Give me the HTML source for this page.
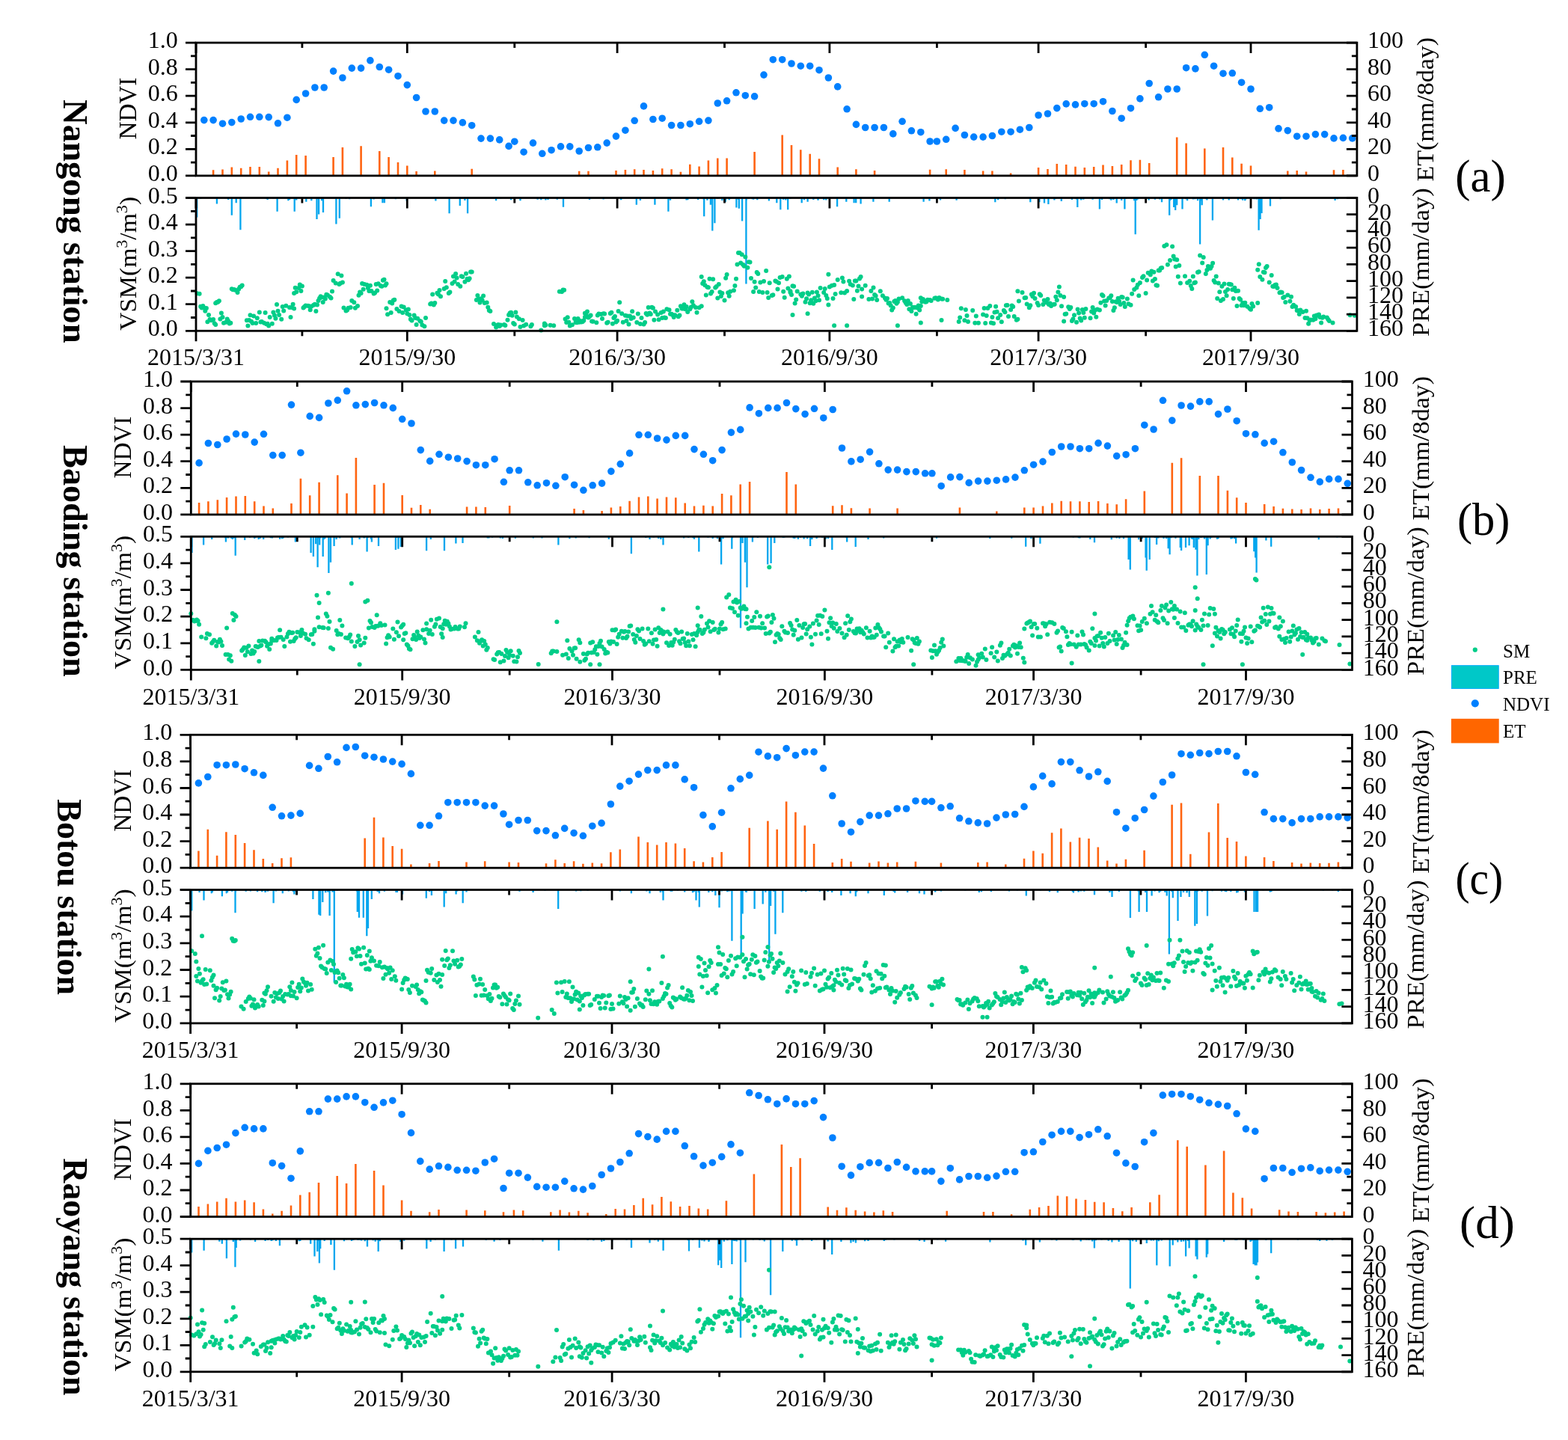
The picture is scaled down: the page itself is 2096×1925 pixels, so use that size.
<!DOCTYPE html>
<html><head><meta charset="utf-8"><title>Figure</title><style>html,body{margin:0;padding:0;background:#fff;width:2096px;height:1925px;overflow:hidden}svg{display:block}</style></head><body>
<svg width="2096" height="1925" viewBox="0 0 2096 1925" font-family="'Liberation Serif', 'DejaVu Serif', serif">
<rect width="2096" height="1925" fill="#fff"/>
<path d="M285.1 234.8v-7.5M297.5 234.8v-8.4M309.8 234.8v-11.4M322.2 234.8v-10.1M334.5 234.8v-11.9M346.8 234.8v-11.9M359.2 234.8v-5.2M371.5 234.8v-10.1M383.9 234.8v-20.3M396.2 234.8v-27.7M408.6 234.8v-26.7M445.6 234.8v-24.9M457.9 234.8v-37.9M482.6 234.8v-39.6M507.3 234.8v-32.7M519.6 234.8v-24.7M532.0 234.8v-17.8M544.3 234.8v-13.3M556.6 234.8v-5.7M581.3 234.8v-6.2M630.7 234.8v-9.1M774.2 234.8v-6.0M786.5 234.8v-6.0M823.5 234.8v-6.9M835.9 234.8v-7.8M848.2 234.8v-8.5M860.5 234.8v-7.8M872.9 234.8v-6.9M885.2 234.8v-9.6M897.6 234.8v-8.5M909.9 234.8v-5.0M922.3 234.8v-15.1M934.6 234.8v-12.4M946.9 234.8v-20.3M959.3 234.8v-23.3M971.6 234.8v-23.3M1008.6 234.8v-31.8M1045.7 234.8v-54.4M1058.0 234.8v-40.9M1070.3 234.8v-34.5M1082.7 234.8v-29.0M1095.0 234.8v-22.6M1119.7 234.8v-11.4M1144.4 234.8v-8.5M1169.1 234.8v-6.9M1243.1 234.8v-8.0M1264.7 234.8v-8.5M1289.4 234.8v-7.8M1314.1 234.8v-6.4M1326.4 234.8v-6.4M1351.1 234.8v-3.2M1388.1 234.8v-10.7M1400.5 234.8v-8.9M1412.8 234.8v-15.8M1425.2 234.8v-14.9M1437.5 234.8v-12.1M1449.8 234.8v-10.7M1462.2 234.8v-11.7M1474.5 234.8v-14.2M1486.9 234.8v-12.8M1499.2 234.8v-14.8M1511.5 234.8v-20.6M1523.9 234.8v-21.0M1536.2 234.8v-16.9M1573.2 234.8v-51.2M1585.6 234.8v-43.2M1610.3 234.8v-36.4M1635.0 234.8v-37.9M1647.3 234.8v-24.4M1659.6 234.8v-16.0M1672.0 234.8v-13.3M1721.3 234.8v-6.4M1733.7 234.8v-6.9M1746.0 234.8v-5.3M1783.0 234.8v-7.5M1795.4 234.8v-7.8" stroke="#ff6410" stroke-width="2.6" fill="none"/>
<g fill="#0080ff"><circle cx="272.8" cy="160.6" r="4.8"/><circle cx="285.1" cy="160.6" r="4.8"/><circle cx="297.5" cy="165.2" r="4.8"/><circle cx="309.8" cy="163.6" r="4.8"/><circle cx="322.2" cy="159.0" r="4.8"/><circle cx="334.5" cy="156.3" r="4.8"/><circle cx="346.8" cy="156.3" r="4.8"/><circle cx="359.2" cy="156.6" r="4.8"/><circle cx="371.5" cy="164.8" r="4.8"/><circle cx="383.9" cy="157.2" r="4.8"/><circle cx="396.2" cy="133.4" r="4.8"/><circle cx="408.6" cy="125.0" r="4.8"/><circle cx="420.9" cy="117.0" r="4.8"/><circle cx="433.2" cy="117.0" r="4.8"/><circle cx="445.6" cy="95.1" r="4.8"/><circle cx="457.9" cy="104.0" r="4.8"/><circle cx="470.3" cy="91.1" r="4.8"/><circle cx="482.6" cy="91.1" r="4.8"/><circle cx="494.9" cy="80.9" r="4.8"/><circle cx="507.3" cy="89.5" r="4.8"/><circle cx="519.6" cy="93.2" r="4.8"/><circle cx="532.0" cy="101.7" r="4.8"/><circle cx="544.3" cy="113.6" r="4.8"/><circle cx="556.6" cy="130.5" r="4.8"/><circle cx="569.0" cy="149.0" r="4.8"/><circle cx="581.3" cy="149.0" r="4.8"/><circle cx="593.7" cy="161.1" r="4.8"/><circle cx="606.0" cy="161.1" r="4.8"/><circle cx="618.4" cy="163.9" r="4.8"/><circle cx="630.7" cy="167.7" r="4.8"/><circle cx="643.0" cy="185.1" r="4.8"/><circle cx="655.4" cy="185.1" r="4.8"/><circle cx="667.7" cy="186.9" r="4.8"/><circle cx="680.1" cy="195.4" r="4.8"/><circle cx="687.8" cy="189.2" r="4.8"/><circle cx="700.1" cy="203.2" r="4.8"/><circle cx="712.5" cy="191.1" r="4.8"/><circle cx="724.8" cy="205.3" r="4.8"/><circle cx="737.1" cy="200.7" r="4.8"/><circle cx="749.5" cy="195.9" r="4.8"/><circle cx="761.8" cy="195.9" r="4.8"/><circle cx="774.2" cy="202.0" r="4.8"/><circle cx="786.5" cy="197.5" r="4.8"/><circle cx="798.8" cy="196.8" r="4.8"/><circle cx="811.2" cy="191.1" r="4.8"/><circle cx="823.5" cy="182.1" r="4.8"/><circle cx="835.9" cy="174.2" r="4.8"/><circle cx="848.2" cy="161.3" r="4.8"/><circle cx="860.5" cy="141.9" r="4.8"/><circle cx="872.9" cy="159.5" r="4.8"/><circle cx="885.2" cy="158.2" r="4.8"/><circle cx="897.6" cy="167.5" r="4.8"/><circle cx="909.9" cy="167.5" r="4.8"/><circle cx="922.3" cy="165.7" r="4.8"/><circle cx="934.6" cy="162.3" r="4.8"/><circle cx="946.9" cy="161.1" r="4.8"/><circle cx="959.3" cy="138.0" r="4.8"/><circle cx="971.6" cy="134.8" r="4.8"/><circle cx="984.0" cy="123.8" r="4.8"/><circle cx="996.3" cy="127.7" r="4.8"/><circle cx="1008.6" cy="128.9" r="4.8"/><circle cx="1021.0" cy="100.1" r="4.8"/><circle cx="1033.3" cy="79.7" r="4.8"/><circle cx="1045.7" cy="79.7" r="4.8"/><circle cx="1058.0" cy="85.0" r="4.8"/><circle cx="1070.3" cy="88.2" r="4.8"/><circle cx="1082.7" cy="88.2" r="4.8"/><circle cx="1095.0" cy="93.7" r="4.8"/><circle cx="1107.4" cy="104.0" r="4.8"/><circle cx="1119.7" cy="115.9" r="4.8"/><circle cx="1132.1" cy="145.8" r="4.8"/><circle cx="1144.4" cy="166.4" r="4.8"/><circle cx="1156.7" cy="170.5" r="4.8"/><circle cx="1169.1" cy="170.5" r="4.8"/><circle cx="1181.4" cy="170.5" r="4.8"/><circle cx="1193.8" cy="178.9" r="4.8"/><circle cx="1206.1" cy="162.3" r="4.8"/><circle cx="1218.4" cy="174.8" r="4.8"/><circle cx="1230.8" cy="176.7" r="4.8"/><circle cx="1243.1" cy="189.0" r="4.8"/><circle cx="1252.4" cy="189.0" r="4.8"/><circle cx="1264.7" cy="186.3" r="4.8"/><circle cx="1277.1" cy="171.4" r="4.8"/><circle cx="1289.4" cy="180.5" r="4.8"/><circle cx="1301.7" cy="183.1" r="4.8"/><circle cx="1314.1" cy="183.1" r="4.8"/><circle cx="1326.4" cy="181.5" r="4.8"/><circle cx="1338.8" cy="176.2" r="4.8"/><circle cx="1351.1" cy="176.2" r="4.8"/><circle cx="1363.4" cy="173.2" r="4.8"/><circle cx="1375.8" cy="170.5" r="4.8"/><circle cx="1388.1" cy="154.0" r="4.8"/><circle cx="1400.5" cy="152.0" r="4.8"/><circle cx="1412.8" cy="144.6" r="4.8"/><circle cx="1425.2" cy="138.9" r="4.8"/><circle cx="1437.5" cy="139.9" r="4.8"/><circle cx="1449.8" cy="138.7" r="4.8"/><circle cx="1462.2" cy="138.7" r="4.8"/><circle cx="1474.5" cy="135.7" r="4.8"/><circle cx="1486.9" cy="148.5" r="4.8"/><circle cx="1499.2" cy="158.2" r="4.8"/><circle cx="1511.5" cy="144.7" r="4.8"/><circle cx="1523.9" cy="131.9" r="4.8"/><circle cx="1536.2" cy="111.5" r="4.8"/><circle cx="1548.6" cy="129.8" r="4.8"/><circle cx="1560.9" cy="119.0" r="4.8"/><circle cx="1573.2" cy="119.0" r="4.8"/><circle cx="1585.6" cy="90.7" r="4.8"/><circle cx="1597.9" cy="91.9" r="4.8"/><circle cx="1610.3" cy="73.3" r="4.8"/><circle cx="1622.6" cy="88.2" r="4.8"/><circle cx="1635.0" cy="98.2" r="4.8"/><circle cx="1647.3" cy="97.8" r="4.8"/><circle cx="1659.6" cy="110.2" r="4.8"/><circle cx="1672.0" cy="119.0" r="4.8"/><circle cx="1684.3" cy="145.3" r="4.8"/><circle cx="1696.7" cy="143.7" r="4.8"/><circle cx="1709.0" cy="171.9" r="4.8"/><circle cx="1721.3" cy="174.6" r="4.8"/><circle cx="1733.7" cy="182.2" r="4.8"/><circle cx="1746.0" cy="182.2" r="4.8"/><circle cx="1758.4" cy="179.6" r="4.8"/><circle cx="1770.7" cy="179.6" r="4.8"/><circle cx="1783.0" cy="184.9" r="4.8"/><circle cx="1795.4" cy="184.4" r="4.8"/><circle cx="1807.7" cy="184.9" r="4.8"/></g>
<path d="M263.2 264.5v26.0M289.9 264.5v7.9M309.8 264.5v23.3M315.7 264.5v6.7M321.4 264.5v42.8M370.6 264.5v18.2M393.7 264.5v18.2M409.3 264.5v5.3M423.5 264.5v28.6M426.1 264.5v22.1M432.0 264.5v19.6M449.4 264.5v35.0M453.8 264.5v27.3M495.9 264.5v11.8M511.4 264.5v6.7M513.9 264.5v6.7M543.7 264.5v4.0M582.4 264.5v4.0M600.6 264.5v20.8M614.8 264.5v10.4M625.1 264.5v20.8M753.0 264.5v12.3M830.2 264.5v2.8M850.8 264.5v9.2M875.4 264.5v9.2M893.4 264.5v18.2M919.3 264.5v2.8M941.2 264.5v24.7M949.9 264.5v9.2M952.3 264.5v44.1M955.4 264.5v33.8M969.8 264.5v5.3M984.4 264.5v13.1M987.8 264.5v14.3M992.1 264.5v31.1M997.4 264.5v115.1M1012.3 264.5v2.8M1027.9 264.5v4.0M1038.3 264.5v6.7M1043.3 264.5v15.7M1053.2 264.5v15.7M1071.7 264.5v6.7M1079.6 264.5v5.3M1119.1 264.5v11.8M1131.3 264.5v5.3M1141.6 264.5v6.7M1144.2 264.5v6.7M1150.6 264.5v7.9M1167.4 264.5v5.3M1188.7 264.5v5.3M1234.6 264.5v5.3M1242.4 264.5v4.0M1330.3 264.5v5.8M1343.7 264.5v1.8M1377.3 264.5v5.8M1389.4 264.5v5.8M1396.0 264.5v7.1M1401.4 264.5v8.4M1409.4 264.5v3.1M1418.8 264.5v4.4M1440.3 264.5v12.4M1469.9 264.5v15.1M1483.3 264.5v1.8M1492.7 264.5v7.1M1503.4 264.5v15.1M1517.7 264.5v48.7M1535.6 264.5v3.1M1553.0 264.5v5.8M1563.2 264.5v23.2M1569.2 264.5v12.4M1571.2 264.5v16.4M1573.2 264.5v9.8M1580.5 264.5v15.1M1585.3 264.5v1.8M1597.3 264.5v1.8M1604.1 264.5v62.1M1606.7 264.5v9.8M1612.6 264.5v1.8M1620.9 264.5v29.9M1659.0 264.5v1.8M1665.8 264.5v1.8M1676.5 264.5v1.8M1682.6 264.5v43.3M1684.6 264.5v28.6M1686.5 264.5v20.6M1698.0 264.5v11.1M1711.5 264.5v1.8M1787.8 264.5v1.8M268.2 264.5v1.4M305.2 264.5v2.6M322.2 264.5v0.9M356.1 264.5v1.2M357.6 264.5v2.5M365.4 264.5v1.0M385.4 264.5v3.8M387.0 264.5v2.6M396.2 264.5v3.0M416.3 264.5v3.8M424.0 264.5v1.4M430.1 264.5v3.8M462.5 264.5v1.4M467.2 264.5v1.8M499.6 264.5v2.0M528.9 264.5v1.8M621.4 264.5v3.5M663.1 264.5v3.7M669.3 264.5v0.9M683.1 264.5v2.8M695.5 264.5v3.7M697.0 264.5v1.1M718.6 264.5v2.3M723.3 264.5v2.7M729.4 264.5v3.0M732.5 264.5v2.6M744.8 264.5v2.2M788.0 264.5v2.4M806.6 264.5v1.9M855.9 264.5v3.6M896.0 264.5v3.3M917.6 264.5v2.9M933.1 264.5v2.4M940.8 264.5v2.4M945.4 264.5v3.3M959.3 264.5v1.5M965.4 264.5v3.4M970.1 264.5v2.6M974.7 264.5v2.8M976.2 264.5v1.5M987.0 264.5v2.3M991.7 264.5v1.6M997.8 264.5v3.0M1000.9 264.5v1.5M1005.6 264.5v1.7M1007.1 264.5v2.3M1047.2 264.5v2.6M1050.3 264.5v2.9M1056.5 264.5v1.6M1075.0 264.5v2.7M1079.6 264.5v2.4M1081.1 264.5v1.4M1082.7 264.5v1.0M1087.3 264.5v2.5M1093.5 264.5v3.3M1101.2 264.5v2.8M1104.3 264.5v3.1M1257.0 264.5v2.9M1278.6 264.5v3.3M1334.1 264.5v2.8M1375.8 264.5v1.1M1411.3 264.5v1.5M1432.9 264.5v2.6M1437.5 264.5v1.1M1439.0 264.5v2.1M1445.2 264.5v3.0M1448.3 264.5v2.3M1460.6 264.5v2.3M1473.0 264.5v2.6M1485.3 264.5v3.3M1488.4 264.5v2.6M1499.2 264.5v3.4M1505.4 264.5v1.6M1516.2 264.5v3.8M1519.3 264.5v3.5M1520.8 264.5v1.9M1543.9 264.5v2.2M1550.1 264.5v2.1M1564.0 264.5v3.8M1565.5 264.5v2.4M1576.3 264.5v1.2M1587.1 264.5v3.8M1590.2 264.5v1.3M1594.8 264.5v2.1M1596.4 264.5v1.8M1601.0 264.5v3.8M1602.6 264.5v1.0M1604.1 264.5v2.3M1605.6 264.5v3.9M1611.8 264.5v1.1M1613.4 264.5v3.0M1635.0 264.5v2.9M1642.7 264.5v2.9M1655.0 264.5v2.9M1656.6 264.5v0.9M1661.2 264.5v3.2M1664.3 264.5v3.7M1672.0 264.5v1.1M1679.7 264.5v1.9M1784.6 264.5v3.6" stroke="#04a6ee" stroke-width="2.3" fill="none"/>
<g fill="#00cd88"><circle cx="263.5" cy="392.3" r="3"/><circle cx="266.6" cy="392.8" r="3"/><circle cx="268.2" cy="409.7" r="3"/><circle cx="269.7" cy="411.4" r="3"/><circle cx="271.3" cy="409.1" r="3"/><circle cx="272.8" cy="411.4" r="3"/><circle cx="274.3" cy="415.8" r="3"/><circle cx="275.9" cy="412.0" r="3"/><circle cx="277.4" cy="430.3" r="3"/><circle cx="279.0" cy="420.9" r="3"/><circle cx="280.5" cy="426.9" r="3"/><circle cx="282.1" cy="428.3" r="3"/><circle cx="285.1" cy="427.0" r="3"/><circle cx="286.7" cy="432.3" r="3"/><circle cx="288.2" cy="433.9" r="3"/><circle cx="288.2" cy="405.2" r="3"/><circle cx="289.8" cy="404.0" r="3"/><circle cx="291.3" cy="403.7" r="3"/><circle cx="292.9" cy="402.3" r="3"/><circle cx="294.4" cy="426.6" r="3"/><circle cx="295.9" cy="418.6" r="3"/><circle cx="297.5" cy="424.1" r="3"/><circle cx="299.0" cy="431.8" r="3"/><circle cx="302.1" cy="430.7" r="3"/><circle cx="303.7" cy="426.6" r="3"/><circle cx="305.2" cy="429.3" r="3"/><circle cx="306.7" cy="432.5" r="3"/><circle cx="308.3" cy="431.7" r="3"/><circle cx="309.8" cy="386.2" r="3"/><circle cx="311.4" cy="387.2" r="3"/><circle cx="312.9" cy="387.0" r="3"/><circle cx="314.4" cy="387.7" r="3"/><circle cx="317.5" cy="391.0" r="3"/><circle cx="319.1" cy="386.6" r="3"/><circle cx="320.6" cy="383.8" r="3"/><circle cx="322.2" cy="383.3" r="3"/><circle cx="323.7" cy="381.6" r="3"/><circle cx="329.9" cy="428.2" r="3"/><circle cx="331.4" cy="435.5" r="3"/><circle cx="333.0" cy="428.0" r="3"/><circle cx="334.5" cy="421.3" r="3"/><circle cx="336.0" cy="429.7" r="3"/><circle cx="337.6" cy="431.9" r="3"/><circle cx="339.1" cy="422.4" r="3"/><circle cx="342.2" cy="432.0" r="3"/><circle cx="343.8" cy="425.2" r="3"/><circle cx="346.8" cy="417.6" r="3"/><circle cx="348.4" cy="430.5" r="3"/><circle cx="349.9" cy="430.1" r="3"/><circle cx="353.0" cy="431.7" r="3"/><circle cx="354.6" cy="417.9" r="3"/><circle cx="356.1" cy="433.3" r="3"/><circle cx="357.6" cy="432.8" r="3"/><circle cx="359.2" cy="435.4" r="3"/><circle cx="360.7" cy="423.9" r="3"/><circle cx="363.8" cy="432.7" r="3"/><circle cx="365.4" cy="417.5" r="3"/><circle cx="366.9" cy="421.6" r="3"/><circle cx="368.4" cy="425.7" r="3"/><circle cx="370.0" cy="406.9" r="3"/><circle cx="371.5" cy="415.7" r="3"/><circle cx="373.1" cy="421.0" r="3"/><circle cx="376.2" cy="426.8" r="3"/><circle cx="377.7" cy="409.9" r="3"/><circle cx="379.2" cy="415.6" r="3"/><circle cx="382.3" cy="408.8" r="3"/><circle cx="387.0" cy="410.9" r="3"/><circle cx="388.5" cy="424.0" r="3"/><circle cx="390.0" cy="410.9" r="3"/><circle cx="391.6" cy="406.7" r="3"/><circle cx="393.1" cy="412.4" r="3"/><circle cx="393.1" cy="391.9" r="3"/><circle cx="394.7" cy="384.8" r="3"/><circle cx="396.2" cy="390.3" r="3"/><circle cx="399.3" cy="385.1" r="3"/><circle cx="400.8" cy="380.5" r="3"/><circle cx="402.4" cy="389.0" r="3"/><circle cx="403.9" cy="382.4" r="3"/><circle cx="405.5" cy="411.4" r="3"/><circle cx="407.0" cy="409.9" r="3"/><circle cx="408.6" cy="408.6" r="3"/><circle cx="411.6" cy="408.8" r="3"/><circle cx="413.2" cy="409.3" r="3"/><circle cx="414.7" cy="414.3" r="3"/><circle cx="416.3" cy="409.4" r="3"/><circle cx="419.3" cy="407.8" r="3"/><circle cx="420.9" cy="406.7" r="3"/><circle cx="422.4" cy="415.9" r="3"/><circle cx="424.0" cy="407.4" r="3"/><circle cx="425.5" cy="401.9" r="3"/><circle cx="427.1" cy="398.7" r="3"/><circle cx="428.6" cy="396.2" r="3"/><circle cx="430.1" cy="397.4" r="3"/><circle cx="431.7" cy="404.0" r="3"/><circle cx="433.2" cy="397.6" r="3"/><circle cx="434.8" cy="399.6" r="3"/><circle cx="436.3" cy="393.8" r="3"/><circle cx="437.9" cy="394.4" r="3"/><circle cx="440.9" cy="396.8" r="3"/><circle cx="442.5" cy="398.4" r="3"/><circle cx="444.0" cy="389.6" r="3"/><circle cx="445.6" cy="375.1" r="3"/><circle cx="448.7" cy="378.4" r="3"/><circle cx="451.7" cy="366.3" r="3"/><circle cx="453.3" cy="380.0" r="3"/><circle cx="454.8" cy="378.8" r="3"/><circle cx="456.4" cy="368.6" r="3"/><circle cx="457.9" cy="377.6" r="3"/><circle cx="459.5" cy="411.5" r="3"/><circle cx="462.5" cy="415.5" r="3"/><circle cx="464.1" cy="414.4" r="3"/><circle cx="465.6" cy="411.8" r="3"/><circle cx="468.7" cy="411.0" r="3"/><circle cx="470.3" cy="402.1" r="3"/><circle cx="473.3" cy="404.3" r="3"/><circle cx="474.9" cy="411.7" r="3"/><circle cx="478.0" cy="408.9" r="3"/><circle cx="479.5" cy="394.8" r="3"/><circle cx="481.1" cy="390.5" r="3"/><circle cx="482.6" cy="392.0" r="3"/><circle cx="484.1" cy="379.1" r="3"/><circle cx="485.7" cy="386.7" r="3"/><circle cx="487.2" cy="379.9" r="3"/><circle cx="490.3" cy="380.8" r="3"/><circle cx="491.9" cy="384.9" r="3"/><circle cx="493.4" cy="389.0" r="3"/><circle cx="494.9" cy="381.7" r="3"/><circle cx="496.5" cy="389.0" r="3"/><circle cx="499.6" cy="392.4" r="3"/><circle cx="501.1" cy="391.6" r="3"/><circle cx="502.7" cy="380.0" r="3"/><circle cx="504.2" cy="388.6" r="3"/><circle cx="505.7" cy="379.2" r="3"/><circle cx="508.8" cy="382.1" r="3"/><circle cx="510.4" cy="382.7" r="3"/><circle cx="511.9" cy="374.7" r="3"/><circle cx="513.5" cy="373.7" r="3"/><circle cx="515.0" cy="381.6" r="3"/><circle cx="516.5" cy="379.2" r="3"/><circle cx="516.5" cy="412.2" r="3"/><circle cx="518.1" cy="420.3" r="3"/><circle cx="521.2" cy="403.9" r="3"/><circle cx="522.7" cy="417.9" r="3"/><circle cx="524.2" cy="405.4" r="3"/><circle cx="525.8" cy="401.4" r="3"/><circle cx="527.3" cy="400.8" r="3"/><circle cx="530.4" cy="413.0" r="3"/><circle cx="533.5" cy="416.0" r="3"/><circle cx="536.6" cy="409.6" r="3"/><circle cx="538.1" cy="417.9" r="3"/><circle cx="539.7" cy="410.4" r="3"/><circle cx="542.8" cy="414.5" r="3"/><circle cx="544.3" cy="419.3" r="3"/><circle cx="545.8" cy="413.4" r="3"/><circle cx="547.4" cy="421.0" r="3"/><circle cx="548.9" cy="426.7" r="3"/><circle cx="550.5" cy="428.4" r="3"/><circle cx="553.6" cy="421.4" r="3"/><circle cx="555.1" cy="425.0" r="3"/><circle cx="556.6" cy="433.9" r="3"/><circle cx="558.2" cy="425.8" r="3"/><circle cx="561.3" cy="428.9" r="3"/><circle cx="562.8" cy="430.1" r="3"/><circle cx="564.4" cy="434.4" r="3"/><circle cx="567.4" cy="436.3" r="3"/><circle cx="569.0" cy="424.9" r="3"/><circle cx="575.2" cy="406.5" r="3"/><circle cx="576.7" cy="405.4" r="3"/><circle cx="578.2" cy="393.4" r="3"/><circle cx="579.8" cy="407.4" r="3"/><circle cx="581.3" cy="405.0" r="3"/><circle cx="584.4" cy="391.7" r="3"/><circle cx="586.0" cy="393.6" r="3"/><circle cx="587.5" cy="388.0" r="3"/><circle cx="589.0" cy="396.2" r="3"/><circle cx="593.7" cy="386.0" r="3"/><circle cx="595.2" cy="376.1" r="3"/><circle cx="596.8" cy="384.2" r="3"/><circle cx="599.8" cy="392.1" r="3"/><circle cx="601.4" cy="390.6" r="3"/><circle cx="604.5" cy="379.0" r="3"/><circle cx="606.0" cy="369.5" r="3"/><circle cx="607.6" cy="376.6" r="3"/><circle cx="609.1" cy="366.1" r="3"/><circle cx="610.6" cy="371.4" r="3"/><circle cx="612.2" cy="380.1" r="3"/><circle cx="615.3" cy="382.7" r="3"/><circle cx="616.8" cy="369.2" r="3"/><circle cx="618.4" cy="370.1" r="3"/><circle cx="621.4" cy="376.7" r="3"/><circle cx="623.0" cy="365.7" r="3"/><circle cx="624.5" cy="372.7" r="3"/><circle cx="626.1" cy="374.3" r="3"/><circle cx="627.6" cy="372.2" r="3"/><circle cx="629.1" cy="363.5" r="3"/><circle cx="630.7" cy="363.4" r="3"/><circle cx="636.9" cy="401.0" r="3"/><circle cx="638.4" cy="395.1" r="3"/><circle cx="639.9" cy="399.8" r="3"/><circle cx="641.5" cy="404.4" r="3"/><circle cx="643.0" cy="399.2" r="3"/><circle cx="644.6" cy="401.3" r="3"/><circle cx="646.1" cy="395.6" r="3"/><circle cx="647.7" cy="405.0" r="3"/><circle cx="650.7" cy="404.5" r="3"/><circle cx="652.3" cy="410.7" r="3"/><circle cx="653.8" cy="415.0" r="3"/><circle cx="655.4" cy="415.9" r="3"/><circle cx="660.0" cy="432.9" r="3"/><circle cx="663.1" cy="437.5" r="3"/><circle cx="664.6" cy="434.8" r="3"/><circle cx="666.2" cy="433.9" r="3"/><circle cx="667.7" cy="436.0" r="3"/><circle cx="669.3" cy="434.4" r="3"/><circle cx="673.9" cy="434.0" r="3"/><circle cx="675.4" cy="434.9" r="3"/><circle cx="678.5" cy="427.7" r="3"/><circle cx="680.1" cy="421.1" r="3"/><circle cx="681.6" cy="418.5" r="3"/><circle cx="683.1" cy="417.7" r="3"/><circle cx="684.7" cy="421.7" r="3"/><circle cx="686.2" cy="431.9" r="3"/><circle cx="687.8" cy="433.6" r="3"/><circle cx="689.3" cy="417.6" r="3"/><circle cx="690.9" cy="423.4" r="3"/><circle cx="693.9" cy="426.2" r="3"/><circle cx="695.5" cy="436.9" r="3"/><circle cx="698.6" cy="427.9" r="3"/><circle cx="700.1" cy="435.6" r="3"/><circle cx="703.2" cy="433.7" r="3"/><circle cx="709.4" cy="436.2" r="3"/><circle cx="710.9" cy="434.1" r="3"/><circle cx="723.3" cy="441.4" r="3"/><circle cx="727.9" cy="432.6" r="3"/><circle cx="729.4" cy="434.5" r="3"/><circle cx="735.6" cy="434.8" r="3"/><circle cx="747.9" cy="389.8" r="3"/><circle cx="751.0" cy="389.9" r="3"/><circle cx="752.6" cy="387.4" r="3"/><circle cx="754.1" cy="387.7" r="3"/><circle cx="755.6" cy="426.6" r="3"/><circle cx="757.2" cy="430.9" r="3"/><circle cx="758.7" cy="424.3" r="3"/><circle cx="760.3" cy="430.7" r="3"/><circle cx="761.8" cy="435.4" r="3"/><circle cx="764.9" cy="434.2" r="3"/><circle cx="768.0" cy="426.1" r="3"/><circle cx="769.5" cy="430.9" r="3"/><circle cx="771.1" cy="431.3" r="3"/><circle cx="772.6" cy="426.1" r="3"/><circle cx="774.2" cy="430.8" r="3"/><circle cx="775.7" cy="428.9" r="3"/><circle cx="777.2" cy="430.4" r="3"/><circle cx="778.8" cy="429.9" r="3"/><circle cx="780.3" cy="428.6" r="3"/><circle cx="781.9" cy="424.1" r="3"/><circle cx="781.9" cy="418.8" r="3"/><circle cx="783.4" cy="420.1" r="3"/><circle cx="785.0" cy="416.5" r="3"/><circle cx="786.5" cy="424.5" r="3"/><circle cx="788.0" cy="422.9" r="3"/><circle cx="789.6" cy="421.5" r="3"/><circle cx="791.1" cy="429.6" r="3"/><circle cx="792.7" cy="429.8" r="3"/><circle cx="797.3" cy="431.2" r="3"/><circle cx="798.8" cy="421.5" r="3"/><circle cx="800.4" cy="419.5" r="3"/><circle cx="803.5" cy="419.9" r="3"/><circle cx="805.0" cy="426.0" r="3"/><circle cx="806.6" cy="419.3" r="3"/><circle cx="808.1" cy="419.6" r="3"/><circle cx="811.2" cy="431.8" r="3"/><circle cx="812.7" cy="430.7" r="3"/><circle cx="815.8" cy="418.9" r="3"/><circle cx="817.4" cy="417.7" r="3"/><circle cx="818.9" cy="432.8" r="3"/><circle cx="820.4" cy="425.1" r="3"/><circle cx="822.0" cy="422.9" r="3"/><circle cx="823.5" cy="430.6" r="3"/><circle cx="825.1" cy="428.7" r="3"/><circle cx="826.6" cy="416.1" r="3"/><circle cx="831.2" cy="419.2" r="3"/><circle cx="832.8" cy="430.7" r="3"/><circle cx="835.9" cy="421.7" r="3"/><circle cx="837.4" cy="429.1" r="3"/><circle cx="838.9" cy="422.5" r="3"/><circle cx="840.5" cy="433.4" r="3"/><circle cx="842.0" cy="422.5" r="3"/><circle cx="843.6" cy="426.0" r="3"/><circle cx="845.1" cy="416.3" r="3"/><circle cx="846.7" cy="424.6" r="3"/><circle cx="851.3" cy="431.0" r="3"/><circle cx="852.8" cy="419.5" r="3"/><circle cx="855.9" cy="432.9" r="3"/><circle cx="857.5" cy="424.9" r="3"/><circle cx="860.5" cy="433.5" r="3"/><circle cx="862.1" cy="431.1" r="3"/><circle cx="863.6" cy="418.9" r="3"/><circle cx="865.2" cy="420.7" r="3"/><circle cx="866.7" cy="411.0" r="3"/><circle cx="868.3" cy="418.6" r="3"/><circle cx="869.8" cy="420.1" r="3"/><circle cx="871.3" cy="410.8" r="3"/><circle cx="872.9" cy="411.8" r="3"/><circle cx="874.4" cy="427.7" r="3"/><circle cx="876.0" cy="416.4" r="3"/><circle cx="879.1" cy="420.6" r="3"/><circle cx="880.6" cy="427.2" r="3"/><circle cx="883.7" cy="417.9" r="3"/><circle cx="885.2" cy="425.0" r="3"/><circle cx="886.8" cy="416.6" r="3"/><circle cx="888.3" cy="424.6" r="3"/><circle cx="889.9" cy="425.1" r="3"/><circle cx="891.4" cy="413.2" r="3"/><circle cx="894.5" cy="414.2" r="3"/><circle cx="896.0" cy="419.8" r="3"/><circle cx="897.6" cy="419.7" r="3"/><circle cx="899.1" cy="421.1" r="3"/><circle cx="900.7" cy="423.9" r="3"/><circle cx="902.2" cy="421.3" r="3"/><circle cx="905.3" cy="414.8" r="3"/><circle cx="906.8" cy="423.2" r="3"/><circle cx="908.4" cy="421.4" r="3"/><circle cx="909.9" cy="409.3" r="3"/><circle cx="911.5" cy="412.6" r="3"/><circle cx="913.0" cy="412.5" r="3"/><circle cx="914.5" cy="407.3" r="3"/><circle cx="916.1" cy="413.2" r="3"/><circle cx="917.6" cy="409.9" r="3"/><circle cx="919.2" cy="417.0" r="3"/><circle cx="922.3" cy="413.3" r="3"/><circle cx="923.8" cy="410.4" r="3"/><circle cx="925.3" cy="403.2" r="3"/><circle cx="926.9" cy="408.3" r="3"/><circle cx="930.0" cy="410.9" r="3"/><circle cx="931.5" cy="417.8" r="3"/><circle cx="934.6" cy="411.2" r="3"/><circle cx="937.7" cy="409.2" r="3"/><circle cx="937.7" cy="370.0" r="3"/><circle cx="939.2" cy="378.9" r="3"/><circle cx="940.8" cy="376.3" r="3"/><circle cx="942.3" cy="381.3" r="3"/><circle cx="943.8" cy="394.6" r="3"/><circle cx="945.4" cy="383.8" r="3"/><circle cx="946.9" cy="384.3" r="3"/><circle cx="948.5" cy="372.7" r="3"/><circle cx="950.0" cy="392.5" r="3"/><circle cx="951.6" cy="390.0" r="3"/><circle cx="953.1" cy="373.2" r="3"/><circle cx="956.2" cy="384.6" r="3"/><circle cx="957.7" cy="382.9" r="3"/><circle cx="959.3" cy="398.5" r="3"/><circle cx="960.8" cy="379.9" r="3"/><circle cx="962.4" cy="390.5" r="3"/><circle cx="963.9" cy="396.0" r="3"/><circle cx="965.4" cy="392.1" r="3"/><circle cx="968.5" cy="401.5" r="3"/><circle cx="970.1" cy="371.7" r="3"/><circle cx="971.6" cy="367.0" r="3"/><circle cx="973.2" cy="391.3" r="3"/><circle cx="974.7" cy="395.8" r="3"/><circle cx="976.2" cy="389.7" r="3"/><circle cx="980.9" cy="388.2" r="3"/><circle cx="982.4" cy="382.0" r="3"/><circle cx="984.0" cy="372.7" r="3"/><circle cx="985.5" cy="353.5" r="3"/><circle cx="987.0" cy="337.9" r="3"/><circle cx="988.6" cy="338.0" r="3"/><circle cx="990.1" cy="351.6" r="3"/><circle cx="991.7" cy="340.2" r="3"/><circle cx="993.2" cy="353.7" r="3"/><circle cx="994.8" cy="355.8" r="3"/><circle cx="996.3" cy="343.4" r="3"/><circle cx="999.4" cy="357.8" r="3"/><circle cx="1000.9" cy="350.3" r="3"/><circle cx="1002.5" cy="350.4" r="3"/><circle cx="1004.0" cy="372.1" r="3"/><circle cx="1007.1" cy="389.9" r="3"/><circle cx="1008.6" cy="376.7" r="3"/><circle cx="1010.2" cy="384.4" r="3"/><circle cx="1011.7" cy="363.9" r="3"/><circle cx="1013.3" cy="366.0" r="3"/><circle cx="1014.8" cy="390.0" r="3"/><circle cx="1016.4" cy="377.5" r="3"/><circle cx="1019.4" cy="391.1" r="3"/><circle cx="1021.0" cy="376.0" r="3"/><circle cx="1024.1" cy="362.0" r="3"/><circle cx="1025.6" cy="390.9" r="3"/><circle cx="1027.2" cy="398.0" r="3"/><circle cx="1028.7" cy="378.2" r="3"/><circle cx="1031.8" cy="395.1" r="3"/><circle cx="1033.3" cy="394.3" r="3"/><circle cx="1036.4" cy="375.6" r="3"/><circle cx="1038.0" cy="376.5" r="3"/><circle cx="1039.5" cy="386.4" r="3"/><circle cx="1041.0" cy="378.3" r="3"/><circle cx="1042.6" cy="371.1" r="3"/><circle cx="1045.7" cy="370.1" r="3"/><circle cx="1047.2" cy="389.8" r="3"/><circle cx="1048.7" cy="397.7" r="3"/><circle cx="1051.8" cy="372.8" r="3"/><circle cx="1053.4" cy="385.6" r="3"/><circle cx="1054.9" cy="369.5" r="3"/><circle cx="1056.5" cy="389.3" r="3"/><circle cx="1056.5" cy="391.1" r="3"/><circle cx="1058.0" cy="393.9" r="3"/><circle cx="1059.5" cy="382.3" r="3"/><circle cx="1061.1" cy="382.7" r="3"/><circle cx="1062.6" cy="405.5" r="3"/><circle cx="1064.2" cy="400.6" r="3"/><circle cx="1065.7" cy="389.6" r="3"/><circle cx="1070.3" cy="393.4" r="3"/><circle cx="1071.9" cy="395.8" r="3"/><circle cx="1073.4" cy="392.4" r="3"/><circle cx="1076.5" cy="403.7" r="3"/><circle cx="1078.1" cy="399.2" r="3"/><circle cx="1079.6" cy="391.6" r="3"/><circle cx="1081.1" cy="393.5" r="3"/><circle cx="1082.7" cy="405.3" r="3"/><circle cx="1084.2" cy="401.3" r="3"/><circle cx="1085.8" cy="390.7" r="3"/><circle cx="1087.3" cy="405.7" r="3"/><circle cx="1088.9" cy="398.6" r="3"/><circle cx="1090.4" cy="402.3" r="3"/><circle cx="1091.9" cy="390.6" r="3"/><circle cx="1093.5" cy="395.2" r="3"/><circle cx="1095.0" cy="401.3" r="3"/><circle cx="1096.6" cy="385.0" r="3"/><circle cx="1101.2" cy="390.9" r="3"/><circle cx="1102.7" cy="385.9" r="3"/><circle cx="1104.3" cy="394.9" r="3"/><circle cx="1105.8" cy="398.9" r="3"/><circle cx="1107.4" cy="407.6" r="3"/><circle cx="1107.4" cy="366.8" r="3"/><circle cx="1108.9" cy="383.4" r="3"/><circle cx="1112.0" cy="381.8" r="3"/><circle cx="1113.5" cy="399.1" r="3"/><circle cx="1115.1" cy="380.9" r="3"/><circle cx="1116.6" cy="392.9" r="3"/><circle cx="1119.7" cy="374.1" r="3"/><circle cx="1124.3" cy="391.2" r="3"/><circle cx="1125.9" cy="371.6" r="3"/><circle cx="1127.4" cy="376.5" r="3"/><circle cx="1129.0" cy="391.5" r="3"/><circle cx="1132.1" cy="389.0" r="3"/><circle cx="1135.1" cy="375.7" r="3"/><circle cx="1136.7" cy="379.9" r="3"/><circle cx="1139.8" cy="381.6" r="3"/><circle cx="1141.3" cy="399.9" r="3"/><circle cx="1142.8" cy="375.6" r="3"/><circle cx="1144.4" cy="375.4" r="3"/><circle cx="1145.9" cy="388.7" r="3"/><circle cx="1147.5" cy="382.6" r="3"/><circle cx="1149.0" cy="372.6" r="3"/><circle cx="1150.6" cy="369.9" r="3"/><circle cx="1152.1" cy="396.5" r="3"/><circle cx="1152.1" cy="386.6" r="3"/><circle cx="1156.7" cy="381.8" r="3"/><circle cx="1161.4" cy="400.0" r="3"/><circle cx="1164.4" cy="388.9" r="3"/><circle cx="1166.0" cy="399.4" r="3"/><circle cx="1167.5" cy="384.6" r="3"/><circle cx="1169.1" cy="393.9" r="3"/><circle cx="1170.6" cy="395.4" r="3"/><circle cx="1172.2" cy="401.1" r="3"/><circle cx="1176.8" cy="389.3" r="3"/><circle cx="1179.9" cy="395.2" r="3"/><circle cx="1183.0" cy="398.4" r="3"/><circle cx="1184.5" cy="400.7" r="3"/><circle cx="1186.0" cy="399.0" r="3"/><circle cx="1187.6" cy="405.4" r="3"/><circle cx="1189.1" cy="405.0" r="3"/><circle cx="1190.7" cy="408.4" r="3"/><circle cx="1192.2" cy="414.4" r="3"/><circle cx="1193.8" cy="411.6" r="3"/><circle cx="1195.3" cy="403.1" r="3"/><circle cx="1196.8" cy="402.0" r="3"/><circle cx="1198.4" cy="405.7" r="3"/><circle cx="1199.9" cy="403.8" r="3"/><circle cx="1201.5" cy="399.4" r="3"/><circle cx="1206.1" cy="398.2" r="3"/><circle cx="1209.2" cy="402.2" r="3"/><circle cx="1210.7" cy="404.7" r="3"/><circle cx="1212.3" cy="407.1" r="3"/><circle cx="1213.8" cy="402.0" r="3"/><circle cx="1215.4" cy="413.3" r="3"/><circle cx="1216.9" cy="406.1" r="3"/><circle cx="1218.4" cy="415.9" r="3"/><circle cx="1220.0" cy="410.7" r="3"/><circle cx="1221.5" cy="411.0" r="3"/><circle cx="1223.1" cy="410.8" r="3"/><circle cx="1224.6" cy="419.7" r="3"/><circle cx="1226.2" cy="411.6" r="3"/><circle cx="1227.7" cy="408.6" r="3"/><circle cx="1229.2" cy="414.5" r="3"/><circle cx="1230.8" cy="409.1" r="3"/><circle cx="1230.8" cy="398.3" r="3"/><circle cx="1232.3" cy="403.3" r="3"/><circle cx="1233.9" cy="400.1" r="3"/><circle cx="1235.4" cy="402.6" r="3"/><circle cx="1237.0" cy="403.8" r="3"/><circle cx="1238.5" cy="403.2" r="3"/><circle cx="1240.0" cy="400.7" r="3"/><circle cx="1243.1" cy="401.0" r="3"/><circle cx="1244.7" cy="401.9" r="3"/><circle cx="1249.3" cy="398.7" r="3"/><circle cx="1250.8" cy="398.2" r="3"/><circle cx="1253.9" cy="400.6" r="3"/><circle cx="1255.5" cy="398.0" r="3"/><circle cx="1258.5" cy="399.5" r="3"/><circle cx="1260.1" cy="399.7" r="3"/><circle cx="1266.3" cy="401.0" r="3"/><circle cx="1281.7" cy="430.1" r="3"/><circle cx="1283.2" cy="424.4" r="3"/><circle cx="1284.8" cy="412.3" r="3"/><circle cx="1289.4" cy="428.2" r="3"/><circle cx="1290.9" cy="414.0" r="3"/><circle cx="1292.5" cy="421.9" r="3"/><circle cx="1294.0" cy="430.1" r="3"/><circle cx="1300.2" cy="415.0" r="3"/><circle cx="1303.3" cy="431.8" r="3"/><circle cx="1304.8" cy="422.6" r="3"/><circle cx="1307.9" cy="431.7" r="3"/><circle cx="1314.1" cy="420.6" r="3"/><circle cx="1315.6" cy="412.0" r="3"/><circle cx="1317.2" cy="431.9" r="3"/><circle cx="1318.7" cy="421.9" r="3"/><circle cx="1320.3" cy="412.0" r="3"/><circle cx="1323.3" cy="409.1" r="3"/><circle cx="1324.9" cy="431.6" r="3"/><circle cx="1326.4" cy="424.1" r="3"/><circle cx="1328.0" cy="432.2" r="3"/><circle cx="1329.5" cy="417.5" r="3"/><circle cx="1331.1" cy="409.7" r="3"/><circle cx="1332.6" cy="416.8" r="3"/><circle cx="1334.1" cy="425.3" r="3"/><circle cx="1337.2" cy="421.0" r="3"/><circle cx="1338.8" cy="430.3" r="3"/><circle cx="1341.9" cy="415.0" r="3"/><circle cx="1343.4" cy="417.2" r="3"/><circle cx="1344.9" cy="408.2" r="3"/><circle cx="1346.5" cy="408.0" r="3"/><circle cx="1348.0" cy="423.0" r="3"/><circle cx="1351.1" cy="413.9" r="3"/><circle cx="1352.6" cy="408.4" r="3"/><circle cx="1354.2" cy="410.0" r="3"/><circle cx="1355.7" cy="422.9" r="3"/><circle cx="1358.8" cy="427.7" r="3"/><circle cx="1360.4" cy="426.8" r="3"/><circle cx="1360.4" cy="389.2" r="3"/><circle cx="1361.9" cy="402.4" r="3"/><circle cx="1366.5" cy="391.1" r="3"/><circle cx="1369.6" cy="398.2" r="3"/><circle cx="1371.2" cy="398.0" r="3"/><circle cx="1372.7" cy="406.6" r="3"/><circle cx="1375.8" cy="411.3" r="3"/><circle cx="1377.3" cy="408.2" r="3"/><circle cx="1378.9" cy="393.5" r="3"/><circle cx="1380.4" cy="396.3" r="3"/><circle cx="1382.0" cy="391.7" r="3"/><circle cx="1383.5" cy="399.1" r="3"/><circle cx="1386.6" cy="405.0" r="3"/><circle cx="1388.1" cy="408.1" r="3"/><circle cx="1389.7" cy="393.2" r="3"/><circle cx="1391.2" cy="394.9" r="3"/><circle cx="1394.3" cy="406.9" r="3"/><circle cx="1395.8" cy="401.4" r="3"/><circle cx="1398.9" cy="404.4" r="3"/><circle cx="1400.5" cy="400.1" r="3"/><circle cx="1402.0" cy="407.0" r="3"/><circle cx="1403.6" cy="405.4" r="3"/><circle cx="1405.1" cy="409.1" r="3"/><circle cx="1408.2" cy="407.0" r="3"/><circle cx="1409.7" cy="406.7" r="3"/><circle cx="1411.3" cy="396.7" r="3"/><circle cx="1412.8" cy="401.3" r="3"/><circle cx="1414.4" cy="390.6" r="3"/><circle cx="1415.9" cy="383.4" r="3"/><circle cx="1417.4" cy="395.1" r="3"/><circle cx="1419.0" cy="409.2" r="3"/><circle cx="1422.1" cy="397.1" r="3"/><circle cx="1422.1" cy="429.6" r="3"/><circle cx="1423.6" cy="420.1" r="3"/><circle cx="1425.2" cy="419.5" r="3"/><circle cx="1428.2" cy="410.2" r="3"/><circle cx="1429.8" cy="413.0" r="3"/><circle cx="1431.3" cy="410.9" r="3"/><circle cx="1432.9" cy="429.1" r="3"/><circle cx="1434.4" cy="426.5" r="3"/><circle cx="1436.0" cy="421.2" r="3"/><circle cx="1439.0" cy="430.8" r="3"/><circle cx="1440.6" cy="413.5" r="3"/><circle cx="1442.1" cy="418.4" r="3"/><circle cx="1443.7" cy="425.6" r="3"/><circle cx="1445.2" cy="428.4" r="3"/><circle cx="1446.8" cy="414.0" r="3"/><circle cx="1448.3" cy="418.1" r="3"/><circle cx="1449.8" cy="424.7" r="3"/><circle cx="1451.4" cy="413.0" r="3"/><circle cx="1457.5" cy="425.2" r="3"/><circle cx="1459.1" cy="416.6" r="3"/><circle cx="1460.6" cy="410.9" r="3"/><circle cx="1462.2" cy="418.5" r="3"/><circle cx="1463.7" cy="414.7" r="3"/><circle cx="1465.3" cy="423.7" r="3"/><circle cx="1466.8" cy="413.4" r="3"/><circle cx="1469.9" cy="414.4" r="3"/><circle cx="1471.4" cy="404.8" r="3"/><circle cx="1473.0" cy="393.9" r="3"/><circle cx="1474.5" cy="395.5" r="3"/><circle cx="1476.1" cy="402.4" r="3"/><circle cx="1477.6" cy="408.6" r="3"/><circle cx="1479.1" cy="402.1" r="3"/><circle cx="1482.2" cy="398.5" r="3"/><circle cx="1483.8" cy="397.9" r="3"/><circle cx="1485.3" cy="395.3" r="3"/><circle cx="1486.9" cy="403.1" r="3"/><circle cx="1488.4" cy="414.9" r="3"/><circle cx="1489.9" cy="411.2" r="3"/><circle cx="1491.5" cy="403.2" r="3"/><circle cx="1493.0" cy="404.1" r="3"/><circle cx="1494.6" cy="398.8" r="3"/><circle cx="1496.1" cy="402.8" r="3"/><circle cx="1497.7" cy="406.9" r="3"/><circle cx="1499.2" cy="396.9" r="3"/><circle cx="1500.7" cy="397.5" r="3"/><circle cx="1502.3" cy="405.0" r="3"/><circle cx="1503.8" cy="410.0" r="3"/><circle cx="1506.9" cy="399.4" r="3"/><circle cx="1508.5" cy="406.3" r="3"/><circle cx="1511.5" cy="407.8" r="3"/><circle cx="1513.1" cy="392.7" r="3"/><circle cx="1514.6" cy="374.4" r="3"/><circle cx="1516.2" cy="387.0" r="3"/><circle cx="1519.3" cy="384.4" r="3"/><circle cx="1520.8" cy="380.7" r="3"/><circle cx="1522.3" cy="395.3" r="3"/><circle cx="1523.9" cy="378.0" r="3"/><circle cx="1527.0" cy="370.9" r="3"/><circle cx="1528.5" cy="369.2" r="3"/><circle cx="1531.6" cy="391.9" r="3"/><circle cx="1533.1" cy="374.6" r="3"/><circle cx="1534.7" cy="364.7" r="3"/><circle cx="1537.8" cy="367.2" r="3"/><circle cx="1539.3" cy="362.5" r="3"/><circle cx="1540.9" cy="375.6" r="3"/><circle cx="1542.4" cy="363.8" r="3"/><circle cx="1543.9" cy="373.1" r="3"/><circle cx="1545.5" cy="381.2" r="3"/><circle cx="1547.0" cy="381.7" r="3"/><circle cx="1548.6" cy="361.5" r="3"/><circle cx="1550.1" cy="361.5" r="3"/><circle cx="1551.7" cy="358.6" r="3"/><circle cx="1553.2" cy="358.1" r="3"/><circle cx="1556.3" cy="328.9" r="3"/><circle cx="1559.4" cy="327.3" r="3"/><circle cx="1560.9" cy="353.7" r="3"/><circle cx="1564.0" cy="348.0" r="3"/><circle cx="1567.1" cy="329.5" r="3"/><circle cx="1568.6" cy="342.5" r="3"/><circle cx="1570.2" cy="346.5" r="3"/><circle cx="1571.7" cy="356.4" r="3"/><circle cx="1573.2" cy="347.2" r="3"/><circle cx="1574.8" cy="369.8" r="3"/><circle cx="1576.3" cy="355.1" r="3"/><circle cx="1577.9" cy="378.5" r="3"/><circle cx="1584.0" cy="369.2" r="3"/><circle cx="1587.1" cy="377.9" r="3"/><circle cx="1590.2" cy="375.7" r="3"/><circle cx="1591.8" cy="382.0" r="3"/><circle cx="1593.3" cy="385.9" r="3"/><circle cx="1594.8" cy="369.5" r="3"/><circle cx="1596.4" cy="378.3" r="3"/><circle cx="1597.9" cy="377.5" r="3"/><circle cx="1601.0" cy="364.1" r="3"/><circle cx="1602.6" cy="363.3" r="3"/><circle cx="1604.1" cy="341.5" r="3"/><circle cx="1607.2" cy="351.4" r="3"/><circle cx="1608.7" cy="343.9" r="3"/><circle cx="1611.8" cy="366.0" r="3"/><circle cx="1613.4" cy="360.9" r="3"/><circle cx="1614.9" cy="355.9" r="3"/><circle cx="1616.4" cy="358.4" r="3"/><circle cx="1618.0" cy="358.7" r="3"/><circle cx="1619.5" cy="356.0" r="3"/><circle cx="1621.1" cy="351.7" r="3"/><circle cx="1622.6" cy="375.1" r="3"/><circle cx="1624.2" cy="377.4" r="3"/><circle cx="1625.7" cy="369.6" r="3"/><circle cx="1627.2" cy="398.9" r="3"/><circle cx="1628.8" cy="378.5" r="3"/><circle cx="1630.3" cy="390.3" r="3"/><circle cx="1631.9" cy="402.0" r="3"/><circle cx="1633.4" cy="382.8" r="3"/><circle cx="1635.0" cy="400.1" r="3"/><circle cx="1636.5" cy="379.4" r="3"/><circle cx="1638.0" cy="390.1" r="3"/><circle cx="1639.6" cy="395.3" r="3"/><circle cx="1641.1" cy="387.0" r="3"/><circle cx="1642.7" cy="379.8" r="3"/><circle cx="1644.2" cy="379.9" r="3"/><circle cx="1645.8" cy="380.5" r="3"/><circle cx="1647.3" cy="387.2" r="3"/><circle cx="1648.8" cy="399.1" r="3"/><circle cx="1650.4" cy="384.8" r="3"/><circle cx="1651.9" cy="389.0" r="3"/><circle cx="1653.5" cy="409.0" r="3"/><circle cx="1655.0" cy="388.7" r="3"/><circle cx="1656.6" cy="399.1" r="3"/><circle cx="1658.1" cy="400.6" r="3"/><circle cx="1659.6" cy="408.3" r="3"/><circle cx="1661.2" cy="405.0" r="3"/><circle cx="1662.7" cy="408.3" r="3"/><circle cx="1664.3" cy="404.7" r="3"/><circle cx="1667.3" cy="409.7" r="3"/><circle cx="1670.4" cy="412.2" r="3"/><circle cx="1672.0" cy="413.7" r="3"/><circle cx="1673.5" cy="405.9" r="3"/><circle cx="1675.1" cy="409.4" r="3"/><circle cx="1681.2" cy="405.0" r="3"/><circle cx="1681.2" cy="360.7" r="3"/><circle cx="1682.8" cy="353.3" r="3"/><circle cx="1684.3" cy="369.9" r="3"/><circle cx="1687.4" cy="373.7" r="3"/><circle cx="1688.9" cy="363.7" r="3"/><circle cx="1690.5" cy="364.2" r="3"/><circle cx="1692.0" cy="358.1" r="3"/><circle cx="1693.6" cy="355.9" r="3"/><circle cx="1696.7" cy="377.5" r="3"/><circle cx="1699.7" cy="367.9" r="3"/><circle cx="1701.3" cy="382.7" r="3"/><circle cx="1702.8" cy="382.9" r="3"/><circle cx="1704.4" cy="380.9" r="3"/><circle cx="1705.9" cy="380.4" r="3"/><circle cx="1707.5" cy="384.9" r="3"/><circle cx="1710.5" cy="391.3" r="3"/><circle cx="1712.1" cy="390.5" r="3"/><circle cx="1713.6" cy="391.1" r="3"/><circle cx="1715.2" cy="398.1" r="3"/><circle cx="1716.7" cy="397.0" r="3"/><circle cx="1718.3" cy="403.9" r="3"/><circle cx="1721.3" cy="394.4" r="3"/><circle cx="1724.4" cy="402.7" r="3"/><circle cx="1726.0" cy="396.7" r="3"/><circle cx="1727.5" cy="410.1" r="3"/><circle cx="1729.1" cy="407.7" r="3"/><circle cx="1732.1" cy="410.1" r="3"/><circle cx="1733.7" cy="415.0" r="3"/><circle cx="1735.2" cy="415.3" r="3"/><circle cx="1736.8" cy="419.9" r="3"/><circle cx="1738.3" cy="414.6" r="3"/><circle cx="1741.4" cy="417.1" r="3"/><circle cx="1744.5" cy="425.1" r="3"/><circle cx="1746.0" cy="415.7" r="3"/><circle cx="1747.6" cy="425.2" r="3"/><circle cx="1749.1" cy="432.7" r="3"/><circle cx="1750.7" cy="428.3" r="3"/><circle cx="1752.2" cy="427.6" r="3"/><circle cx="1755.3" cy="427.8" r="3"/><circle cx="1756.8" cy="422.6" r="3"/><circle cx="1758.4" cy="426.3" r="3"/><circle cx="1759.9" cy="421.5" r="3"/><circle cx="1761.5" cy="421.7" r="3"/><circle cx="1763.0" cy="420.5" r="3"/><circle cx="1764.5" cy="423.9" r="3"/><circle cx="1766.1" cy="431.4" r="3"/><circle cx="1767.6" cy="424.8" r="3"/><circle cx="1769.2" cy="423.5" r="3"/><circle cx="1773.8" cy="424.5" r="3"/><circle cx="1775.3" cy="427.0" r="3"/><circle cx="1776.9" cy="429.1" r="3"/><circle cx="1781.5" cy="431.6" r="3"/><circle cx="1804.6" cy="421.2" r="3"/><circle cx="1810.8" cy="421.8" r="3"/><circle cx="727.9" cy="435.2" r="3"/><circle cx="740.2" cy="435.2" r="3"/><circle cx="828.2" cy="404.3" r="3"/><circle cx="1079.6" cy="419.2" r="3"/><circle cx="1115.1" cy="435.2" r="3"/><circle cx="1132.1" cy="435.2" r="3"/><circle cx="1199.9" cy="435.2" r="3"/><circle cx="1258.5" cy="428.1" r="3"/><circle cx="1230.8" cy="431.6" r="3"/><circle cx="1059.5" cy="421.0" r="3"/></g>
<rect x="262.0" y="57.1" width="1551.9" height="177.8" fill="none" stroke="#000" stroke-width="2.8"/>
<rect x="262.0" y="264.5" width="1551.9" height="177.8" fill="none" stroke="#000" stroke-width="2.8"/>
<path d="M262.0 234.8h-14M262.0 217.1h-7M262.0 199.3h-14M262.0 181.5h-7M262.0 163.8h-14M262.0 146.0h-7M262.0 128.2h-14M262.0 110.4h-7M262.0 92.6h-14M262.0 74.9h-7M262.0 57.1h-14M262.0 442.3h-14M262.0 424.5h-7M262.0 406.7h-14M262.0 389.0h-7M262.0 371.2h-14M262.0 353.4h-7M262.0 335.6h-14M262.0 317.8h-7M262.0 300.1h-14M262.0 282.3h-7M262.0 264.5h-14M1813.9 234.8h-14M1813.9 217.1h-7M1813.9 199.3h-14M1813.9 181.5h-7M1813.9 163.8h-14M1813.9 146.0h-7M1813.9 128.2h-14M1813.9 110.4h-7M1813.9 92.6h-14M1813.9 74.9h-7M1813.9 57.1h-14M1813.9 264.5h-14M1813.9 286.7h-14M1813.9 308.9h-14M1813.9 331.2h-14M1813.9 353.4h-14M1813.9 375.6h-14M1813.9 397.9h-14M1813.9 420.1h-14M1813.9 442.3h-14M262.0 57.1v14M262.0 264.5v14M262.0 442.3v14M403.9 57.1v7M403.9 264.5v7M403.9 442.3v7M544.3 57.1v14M544.3 264.5v14M544.3 442.3v14M687.8 57.1v7M687.8 264.5v7M687.8 442.3v7M825.1 57.1v14M825.1 264.5v14M825.1 442.3v14M968.5 57.1v7M968.5 264.5v7M968.5 442.3v7M1108.9 57.1v14M1108.9 264.5v14M1108.9 442.3v14M1252.4 57.1v7M1252.4 264.5v7M1252.4 442.3v7M1388.1 57.1v14M1388.1 264.5v14M1388.1 442.3v14M1531.6 57.1v7M1531.6 264.5v7M1531.6 442.3v7M1672.0 57.1v14M1672.0 264.5v14M1672.0 442.3v14" stroke="#000" stroke-width="2.8" fill="none"/>
<g font-size="32"><text x="237.7" y="241.9" text-anchor="end">0.0</text><text x="237.7" y="206.4" text-anchor="end">0.2</text><text x="237.7" y="170.8" text-anchor="end">0.4</text><text x="237.7" y="135.3" text-anchor="end">0.6</text><text x="237.7" y="99.7" text-anchor="end">0.8</text><text x="237.7" y="64.2" text-anchor="end">1.0</text><text x="237.7" y="449.4" text-anchor="end">0.0</text><text x="237.7" y="413.8" text-anchor="end">0.1</text><text x="237.7" y="378.3" text-anchor="end">0.2</text><text x="237.7" y="342.7" text-anchor="end">0.3</text><text x="237.7" y="307.2" text-anchor="end">0.4</text><text x="237.7" y="271.6" text-anchor="end">0.5</text><text x="1828.1" y="241.9">0</text><text x="1828.1" y="206.4">20</text><text x="1828.1" y="170.8">40</text><text x="1828.1" y="135.3">60</text><text x="1828.1" y="99.7">80</text><text x="1828.1" y="64.2">100</text><text x="1828.1" y="271.6">0</text><text x="1828.1" y="293.8">20</text><text x="1828.1" y="316.1">40</text><text x="1828.1" y="338.3">60</text><text x="1828.1" y="360.5">80</text><text x="1828.1" y="382.7">100</text><text x="1828.1" y="405.0">120</text><text x="1828.1" y="427.2">140</text><text x="1828.1" y="449.4">160</text><text x="262.0" y="488.4" text-anchor="middle">2015/3/31</text><text x="544.3" y="488.4" text-anchor="middle">2015/9/30</text><text x="825.1" y="488.4" text-anchor="middle">2016/3/30</text><text x="1108.9" y="488.4" text-anchor="middle">2016/9/30</text><text x="1388.1" y="488.4" text-anchor="middle">2017/3/30</text><text x="1672.0" y="488.4" text-anchor="middle">2017/9/30</text></g>
<text transform="translate(182.0 145.1) rotate(-90)" text-anchor="middle" font-size="33" textLength="83" lengthAdjust="spacingAndGlyphs">NDVI</text>
<text transform="translate(181.9 352.4) rotate(-90)" text-anchor="middle" font-size="32" textLength="179" lengthAdjust="spacingAndGlyphs">VSM(m<tspan font-size="21" dy="-12">3</tspan><tspan dy="12">/m</tspan><tspan font-size="21" dy="-12">3</tspan><tspan dy="12">)</tspan></text>
<text transform="translate(1916.1 146.2) rotate(-90)" text-anchor="middle" font-size="32" textLength="192.7" lengthAdjust="spacingAndGlyphs">ET(mm/8day)</text>
<text transform="translate(1909.6 350.7) rotate(-90)" text-anchor="middle" font-size="32" textLength="198.8" lengthAdjust="spacingAndGlyphs">PRE(mm/day)</text>
<text transform="translate(85.0 295.8) rotate(90)" text-anchor="middle" font-size="45.5" font-weight="bold" textLength="325.8" lengthAdjust="spacingAndGlyphs">Nangong station</text>
<path d="M266.1 687.9v-15.8M278.4 687.9v-17.6M290.8 687.9v-19.6M303.1 687.9v-22.8M315.5 687.9v-24.4M327.8 687.9v-24.9M340.2 687.9v-17.6M352.5 687.9v-11.4M364.8 687.9v-8.5M389.5 687.9v-14.8M401.9 687.9v-48.2M414.2 687.9v-25.6M426.6 687.9v-43.1M451.3 687.9v-52.7M463.6 687.9v-28.3M475.9 687.9v-76.0M500.6 687.9v-39.8M513.0 687.9v-42.2M537.7 687.9v-25.8M550.0 687.9v-9.1M562.3 687.9v-13.0M574.7 687.9v-7.1M624.1 687.9v-10.5M636.4 687.9v-10.5M648.8 687.9v-9.8M681.2 687.9v-11.9M767.6 687.9v-8.0M779.9 687.9v-5.9M804.6 687.9v-4.8M816.9 687.9v-9.4M829.3 687.9v-11.0M841.6 687.9v-18.1M854.0 687.9v-23.5M866.3 687.9v-24.4M878.6 687.9v-21.5M891.0 687.9v-23.3M903.3 687.9v-22.6M915.7 687.9v-15.5M928.0 687.9v-11.4M940.4 687.9v-12.1M952.7 687.9v-11.4M965.1 687.9v-27.8M977.4 687.9v-25.6M989.7 687.9v-40.4M1002.1 687.9v-43.8M1051.5 687.9v-56.8M1063.8 687.9v-40.4M1113.2 687.9v-11.6M1125.5 687.9v-12.6M1137.9 687.9v-8.7M1162.6 687.9v-8.5M1199.6 687.9v-8.5M1282.9 687.9v-9.4M1332.3 687.9v-4.4M1369.3 687.9v-9.3M1381.6 687.9v-9.3M1394.0 687.9v-11.4M1406.3 687.9v-15.5M1418.7 687.9v-18.1M1431.0 687.9v-17.6M1443.4 687.9v-17.6M1455.7 687.9v-16.9M1468.1 687.9v-18.0M1480.4 687.9v-14.9M1492.7 687.9v-13.7M1505.1 687.9v-20.6M1529.8 687.9v-31.5M1566.8 687.9v-69.2M1579.1 687.9v-75.6M1603.8 687.9v-51.9M1628.5 687.9v-51.9M1640.9 687.9v-32.2M1653.2 687.9v-22.6M1665.5 687.9v-15.8M1690.2 687.9v-13.9M1702.6 687.9v-10.9M1714.9 687.9v-8.2M1727.3 687.9v-7.5M1739.6 687.9v-6.9M1752.0 687.9v-8.5M1764.3 687.9v-6.9M1776.6 687.9v-8.0M1789.0 687.9v-8.5" stroke="#ff6410" stroke-width="2.6" fill="none"/>
<g fill="#0080ff"><circle cx="266.1" cy="618.9" r="4.8"/><circle cx="278.4" cy="592.5" r="4.8"/><circle cx="290.8" cy="594.5" r="4.8"/><circle cx="303.1" cy="587.0" r="4.8"/><circle cx="315.5" cy="580.1" r="4.8"/><circle cx="327.8" cy="581.0" r="4.8"/><circle cx="340.2" cy="591.1" r="4.8"/><circle cx="352.5" cy="580.3" r="4.8"/><circle cx="364.8" cy="608.6" r="4.8"/><circle cx="377.2" cy="608.6" r="4.8"/><circle cx="389.5" cy="541.1" r="4.8"/><circle cx="401.9" cy="605.2" r="4.8"/><circle cx="414.2" cy="556.4" r="4.8"/><circle cx="426.6" cy="558.4" r="4.8"/><circle cx="438.9" cy="539.0" r="4.8"/><circle cx="451.3" cy="535.1" r="4.8"/><circle cx="463.6" cy="522.8" r="4.8"/><circle cx="475.9" cy="541.8" r="4.8"/><circle cx="488.3" cy="540.6" r="4.8"/><circle cx="500.6" cy="538.5" r="4.8"/><circle cx="513.0" cy="541.8" r="4.8"/><circle cx="525.3" cy="545.4" r="4.8"/><circle cx="537.7" cy="560.3" r="4.8"/><circle cx="550.0" cy="566.0" r="4.8"/><circle cx="562.3" cy="601.6" r="4.8"/><circle cx="574.7" cy="616.4" r="4.8"/><circle cx="587.0" cy="607.3" r="4.8"/><circle cx="599.4" cy="611.2" r="4.8"/><circle cx="611.7" cy="613.0" r="4.8"/><circle cx="624.1" cy="616.6" r="4.8"/><circle cx="636.4" cy="621.7" r="4.8"/><circle cx="648.8" cy="621.7" r="4.8"/><circle cx="661.1" cy="613.7" r="4.8"/><circle cx="673.4" cy="644.3" r="4.8"/><circle cx="681.2" cy="628.8" r="4.8"/><circle cx="693.5" cy="628.8" r="4.8"/><circle cx="705.8" cy="644.8" r="4.8"/><circle cx="718.2" cy="648.8" r="4.8"/><circle cx="730.5" cy="645.7" r="4.8"/><circle cx="742.9" cy="649.3" r="4.8"/><circle cx="755.2" cy="637.7" r="4.8"/><circle cx="767.6" cy="648.2" r="4.8"/><circle cx="779.9" cy="655.3" r="4.8"/><circle cx="792.2" cy="648.8" r="4.8"/><circle cx="804.6" cy="646.1" r="4.8"/><circle cx="816.9" cy="630.1" r="4.8"/><circle cx="829.3" cy="620.3" r="4.8"/><circle cx="841.6" cy="605.9" r="4.8"/><circle cx="854.0" cy="581.3" r="4.8"/><circle cx="866.3" cy="581.3" r="4.8"/><circle cx="878.6" cy="586.0" r="4.8"/><circle cx="891.0" cy="588.1" r="4.8"/><circle cx="903.3" cy="582.4" r="4.8"/><circle cx="915.7" cy="582.4" r="4.8"/><circle cx="928.0" cy="600.6" r="4.8"/><circle cx="940.4" cy="607.3" r="4.8"/><circle cx="952.7" cy="615.7" r="4.8"/><circle cx="965.1" cy="601.6" r="4.8"/><circle cx="977.4" cy="578.1" r="4.8"/><circle cx="989.7" cy="574.4" r="4.8"/><circle cx="1002.1" cy="544.9" r="4.8"/><circle cx="1014.4" cy="552.7" r="4.8"/><circle cx="1026.8" cy="545.4" r="4.8"/><circle cx="1039.1" cy="545.4" r="4.8"/><circle cx="1051.5" cy="538.5" r="4.8"/><circle cx="1063.8" cy="546.6" r="4.8"/><circle cx="1076.1" cy="553.6" r="4.8"/><circle cx="1088.5" cy="546.3" r="4.8"/><circle cx="1100.8" cy="558.7" r="4.8"/><circle cx="1113.2" cy="547.5" r="4.8"/><circle cx="1125.5" cy="599.0" r="4.8"/><circle cx="1137.9" cy="616.9" r="4.8"/><circle cx="1150.2" cy="614.2" r="4.8"/><circle cx="1162.6" cy="604.1" r="4.8"/><circle cx="1174.9" cy="619.8" r="4.8"/><circle cx="1187.2" cy="628.1" r="4.8"/><circle cx="1199.6" cy="628.1" r="4.8"/><circle cx="1211.9" cy="630.6" r="4.8"/><circle cx="1224.3" cy="630.6" r="4.8"/><circle cx="1236.6" cy="632.8" r="4.8"/><circle cx="1245.9" cy="632.8" r="4.8"/><circle cx="1258.2" cy="649.7" r="4.8"/><circle cx="1270.6" cy="637.9" r="4.8"/><circle cx="1282.9" cy="637.6" r="4.8"/><circle cx="1295.2" cy="645.4" r="4.8"/><circle cx="1307.6" cy="643.1" r="4.8"/><circle cx="1319.9" cy="643.1" r="4.8"/><circle cx="1332.3" cy="642.2" r="4.8"/><circle cx="1344.6" cy="640.9" r="4.8"/><circle cx="1357.0" cy="638.1" r="4.8"/><circle cx="1369.3" cy="628.8" r="4.8"/><circle cx="1381.6" cy="621.2" r="4.8"/><circle cx="1394.0" cy="617.1" r="4.8"/><circle cx="1406.3" cy="604.5" r="4.8"/><circle cx="1418.7" cy="597.0" r="4.8"/><circle cx="1431.0" cy="597.0" r="4.8"/><circle cx="1443.4" cy="599.7" r="4.8"/><circle cx="1455.7" cy="599.7" r="4.8"/><circle cx="1468.1" cy="592.4" r="4.8"/><circle cx="1480.4" cy="596.1" r="4.8"/><circle cx="1492.7" cy="609.6" r="4.8"/><circle cx="1505.1" cy="607.7" r="4.8"/><circle cx="1517.4" cy="599.7" r="4.8"/><circle cx="1529.8" cy="568.2" r="4.8"/><circle cx="1542.1" cy="574.0" r="4.8"/><circle cx="1554.5" cy="535.3" r="4.8"/><circle cx="1566.8" cy="562.1" r="4.8"/><circle cx="1579.1" cy="542.0" r="4.8"/><circle cx="1591.5" cy="543.1" r="4.8"/><circle cx="1603.8" cy="536.9" r="4.8"/><circle cx="1616.2" cy="536.9" r="4.8"/><circle cx="1628.5" cy="553.6" r="4.8"/><circle cx="1640.9" cy="547.0" r="4.8"/><circle cx="1653.2" cy="562.7" r="4.8"/><circle cx="1665.5" cy="579.7" r="4.8"/><circle cx="1677.9" cy="580.8" r="4.8"/><circle cx="1690.2" cy="592.4" r="4.8"/><circle cx="1702.6" cy="590.2" r="4.8"/><circle cx="1714.9" cy="604.8" r="4.8"/><circle cx="1727.3" cy="618.0" r="4.8"/><circle cx="1739.6" cy="628.5" r="4.8"/><circle cx="1752.0" cy="638.3" r="4.8"/><circle cx="1764.3" cy="644.1" r="4.8"/><circle cx="1776.6" cy="640.4" r="4.8"/><circle cx="1789.0" cy="640.4" r="4.8"/><circle cx="1801.3" cy="646.3" r="4.8"/></g>
<path d="M256.5 717.3v21.6M272.1 717.3v11.2M283.2 717.3v3.6M301.9 717.3v7.3M314.7 717.3v25.5M327.2 717.3v4.8M345.7 717.3v3.6M352.2 717.3v3.6M363.9 717.3v2.2M394.9 717.3v7.3M415.6 717.3v21.6M418.9 717.3v26.7M422.1 717.3v10.0M424.6 717.3v40.9M427.2 717.3v11.2M431.7 717.3v26.7M439.4 717.3v48.6M442.0 717.3v34.5M446.6 717.3v12.6M454.3 717.3v2.2M470.7 717.3v11.2M490.6 717.3v20.3M496.9 717.3v7.3M506.0 717.3v12.6M528.9 717.3v17.7M532.4 717.3v16.4M535.8 717.3v13.8M570.1 717.3v18.9M575.8 717.3v3.6M594.0 717.3v18.9M609.4 717.3v9.2M618.5 717.3v8.7M653.4 717.3v2.2M712.8 717.3v2.2M724.5 717.3v2.2M746.4 717.3v11.2M769.7 717.3v2.2M843.9 717.3v22.9M868.5 717.3v3.6M886.5 717.3v11.2M934.3 717.3v20.3M964.1 717.3v37.1M978.3 717.3v16.4M990.0 717.3v122.1M992.5 717.3v8.7M995.9 717.3v34.5M998.5 717.3v67.9M1005.9 717.3v7.3M1026.2 717.3v37.1M1030.6 717.3v35.7M1035.3 717.3v8.7M1083.1 717.3v12.6M1112.3 717.3v17.7M1132.2 717.3v7.3M1143.7 717.3v13.8M1160.5 717.3v3.6M1181.2 717.3v2.2M1245.9 717.3v6.1M1323.3 717.3v2.6M1371.2 717.3v13.4M1378.4 717.3v2.6M1390.4 717.3v9.4M1434.7 717.3v1.2M1463.0 717.3v8.0M1485.8 717.3v3.9M1496.4 717.3v2.6M1508.6 717.3v30.7M1510.8 717.3v44.1M1522.1 717.3v3.9M1531.5 717.3v28.1M1532.7 717.3v45.4M1536.7 717.3v30.7M1546.1 717.3v10.7M1555.5 717.3v2.6M1561.7 717.3v16.0M1563.6 717.3v24.0M1577.8 717.3v14.7M1579.1 717.3v18.7M1585.0 717.3v14.7M1589.6 717.3v11.9M1595.8 717.3v14.7M1598.4 717.3v17.4M1600.4 717.3v52.1M1612.8 717.3v50.8M1614.6 717.3v11.9M1652.1 717.3v9.2M1676.3 717.3v20.0M1678.2 717.3v28.1M1679.6 717.3v48.1M1692.4 717.3v5.2M1699.2 717.3v13.4M301.6 717.3v2.7M304.7 717.3v2.3M309.3 717.3v2.4M310.8 717.3v3.6M312.4 717.3v2.2M334.0 717.3v1.4M340.2 717.3v2.8M341.7 717.3v1.5M347.9 717.3v2.4M361.8 717.3v2.0M374.1 717.3v3.4M377.2 717.3v2.9M378.7 717.3v2.2M384.9 717.3v1.2M425.0 717.3v2.5M426.6 717.3v1.3M428.1 717.3v2.3M432.7 717.3v3.9M434.3 717.3v3.0M449.7 717.3v3.6M469.8 717.3v1.9M480.6 717.3v3.7M486.7 717.3v2.1M491.4 717.3v1.8M496.0 717.3v3.4M500.6 717.3v1.2M529.9 717.3v1.7M533.0 717.3v2.3M651.8 717.3v2.2M658.0 717.3v1.4M668.8 717.3v2.3M671.9 717.3v2.6M688.9 717.3v2.5M761.4 717.3v2.9M787.6 717.3v2.0M813.8 717.3v3.4M863.2 717.3v1.7M864.8 717.3v1.0M872.5 717.3v0.9M874.0 717.3v1.2M880.2 717.3v2.7M883.3 717.3v3.7M914.1 717.3v2.3M920.3 717.3v1.8M926.5 717.3v1.9M928.0 717.3v3.4M934.2 717.3v1.3M946.5 717.3v1.5M952.7 717.3v2.8M958.9 717.3v2.7M966.6 717.3v3.0M978.9 717.3v2.1M1006.7 717.3v1.1M1012.9 717.3v1.8M1046.8 717.3v1.8M1048.4 717.3v1.4M1060.7 717.3v2.5M1062.3 717.3v2.8M1066.9 717.3v3.5M1070.0 717.3v1.4M1074.6 717.3v3.3M1076.1 717.3v1.0M1079.2 717.3v2.9M1083.9 717.3v2.1M1085.4 717.3v3.7M1091.6 717.3v2.6M1093.1 717.3v1.0M1099.3 717.3v1.6M1103.9 717.3v3.2M1107.0 717.3v2.6M1131.7 717.3v2.0M1252.0 717.3v2.5M1352.3 717.3v2.5M1441.8 717.3v1.9M1443.4 717.3v2.1M1457.3 717.3v3.8M1492.7 717.3v2.2M1502.0 717.3v2.9M1509.7 717.3v1.6M1523.6 717.3v1.6M1526.7 717.3v2.9M1543.7 717.3v1.7M1548.3 717.3v2.1M1559.1 717.3v2.8M1563.7 717.3v1.6M1565.3 717.3v1.9M1571.4 717.3v2.5M1593.0 717.3v3.2M1594.6 717.3v3.7M1602.3 717.3v3.8M1605.4 717.3v1.6M1610.0 717.3v3.3M1614.6 717.3v1.4M1617.7 717.3v3.3M1619.3 717.3v1.5M1627.0 717.3v3.5M1628.5 717.3v3.0M1645.5 717.3v3.1M1647.0 717.3v2.8M1650.1 717.3v3.0M1762.8 717.3v3.9M1787.4 717.3v1.1" stroke="#04a6ee" stroke-width="2.3" fill="none"/>
<g fill="#00cd88"><circle cx="255.3" cy="820.2" r="3"/><circle cx="256.8" cy="828.9" r="3"/><circle cx="258.4" cy="829.1" r="3"/><circle cx="259.9" cy="830.4" r="3"/><circle cx="261.5" cy="829.9" r="3"/><circle cx="263.0" cy="828.6" r="3"/><circle cx="264.6" cy="830.0" r="3"/><circle cx="266.1" cy="834.7" r="3"/><circle cx="269.2" cy="851.4" r="3"/><circle cx="275.4" cy="853.2" r="3"/><circle cx="276.9" cy="846.9" r="3"/><circle cx="280.0" cy="848.2" r="3"/><circle cx="283.1" cy="859.7" r="3"/><circle cx="284.6" cy="857.9" r="3"/><circle cx="286.2" cy="855.8" r="3"/><circle cx="289.2" cy="863.4" r="3"/><circle cx="290.8" cy="858.1" r="3"/><circle cx="292.3" cy="858.4" r="3"/><circle cx="293.9" cy="854.7" r="3"/><circle cx="295.4" cy="857.5" r="3"/><circle cx="297.0" cy="863.0" r="3"/><circle cx="301.6" cy="875.1" r="3"/><circle cx="304.7" cy="875.1" r="3"/><circle cx="306.2" cy="881.5" r="3"/><circle cx="307.8" cy="876.2" r="3"/><circle cx="309.3" cy="883.7" r="3"/><circle cx="310.8" cy="820.0" r="3"/><circle cx="312.4" cy="829.0" r="3"/><circle cx="313.9" cy="822.1" r="3"/><circle cx="315.5" cy="824.1" r="3"/><circle cx="323.2" cy="869.7" r="3"/><circle cx="324.7" cy="868.0" r="3"/><circle cx="326.3" cy="865.6" r="3"/><circle cx="327.8" cy="876.0" r="3"/><circle cx="329.4" cy="866.0" r="3"/><circle cx="330.9" cy="871.2" r="3"/><circle cx="332.4" cy="863.6" r="3"/><circle cx="335.5" cy="873.9" r="3"/><circle cx="337.1" cy="869.5" r="3"/><circle cx="338.6" cy="873.4" r="3"/><circle cx="340.2" cy="870.9" r="3"/><circle cx="341.7" cy="863.9" r="3"/><circle cx="343.2" cy="864.5" r="3"/><circle cx="344.8" cy="865.0" r="3"/><circle cx="346.3" cy="884.1" r="3"/><circle cx="346.3" cy="857.1" r="3"/><circle cx="347.9" cy="863.5" r="3"/><circle cx="349.4" cy="862.4" r="3"/><circle cx="351.0" cy="856.6" r="3"/><circle cx="354.0" cy="856.7" r="3"/><circle cx="355.6" cy="858.6" r="3"/><circle cx="357.1" cy="863.7" r="3"/><circle cx="358.7" cy="861.2" r="3"/><circle cx="360.2" cy="867.9" r="3"/><circle cx="361.8" cy="860.5" r="3"/><circle cx="363.3" cy="856.6" r="3"/><circle cx="363.3" cy="853.8" r="3"/><circle cx="366.4" cy="856.1" r="3"/><circle cx="369.5" cy="856.0" r="3"/><circle cx="371.0" cy="852.5" r="3"/><circle cx="372.6" cy="852.0" r="3"/><circle cx="374.1" cy="842.2" r="3"/><circle cx="375.6" cy="851.7" r="3"/><circle cx="378.7" cy="855.1" r="3"/><circle cx="380.3" cy="863.9" r="3"/><circle cx="383.4" cy="851.6" r="3"/><circle cx="384.9" cy="847.2" r="3"/><circle cx="386.5" cy="844.8" r="3"/><circle cx="388.0" cy="857.8" r="3"/><circle cx="389.5" cy="845.9" r="3"/><circle cx="391.1" cy="845.8" r="3"/><circle cx="392.6" cy="856.9" r="3"/><circle cx="394.2" cy="854.0" r="3"/><circle cx="395.7" cy="852.3" r="3"/><circle cx="397.3" cy="845.0" r="3"/><circle cx="400.3" cy="845.3" r="3"/><circle cx="401.9" cy="850.0" r="3"/><circle cx="403.4" cy="841.9" r="3"/><circle cx="405.0" cy="846.4" r="3"/><circle cx="408.1" cy="847.8" r="3"/><circle cx="409.6" cy="853.3" r="3"/><circle cx="412.7" cy="855.2" r="3"/><circle cx="415.8" cy="848.2" r="3"/><circle cx="417.3" cy="847.9" r="3"/><circle cx="418.9" cy="860.8" r="3"/><circle cx="420.4" cy="843.8" r="3"/><circle cx="420.4" cy="841.2" r="3"/><circle cx="425.0" cy="825.4" r="3"/><circle cx="426.6" cy="838.2" r="3"/><circle cx="431.2" cy="839.1" r="3"/><circle cx="432.7" cy="839.2" r="3"/><circle cx="435.8" cy="820.4" r="3"/><circle cx="437.4" cy="823.7" r="3"/><circle cx="438.9" cy="840.0" r="3"/><circle cx="440.5" cy="831.1" r="3"/><circle cx="442.0" cy="865.8" r="3"/><circle cx="445.1" cy="867.8" r="3"/><circle cx="449.7" cy="843.1" r="3"/><circle cx="451.3" cy="848.3" r="3"/><circle cx="452.8" cy="847.0" r="3"/><circle cx="454.3" cy="828.9" r="3"/><circle cx="455.9" cy="848.0" r="3"/><circle cx="457.4" cy="836.5" r="3"/><circle cx="462.1" cy="852.4" r="3"/><circle cx="465.1" cy="853.2" r="3"/><circle cx="466.7" cy="851.6" r="3"/><circle cx="468.2" cy="848.6" r="3"/><circle cx="469.8" cy="857.5" r="3"/><circle cx="474.4" cy="864.1" r="3"/><circle cx="477.5" cy="858.0" r="3"/><circle cx="479.0" cy="849.9" r="3"/><circle cx="480.6" cy="855.3" r="3"/><circle cx="482.1" cy="862.5" r="3"/><circle cx="486.7" cy="859.4" r="3"/><circle cx="488.3" cy="852.8" r="3"/><circle cx="492.9" cy="839.5" r="3"/><circle cx="494.5" cy="830.0" r="3"/><circle cx="496.0" cy="832.2" r="3"/><circle cx="497.5" cy="838.0" r="3"/><circle cx="500.6" cy="839.1" r="3"/><circle cx="502.2" cy="836.9" r="3"/><circle cx="503.7" cy="822.3" r="3"/><circle cx="505.3" cy="836.8" r="3"/><circle cx="508.3" cy="833.3" r="3"/><circle cx="509.9" cy="836.0" r="3"/><circle cx="514.5" cy="835.6" r="3"/><circle cx="516.1" cy="860.4" r="3"/><circle cx="517.6" cy="852.3" r="3"/><circle cx="519.1" cy="849.2" r="3"/><circle cx="520.7" cy="851.5" r="3"/><circle cx="525.3" cy="840.6" r="3"/><circle cx="526.9" cy="854.7" r="3"/><circle cx="529.9" cy="845.3" r="3"/><circle cx="531.5" cy="831.4" r="3"/><circle cx="533.0" cy="850.2" r="3"/><circle cx="536.1" cy="838.5" r="3"/><circle cx="537.7" cy="836.6" r="3"/><circle cx="539.2" cy="834.8" r="3"/><circle cx="539.2" cy="855.2" r="3"/><circle cx="540.7" cy="847.0" r="3"/><circle cx="542.3" cy="846.3" r="3"/><circle cx="543.8" cy="861.6" r="3"/><circle cx="545.4" cy="863.3" r="3"/><circle cx="546.9" cy="867.2" r="3"/><circle cx="548.5" cy="868.3" r="3"/><circle cx="551.5" cy="854.2" r="3"/><circle cx="553.1" cy="849.1" r="3"/><circle cx="554.6" cy="852.6" r="3"/><circle cx="556.2" cy="855.0" r="3"/><circle cx="557.7" cy="844.4" r="3"/><circle cx="559.3" cy="849.4" r="3"/><circle cx="560.8" cy="852.9" r="3"/><circle cx="562.3" cy="851.4" r="3"/><circle cx="565.4" cy="842.2" r="3"/><circle cx="567.0" cy="854.4" r="3"/><circle cx="568.5" cy="859.6" r="3"/><circle cx="570.1" cy="841.3" r="3"/><circle cx="570.1" cy="833.6" r="3"/><circle cx="573.1" cy="847.0" r="3"/><circle cx="574.7" cy="842.7" r="3"/><circle cx="576.2" cy="828.8" r="3"/><circle cx="577.8" cy="847.9" r="3"/><circle cx="580.9" cy="837.8" r="3"/><circle cx="582.4" cy="834.6" r="3"/><circle cx="583.9" cy="827.8" r="3"/><circle cx="587.0" cy="826.4" r="3"/><circle cx="588.6" cy="838.1" r="3"/><circle cx="590.1" cy="847.3" r="3"/><circle cx="591.7" cy="852.0" r="3"/><circle cx="591.7" cy="840.3" r="3"/><circle cx="593.2" cy="834.3" r="3"/><circle cx="594.7" cy="829.8" r="3"/><circle cx="596.3" cy="834.7" r="3"/><circle cx="597.8" cy="830.7" r="3"/><circle cx="599.4" cy="833.6" r="3"/><circle cx="600.9" cy="837.6" r="3"/><circle cx="602.5" cy="841.5" r="3"/><circle cx="604.0" cy="840.7" r="3"/><circle cx="607.1" cy="840.5" r="3"/><circle cx="608.6" cy="837.9" r="3"/><circle cx="611.7" cy="840.6" r="3"/><circle cx="613.3" cy="840.6" r="3"/><circle cx="614.8" cy="837.5" r="3"/><circle cx="621.0" cy="838.3" r="3"/><circle cx="622.5" cy="833.2" r="3"/><circle cx="634.9" cy="851.6" r="3"/><circle cx="637.9" cy="856.3" r="3"/><circle cx="639.5" cy="845.1" r="3"/><circle cx="641.0" cy="859.7" r="3"/><circle cx="642.6" cy="857.1" r="3"/><circle cx="644.1" cy="855.3" r="3"/><circle cx="645.7" cy="863.6" r="3"/><circle cx="647.2" cy="856.9" r="3"/><circle cx="648.8" cy="861.5" r="3"/><circle cx="650.3" cy="868.7" r="3"/><circle cx="651.8" cy="865.9" r="3"/><circle cx="659.6" cy="881.2" r="3"/><circle cx="661.1" cy="882.1" r="3"/><circle cx="664.2" cy="874.5" r="3"/><circle cx="665.7" cy="872.2" r="3"/><circle cx="667.3" cy="871.9" r="3"/><circle cx="668.8" cy="885.2" r="3"/><circle cx="670.4" cy="874.0" r="3"/><circle cx="673.4" cy="883.4" r="3"/><circle cx="675.0" cy="876.9" r="3"/><circle cx="676.5" cy="869.0" r="3"/><circle cx="678.1" cy="871.9" r="3"/><circle cx="679.6" cy="879.2" r="3"/><circle cx="681.2" cy="875.8" r="3"/><circle cx="682.7" cy="870.2" r="3"/><circle cx="685.8" cy="876.8" r="3"/><circle cx="687.3" cy="884.2" r="3"/><circle cx="690.4" cy="884.6" r="3"/><circle cx="692.0" cy="878.2" r="3"/><circle cx="693.5" cy="869.9" r="3"/><circle cx="695.0" cy="873.1" r="3"/><circle cx="736.7" cy="873.3" r="3"/><circle cx="738.2" cy="870.5" r="3"/><circle cx="739.8" cy="870.4" r="3"/><circle cx="744.4" cy="871.1" r="3"/><circle cx="752.1" cy="875.8" r="3"/><circle cx="756.8" cy="874.5" r="3"/><circle cx="758.3" cy="856.2" r="3"/><circle cx="759.8" cy="880.0" r="3"/><circle cx="761.4" cy="866.9" r="3"/><circle cx="764.5" cy="870.6" r="3"/><circle cx="766.0" cy="875.7" r="3"/><circle cx="767.6" cy="866.4" r="3"/><circle cx="769.1" cy="866.3" r="3"/><circle cx="770.6" cy="880.8" r="3"/><circle cx="773.7" cy="855.2" r="3"/><circle cx="775.3" cy="859.2" r="3"/><circle cx="775.3" cy="884.8" r="3"/><circle cx="779.9" cy="874.1" r="3"/><circle cx="781.4" cy="882.7" r="3"/><circle cx="783.0" cy="880.8" r="3"/><circle cx="784.5" cy="874.6" r="3"/><circle cx="786.1" cy="872.8" r="3"/><circle cx="789.2" cy="859.6" r="3"/><circle cx="790.7" cy="872.5" r="3"/><circle cx="792.2" cy="858.2" r="3"/><circle cx="793.8" cy="872.0" r="3"/><circle cx="795.3" cy="868.2" r="3"/><circle cx="796.9" cy="864.2" r="3"/><circle cx="798.4" cy="874.8" r="3"/><circle cx="800.0" cy="864.1" r="3"/><circle cx="801.5" cy="860.1" r="3"/><circle cx="803.0" cy="856.7" r="3"/><circle cx="804.6" cy="864.6" r="3"/><circle cx="807.7" cy="868.0" r="3"/><circle cx="809.2" cy="873.6" r="3"/><circle cx="810.8" cy="871.8" r="3"/><circle cx="812.3" cy="872.4" r="3"/><circle cx="813.8" cy="858.1" r="3"/><circle cx="815.4" cy="860.5" r="3"/><circle cx="816.9" cy="857.6" r="3"/><circle cx="818.5" cy="842.2" r="3"/><circle cx="820.0" cy="857.9" r="3"/><circle cx="821.6" cy="842.5" r="3"/><circle cx="823.1" cy="841.5" r="3"/><circle cx="824.6" cy="861.1" r="3"/><circle cx="826.2" cy="851.7" r="3"/><circle cx="827.7" cy="847.7" r="3"/><circle cx="830.8" cy="843.8" r="3"/><circle cx="832.4" cy="852.8" r="3"/><circle cx="833.9" cy="844.8" r="3"/><circle cx="835.4" cy="844.1" r="3"/><circle cx="837.0" cy="853.1" r="3"/><circle cx="838.5" cy="850.7" r="3"/><circle cx="840.1" cy="844.6" r="3"/><circle cx="841.6" cy="837.0" r="3"/><circle cx="843.2" cy="836.5" r="3"/><circle cx="846.2" cy="847.9" r="3"/><circle cx="847.8" cy="854.9" r="3"/><circle cx="849.3" cy="858.7" r="3"/><circle cx="850.9" cy="849.9" r="3"/><circle cx="852.4" cy="841.3" r="3"/><circle cx="854.0" cy="843.5" r="3"/><circle cx="855.5" cy="854.1" r="3"/><circle cx="858.6" cy="840.5" r="3"/><circle cx="860.1" cy="856.9" r="3"/><circle cx="861.7" cy="861.8" r="3"/><circle cx="863.2" cy="860.5" r="3"/><circle cx="866.3" cy="840.4" r="3"/><circle cx="867.8" cy="857.3" r="3"/><circle cx="870.9" cy="846.3" r="3"/><circle cx="872.5" cy="860.7" r="3"/><circle cx="874.0" cy="855.5" r="3"/><circle cx="875.6" cy="841.6" r="3"/><circle cx="877.1" cy="854.9" r="3"/><circle cx="878.6" cy="863.7" r="3"/><circle cx="880.2" cy="839.3" r="3"/><circle cx="881.7" cy="845.9" r="3"/><circle cx="883.3" cy="842.0" r="3"/><circle cx="886.4" cy="847.6" r="3"/><circle cx="886.4" cy="844.2" r="3"/><circle cx="887.9" cy="845.0" r="3"/><circle cx="891.0" cy="859.3" r="3"/><circle cx="892.5" cy="844.6" r="3"/><circle cx="894.1" cy="862.9" r="3"/><circle cx="895.6" cy="847.8" r="3"/><circle cx="897.2" cy="859.0" r="3"/><circle cx="898.7" cy="862.7" r="3"/><circle cx="900.2" cy="858.6" r="3"/><circle cx="901.8" cy="854.7" r="3"/><circle cx="903.3" cy="842.1" r="3"/><circle cx="904.9" cy="844.7" r="3"/><circle cx="906.4" cy="846.0" r="3"/><circle cx="908.0" cy="857.2" r="3"/><circle cx="909.5" cy="860.2" r="3"/><circle cx="911.1" cy="844.4" r="3"/><circle cx="912.6" cy="853.9" r="3"/><circle cx="914.1" cy="853.5" r="3"/><circle cx="915.7" cy="858.9" r="3"/><circle cx="917.2" cy="863.3" r="3"/><circle cx="918.8" cy="847.0" r="3"/><circle cx="920.3" cy="857.6" r="3"/><circle cx="921.9" cy="863.3" r="3"/><circle cx="924.9" cy="848.1" r="3"/><circle cx="926.5" cy="855.3" r="3"/><circle cx="928.0" cy="846.9" r="3"/><circle cx="929.6" cy="864.3" r="3"/><circle cx="931.1" cy="849.3" r="3"/><circle cx="932.7" cy="845.1" r="3"/><circle cx="932.7" cy="836.2" r="3"/><circle cx="934.2" cy="841.8" r="3"/><circle cx="935.7" cy="842.1" r="3"/><circle cx="937.3" cy="824.1" r="3"/><circle cx="938.8" cy="847.0" r="3"/><circle cx="940.4" cy="845.5" r="3"/><circle cx="941.9" cy="841.8" r="3"/><circle cx="945.0" cy="833.6" r="3"/><circle cx="946.5" cy="838.4" r="3"/><circle cx="948.1" cy="830.3" r="3"/><circle cx="949.6" cy="844.2" r="3"/><circle cx="952.7" cy="832.1" r="3"/><circle cx="954.3" cy="842.1" r="3"/><circle cx="955.8" cy="840.8" r="3"/><circle cx="960.4" cy="845.6" r="3"/><circle cx="962.0" cy="840.6" r="3"/><circle cx="963.5" cy="834.5" r="3"/><circle cx="965.1" cy="831.9" r="3"/><circle cx="966.6" cy="841.2" r="3"/><circle cx="969.7" cy="840.4" r="3"/><circle cx="971.2" cy="798.5" r="3"/><circle cx="974.3" cy="794.9" r="3"/><circle cx="975.9" cy="812.5" r="3"/><circle cx="978.9" cy="813.3" r="3"/><circle cx="980.5" cy="804.6" r="3"/><circle cx="982.0" cy="818.3" r="3"/><circle cx="983.6" cy="801.7" r="3"/><circle cx="985.1" cy="805.6" r="3"/><circle cx="986.7" cy="822.7" r="3"/><circle cx="988.2" cy="803.9" r="3"/><circle cx="989.7" cy="812.6" r="3"/><circle cx="991.3" cy="813.7" r="3"/><circle cx="994.4" cy="810.5" r="3"/><circle cx="995.9" cy="814.0" r="3"/><circle cx="997.5" cy="814.3" r="3"/><circle cx="997.5" cy="833.3" r="3"/><circle cx="999.0" cy="824.7" r="3"/><circle cx="1000.5" cy="840.6" r="3"/><circle cx="1003.6" cy="838.8" r="3"/><circle cx="1005.2" cy="830.1" r="3"/><circle cx="1006.7" cy="838.7" r="3"/><circle cx="1008.3" cy="825.0" r="3"/><circle cx="1009.8" cy="839.1" r="3"/><circle cx="1011.3" cy="818.3" r="3"/><circle cx="1014.4" cy="838.7" r="3"/><circle cx="1016.0" cy="823.8" r="3"/><circle cx="1017.5" cy="839.5" r="3"/><circle cx="1019.1" cy="833.3" r="3"/><circle cx="1022.1" cy="839.5" r="3"/><circle cx="1023.7" cy="847.1" r="3"/><circle cx="1025.2" cy="824.4" r="3"/><circle cx="1026.8" cy="823.5" r="3"/><circle cx="1028.3" cy="846.4" r="3"/><circle cx="1029.9" cy="844.7" r="3"/><circle cx="1031.4" cy="832.0" r="3"/><circle cx="1032.9" cy="821.9" r="3"/><circle cx="1034.5" cy="826.8" r="3"/><circle cx="1036.0" cy="858.2" r="3"/><circle cx="1037.6" cy="848.8" r="3"/><circle cx="1039.1" cy="847.1" r="3"/><circle cx="1040.7" cy="848.0" r="3"/><circle cx="1042.2" cy="853.1" r="3"/><circle cx="1043.7" cy="855.1" r="3"/><circle cx="1045.3" cy="837.2" r="3"/><circle cx="1048.4" cy="843.8" r="3"/><circle cx="1049.9" cy="845.5" r="3"/><circle cx="1053.0" cy="845.9" r="3"/><circle cx="1056.1" cy="833.0" r="3"/><circle cx="1057.6" cy="836.1" r="3"/><circle cx="1059.2" cy="841.5" r="3"/><circle cx="1060.7" cy="848.8" r="3"/><circle cx="1062.3" cy="842.7" r="3"/><circle cx="1065.3" cy="829.0" r="3"/><circle cx="1066.9" cy="854.8" r="3"/><circle cx="1068.4" cy="836.0" r="3"/><circle cx="1071.5" cy="852.6" r="3"/><circle cx="1073.1" cy="839.1" r="3"/><circle cx="1074.6" cy="834.2" r="3"/><circle cx="1076.1" cy="833.9" r="3"/><circle cx="1077.7" cy="847.6" r="3"/><circle cx="1079.2" cy="841.2" r="3"/><circle cx="1082.3" cy="837.5" r="3"/><circle cx="1083.9" cy="851.7" r="3"/><circle cx="1085.4" cy="861.6" r="3"/><circle cx="1086.9" cy="833.6" r="3"/><circle cx="1090.0" cy="847.7" r="3"/><circle cx="1091.6" cy="829.4" r="3"/><circle cx="1093.1" cy="823.0" r="3"/><circle cx="1094.7" cy="835.1" r="3"/><circle cx="1096.2" cy="822.7" r="3"/><circle cx="1097.7" cy="847.2" r="3"/><circle cx="1099.3" cy="824.1" r="3"/><circle cx="1102.4" cy="815.5" r="3"/><circle cx="1105.5" cy="843.8" r="3"/><circle cx="1107.0" cy="853.8" r="3"/><circle cx="1108.5" cy="832.3" r="3"/><circle cx="1110.1" cy="826.2" r="3"/><circle cx="1111.6" cy="837.0" r="3"/><circle cx="1113.2" cy="832.4" r="3"/><circle cx="1114.7" cy="839.7" r="3"/><circle cx="1117.8" cy="834.0" r="3"/><circle cx="1119.3" cy="843.9" r="3"/><circle cx="1122.4" cy="840.0" r="3"/><circle cx="1125.5" cy="846.6" r="3"/><circle cx="1128.6" cy="852.3" r="3"/><circle cx="1130.1" cy="833.2" r="3"/><circle cx="1131.7" cy="848.8" r="3"/><circle cx="1133.2" cy="823.3" r="3"/><circle cx="1134.8" cy="842.0" r="3"/><circle cx="1136.3" cy="831.2" r="3"/><circle cx="1137.9" cy="827.6" r="3"/><circle cx="1140.9" cy="844.1" r="3"/><circle cx="1142.5" cy="846.2" r="3"/><circle cx="1144.0" cy="846.4" r="3"/><circle cx="1145.6" cy="840.4" r="3"/><circle cx="1145.6" cy="843.1" r="3"/><circle cx="1148.7" cy="840.2" r="3"/><circle cx="1150.2" cy="845.2" r="3"/><circle cx="1151.7" cy="842.8" r="3"/><circle cx="1153.3" cy="845.3" r="3"/><circle cx="1154.8" cy="847.6" r="3"/><circle cx="1157.9" cy="839.3" r="3"/><circle cx="1159.5" cy="852.6" r="3"/><circle cx="1162.6" cy="843.8" r="3"/><circle cx="1164.1" cy="852.6" r="3"/><circle cx="1165.6" cy="850.6" r="3"/><circle cx="1167.2" cy="852.1" r="3"/><circle cx="1168.7" cy="851.7" r="3"/><circle cx="1170.3" cy="839.4" r="3"/><circle cx="1171.8" cy="848.7" r="3"/><circle cx="1173.4" cy="835.1" r="3"/><circle cx="1174.9" cy="838.9" r="3"/><circle cx="1176.4" cy="841.1" r="3"/><circle cx="1178.0" cy="844.5" r="3"/><circle cx="1181.1" cy="850.4" r="3"/><circle cx="1182.6" cy="850.6" r="3"/><circle cx="1184.2" cy="865.3" r="3"/><circle cx="1187.2" cy="846.5" r="3"/><circle cx="1188.8" cy="858.8" r="3"/><circle cx="1193.4" cy="870.5" r="3"/><circle cx="1195.0" cy="854.2" r="3"/><circle cx="1196.5" cy="865.3" r="3"/><circle cx="1198.0" cy="863.8" r="3"/><circle cx="1199.6" cy="857.6" r="3"/><circle cx="1201.1" cy="863.6" r="3"/><circle cx="1202.7" cy="855.6" r="3"/><circle cx="1204.2" cy="858.2" r="3"/><circle cx="1205.8" cy="853.9" r="3"/><circle cx="1207.3" cy="858.8" r="3"/><circle cx="1213.5" cy="852.0" r="3"/><circle cx="1218.1" cy="869.8" r="3"/><circle cx="1219.6" cy="854.2" r="3"/><circle cx="1221.2" cy="855.6" r="3"/><circle cx="1222.7" cy="859.2" r="3"/><circle cx="1224.3" cy="859.9" r="3"/><circle cx="1225.8" cy="853.0" r="3"/><circle cx="1227.4" cy="860.7" r="3"/><circle cx="1228.9" cy="857.5" r="3"/><circle cx="1244.3" cy="869.5" r="3"/><circle cx="1245.9" cy="878.9" r="3"/><circle cx="1247.4" cy="870.3" r="3"/><circle cx="1249.0" cy="862.4" r="3"/><circle cx="1250.5" cy="870.2" r="3"/><circle cx="1252.0" cy="874.7" r="3"/><circle cx="1253.6" cy="871.5" r="3"/><circle cx="1255.1" cy="869.4" r="3"/><circle cx="1256.7" cy="865.9" r="3"/><circle cx="1258.2" cy="858.8" r="3"/><circle cx="1259.8" cy="854.4" r="3"/><circle cx="1261.3" cy="863.5" r="3"/><circle cx="1278.3" cy="884.2" r="3"/><circle cx="1281.4" cy="879.9" r="3"/><circle cx="1282.9" cy="883.1" r="3"/><circle cx="1284.4" cy="879.9" r="3"/><circle cx="1284.4" cy="882.7" r="3"/><circle cx="1286.0" cy="883.3" r="3"/><circle cx="1287.5" cy="883.2" r="3"/><circle cx="1289.1" cy="883.4" r="3"/><circle cx="1290.6" cy="884.1" r="3"/><circle cx="1292.2" cy="878.8" r="3"/><circle cx="1293.7" cy="874.9" r="3"/><circle cx="1295.2" cy="886.9" r="3"/><circle cx="1296.8" cy="879.2" r="3"/><circle cx="1299.9" cy="881.4" r="3"/><circle cx="1304.5" cy="889.8" r="3"/><circle cx="1306.0" cy="884.8" r="3"/><circle cx="1307.6" cy="881.8" r="3"/><circle cx="1307.6" cy="875.2" r="3"/><circle cx="1309.1" cy="879.3" r="3"/><circle cx="1312.2" cy="873.7" r="3"/><circle cx="1313.8" cy="878.5" r="3"/><circle cx="1316.8" cy="867.4" r="3"/><circle cx="1318.4" cy="882.0" r="3"/><circle cx="1324.6" cy="873.2" r="3"/><circle cx="1326.1" cy="865.3" r="3"/><circle cx="1329.2" cy="878.4" r="3"/><circle cx="1332.3" cy="871.4" r="3"/><circle cx="1333.8" cy="883.6" r="3"/><circle cx="1336.9" cy="862.8" r="3"/><circle cx="1338.4" cy="859.5" r="3"/><circle cx="1340.0" cy="880.1" r="3"/><circle cx="1341.5" cy="875.7" r="3"/><circle cx="1343.1" cy="876.8" r="3"/><circle cx="1346.2" cy="874.4" r="3"/><circle cx="1347.7" cy="872.8" r="3"/><circle cx="1349.2" cy="867.7" r="3"/><circle cx="1350.8" cy="876.5" r="3"/><circle cx="1353.9" cy="863.4" r="3"/><circle cx="1355.4" cy="861.7" r="3"/><circle cx="1357.0" cy="865.6" r="3"/><circle cx="1358.5" cy="863.2" r="3"/><circle cx="1360.0" cy="873.8" r="3"/><circle cx="1361.6" cy="865.0" r="3"/><circle cx="1363.1" cy="859.4" r="3"/><circle cx="1364.7" cy="865.3" r="3"/><circle cx="1367.8" cy="879.7" r="3"/><circle cx="1369.3" cy="885.5" r="3"/><circle cx="1369.3" cy="840.6" r="3"/><circle cx="1372.4" cy="833.5" r="3"/><circle cx="1373.9" cy="832.4" r="3"/><circle cx="1375.5" cy="831.8" r="3"/><circle cx="1377.0" cy="830.4" r="3"/><circle cx="1378.6" cy="838.2" r="3"/><circle cx="1380.1" cy="849.6" r="3"/><circle cx="1381.6" cy="834.2" r="3"/><circle cx="1383.2" cy="833.9" r="3"/><circle cx="1386.3" cy="839.7" r="3"/><circle cx="1387.8" cy="851.4" r="3"/><circle cx="1390.9" cy="851.5" r="3"/><circle cx="1394.0" cy="833.3" r="3"/><circle cx="1395.5" cy="833.4" r="3"/><circle cx="1397.1" cy="837.2" r="3"/><circle cx="1398.6" cy="834.2" r="3"/><circle cx="1400.2" cy="848.3" r="3"/><circle cx="1403.2" cy="831.8" r="3"/><circle cx="1406.3" cy="832.2" r="3"/><circle cx="1409.4" cy="833.9" r="3"/><circle cx="1412.5" cy="845.7" r="3"/><circle cx="1414.0" cy="843.4" r="3"/><circle cx="1415.6" cy="865.5" r="3"/><circle cx="1417.1" cy="864.4" r="3"/><circle cx="1418.7" cy="870.6" r="3"/><circle cx="1420.2" cy="839.1" r="3"/><circle cx="1421.8" cy="840.0" r="3"/><circle cx="1424.9" cy="844.3" r="3"/><circle cx="1426.4" cy="851.2" r="3"/><circle cx="1427.9" cy="862.0" r="3"/><circle cx="1429.5" cy="860.0" r="3"/><circle cx="1431.0" cy="861.3" r="3"/><circle cx="1432.6" cy="844.7" r="3"/><circle cx="1435.7" cy="861.6" r="3"/><circle cx="1438.7" cy="864.8" r="3"/><circle cx="1440.3" cy="849.6" r="3"/><circle cx="1441.8" cy="861.4" r="3"/><circle cx="1444.9" cy="861.4" r="3"/><circle cx="1446.5" cy="844.6" r="3"/><circle cx="1448.0" cy="848.6" r="3"/><circle cx="1449.5" cy="860.9" r="3"/><circle cx="1451.1" cy="861.9" r="3"/><circle cx="1452.6" cy="865.6" r="3"/><circle cx="1455.7" cy="869.4" r="3"/><circle cx="1457.3" cy="857.7" r="3"/><circle cx="1458.8" cy="860.0" r="3"/><circle cx="1460.3" cy="840.3" r="3"/><circle cx="1463.4" cy="862.9" r="3"/><circle cx="1463.4" cy="853.0" r="3"/><circle cx="1465.0" cy="856.4" r="3"/><circle cx="1466.5" cy="850.4" r="3"/><circle cx="1468.1" cy="849.9" r="3"/><circle cx="1469.6" cy="863.5" r="3"/><circle cx="1471.1" cy="845.7" r="3"/><circle cx="1472.7" cy="852.7" r="3"/><circle cx="1474.2" cy="859.9" r="3"/><circle cx="1475.8" cy="864.4" r="3"/><circle cx="1477.3" cy="852.1" r="3"/><circle cx="1480.4" cy="860.1" r="3"/><circle cx="1481.9" cy="846.8" r="3"/><circle cx="1483.5" cy="857.0" r="3"/><circle cx="1488.1" cy="849.5" r="3"/><circle cx="1489.7" cy="855.5" r="3"/><circle cx="1491.2" cy="844.9" r="3"/><circle cx="1492.7" cy="860.9" r="3"/><circle cx="1494.3" cy="855.1" r="3"/><circle cx="1495.8" cy="848.9" r="3"/><circle cx="1498.9" cy="854.6" r="3"/><circle cx="1500.5" cy="865.9" r="3"/><circle cx="1502.0" cy="862.8" r="3"/><circle cx="1503.5" cy="858.7" r="3"/><circle cx="1505.1" cy="845.8" r="3"/><circle cx="1506.6" cy="862.0" r="3"/><circle cx="1506.6" cy="835.7" r="3"/><circle cx="1508.2" cy="830.3" r="3"/><circle cx="1509.7" cy="826.4" r="3"/><circle cx="1511.3" cy="824.7" r="3"/><circle cx="1514.3" cy="823.4" r="3"/><circle cx="1515.9" cy="827.3" r="3"/><circle cx="1520.5" cy="836.3" r="3"/><circle cx="1522.1" cy="843.2" r="3"/><circle cx="1523.6" cy="836.4" r="3"/><circle cx="1525.1" cy="842.3" r="3"/><circle cx="1526.7" cy="830.9" r="3"/><circle cx="1529.8" cy="826.7" r="3"/><circle cx="1532.9" cy="833.2" r="3"/><circle cx="1537.5" cy="820.7" r="3"/><circle cx="1539.0" cy="810.1" r="3"/><circle cx="1540.6" cy="818.2" r="3"/><circle cx="1543.7" cy="828.7" r="3"/><circle cx="1545.2" cy="822.2" r="3"/><circle cx="1546.7" cy="830.8" r="3"/><circle cx="1548.3" cy="832.3" r="3"/><circle cx="1551.4" cy="815.9" r="3"/><circle cx="1552.9" cy="810.0" r="3"/><circle cx="1554.5" cy="826.2" r="3"/><circle cx="1556.0" cy="829.1" r="3"/><circle cx="1557.5" cy="812.4" r="3"/><circle cx="1559.1" cy="808.6" r="3"/><circle cx="1560.6" cy="833.2" r="3"/><circle cx="1562.2" cy="816.6" r="3"/><circle cx="1565.3" cy="805.0" r="3"/><circle cx="1566.8" cy="814.3" r="3"/><circle cx="1568.3" cy="814.7" r="3"/><circle cx="1569.9" cy="810.1" r="3"/><circle cx="1569.9" cy="826.0" r="3"/><circle cx="1573.0" cy="814.6" r="3"/><circle cx="1574.5" cy="833.0" r="3"/><circle cx="1577.6" cy="817.6" r="3"/><circle cx="1579.1" cy="838.5" r="3"/><circle cx="1582.2" cy="838.4" r="3"/><circle cx="1583.8" cy="819.3" r="3"/><circle cx="1585.3" cy="842.9" r="3"/><circle cx="1588.4" cy="835.7" r="3"/><circle cx="1589.9" cy="834.4" r="3"/><circle cx="1591.5" cy="834.5" r="3"/><circle cx="1593.0" cy="837.2" r="3"/><circle cx="1594.6" cy="830.3" r="3"/><circle cx="1597.7" cy="842.5" r="3"/><circle cx="1597.7" cy="816.1" r="3"/><circle cx="1599.2" cy="834.4" r="3"/><circle cx="1600.7" cy="837.2" r="3"/><circle cx="1602.3" cy="839.1" r="3"/><circle cx="1605.4" cy="841.9" r="3"/><circle cx="1606.9" cy="828.7" r="3"/><circle cx="1608.5" cy="836.6" r="3"/><circle cx="1610.0" cy="820.6" r="3"/><circle cx="1614.6" cy="836.0" r="3"/><circle cx="1616.2" cy="821.4" r="3"/><circle cx="1617.7" cy="813.1" r="3"/><circle cx="1622.3" cy="814.1" r="3"/><circle cx="1623.9" cy="820.7" r="3"/><circle cx="1623.9" cy="846.6" r="3"/><circle cx="1625.4" cy="838.7" r="3"/><circle cx="1627.0" cy="850.4" r="3"/><circle cx="1628.5" cy="843.1" r="3"/><circle cx="1630.1" cy="845.1" r="3"/><circle cx="1631.6" cy="853.4" r="3"/><circle cx="1633.1" cy="841.1" r="3"/><circle cx="1634.7" cy="842.1" r="3"/><circle cx="1636.2" cy="847.3" r="3"/><circle cx="1637.8" cy="845.0" r="3"/><circle cx="1643.9" cy="841.6" r="3"/><circle cx="1645.5" cy="847.2" r="3"/><circle cx="1647.0" cy="839.2" r="3"/><circle cx="1648.6" cy="848.0" r="3"/><circle cx="1650.1" cy="851.3" r="3"/><circle cx="1651.7" cy="843.4" r="3"/><circle cx="1653.2" cy="836.0" r="3"/><circle cx="1654.7" cy="828.4" r="3"/><circle cx="1657.8" cy="847.1" r="3"/><circle cx="1659.4" cy="857.7" r="3"/><circle cx="1660.9" cy="847.2" r="3"/><circle cx="1662.5" cy="843.8" r="3"/><circle cx="1664.0" cy="838.4" r="3"/><circle cx="1665.5" cy="852.5" r="3"/><circle cx="1667.1" cy="860.1" r="3"/><circle cx="1668.6" cy="853.4" r="3"/><circle cx="1671.7" cy="837.4" r="3"/><circle cx="1673.3" cy="858.3" r="3"/><circle cx="1676.3" cy="843.8" r="3"/><circle cx="1677.9" cy="842.4" r="3"/><circle cx="1677.9" cy="773.9" r="3"/><circle cx="1679.4" cy="775.6" r="3"/><circle cx="1681.0" cy="836.8" r="3"/><circle cx="1682.5" cy="837.2" r="3"/><circle cx="1684.1" cy="838.4" r="3"/><circle cx="1685.6" cy="825.5" r="3"/><circle cx="1687.2" cy="831.4" r="3"/><circle cx="1688.7" cy="812.8" r="3"/><circle cx="1690.2" cy="829.8" r="3"/><circle cx="1691.8" cy="821.0" r="3"/><circle cx="1693.3" cy="834.9" r="3"/><circle cx="1694.9" cy="811.5" r="3"/><circle cx="1696.4" cy="830.6" r="3"/><circle cx="1698.0" cy="820.7" r="3"/><circle cx="1699.5" cy="813.0" r="3"/><circle cx="1701.0" cy="819.6" r="3"/><circle cx="1702.6" cy="819.9" r="3"/><circle cx="1704.1" cy="839.1" r="3"/><circle cx="1705.7" cy="838.0" r="3"/><circle cx="1708.8" cy="840.4" r="3"/><circle cx="1710.3" cy="825.5" r="3"/><circle cx="1710.3" cy="850.7" r="3"/><circle cx="1711.8" cy="837.3" r="3"/><circle cx="1713.4" cy="855.1" r="3"/><circle cx="1714.9" cy="830.4" r="3"/><circle cx="1716.5" cy="854.2" r="3"/><circle cx="1718.0" cy="858.9" r="3"/><circle cx="1719.6" cy="852.9" r="3"/><circle cx="1722.6" cy="844.6" r="3"/><circle cx="1724.2" cy="857.7" r="3"/><circle cx="1725.7" cy="851.4" r="3"/><circle cx="1727.3" cy="843.6" r="3"/><circle cx="1728.8" cy="836.4" r="3"/><circle cx="1730.4" cy="848.6" r="3"/><circle cx="1731.9" cy="846.3" r="3"/><circle cx="1733.4" cy="841.5" r="3"/><circle cx="1735.0" cy="854.8" r="3"/><circle cx="1736.5" cy="840.0" r="3"/><circle cx="1738.1" cy="851.0" r="3"/><circle cx="1739.6" cy="845.3" r="3"/><circle cx="1741.2" cy="851.9" r="3"/><circle cx="1742.7" cy="851.8" r="3"/><circle cx="1744.2" cy="845.0" r="3"/><circle cx="1745.8" cy="855.2" r="3"/><circle cx="1747.3" cy="847.7" r="3"/><circle cx="1747.3" cy="855.9" r="3"/><circle cx="1748.9" cy="852.4" r="3"/><circle cx="1752.0" cy="852.6" r="3"/><circle cx="1753.5" cy="856.1" r="3"/><circle cx="1755.0" cy="859.5" r="3"/><circle cx="1756.6" cy="857.8" r="3"/><circle cx="1758.1" cy="853.6" r="3"/><circle cx="1759.7" cy="853.0" r="3"/><circle cx="1762.8" cy="861.5" r="3"/><circle cx="1767.4" cy="853.6" r="3"/><circle cx="1770.5" cy="856.5" r="3"/><circle cx="1772.0" cy="857.2" r="3"/><circle cx="303.1" cy="839.5" r="3"/><circle cx="423.5" cy="795.7" r="3"/><circle cx="426.6" cy="806.0" r="3"/><circle cx="438.9" cy="792.8" r="3"/><circle cx="469.8" cy="780.0" r="3"/><circle cx="480.6" cy="888.3" r="3"/><circle cx="488.3" cy="804.6" r="3"/><circle cx="491.4" cy="802.8" r="3"/><circle cx="719.7" cy="887.9" r="3"/><circle cx="744.4" cy="831.3" r="3"/><circle cx="886.4" cy="814.5" r="3"/><circle cx="932.7" cy="812.4" r="3"/><circle cx="1028.3" cy="758.3" r="3"/><circle cx="789.2" cy="888.3" r="3"/><circle cx="801.5" cy="888.3" r="3"/><circle cx="1221.2" cy="888.3" r="3"/><circle cx="1463.4" cy="820.6" r="3"/><circle cx="1432.6" cy="886.5" r="3"/><circle cx="1597.7" cy="785.3" r="3"/><circle cx="1600.7" cy="800.3" r="3"/><circle cx="1608.5" cy="888.3" r="3"/><circle cx="1660.9" cy="888.3" r="3"/><circle cx="1620.8" cy="863.3" r="3"/><circle cx="1741.2" cy="875.1" r="3"/><circle cx="1790.5" cy="861.9" r="3"/><circle cx="1804.4" cy="887.6" r="3"/></g>
<rect x="255.3" y="510.0" width="1552.2" height="177.9" fill="none" stroke="#000" stroke-width="2.8"/>
<rect x="255.3" y="717.3" width="1552.2" height="178.1" fill="none" stroke="#000" stroke-width="2.8"/>
<path d="M255.3 687.9h-14M255.3 670.1h-7M255.3 652.3h-14M255.3 634.5h-7M255.3 616.7h-14M255.3 599.0h-7M255.3 581.2h-14M255.3 563.4h-7M255.3 545.6h-14M255.3 527.8h-7M255.3 510.0h-14M255.3 895.4h-14M255.3 877.6h-7M255.3 859.8h-14M255.3 842.0h-7M255.3 824.2h-14M255.3 806.3h-7M255.3 788.5h-14M255.3 770.7h-7M255.3 752.9h-14M255.3 735.1h-7M255.3 717.3h-14M1807.5 687.9h-14M1807.5 670.1h-7M1807.5 652.3h-14M1807.5 634.5h-7M1807.5 616.7h-14M1807.5 599.0h-7M1807.5 581.2h-14M1807.5 563.4h-7M1807.5 545.6h-14M1807.5 527.8h-7M1807.5 510.0h-14M1807.5 717.3h-14M1807.5 739.6h-14M1807.5 761.8h-14M1807.5 784.1h-14M1807.5 806.3h-14M1807.5 828.6h-14M1807.5 850.9h-14M1807.5 873.1h-14M1807.5 895.4h-14M255.3 510.0v14M255.3 717.3v14M255.3 895.4v14M397.3 510.0v7M397.3 717.3v7M397.3 895.4v7M537.7 510.0v14M537.7 717.3v14M537.7 895.4v14M681.2 510.0v7M681.2 717.3v7M681.2 895.4v7M818.5 510.0v14M818.5 717.3v14M818.5 895.4v14M962.0 510.0v7M962.0 717.3v7M962.0 895.4v7M1102.4 510.0v14M1102.4 717.3v14M1102.4 895.4v14M1245.9 510.0v7M1245.9 717.3v7M1245.9 895.4v7M1381.6 510.0v14M1381.6 717.3v14M1381.6 895.4v14M1525.1 510.0v7M1525.1 717.3v7M1525.1 895.4v7M1665.5 510.0v14M1665.5 717.3v14M1665.5 895.4v14" stroke="#000" stroke-width="2.8" fill="none"/>
<g font-size="32"><text x="231.0" y="695.0" text-anchor="end">0.0</text><text x="231.0" y="659.4" text-anchor="end">0.2</text><text x="231.0" y="623.8" text-anchor="end">0.4</text><text x="231.0" y="588.3" text-anchor="end">0.6</text><text x="231.0" y="552.7" text-anchor="end">0.8</text><text x="231.0" y="517.1" text-anchor="end">1.0</text><text x="231.0" y="902.5" text-anchor="end">0.0</text><text x="231.0" y="866.9" text-anchor="end">0.1</text><text x="231.0" y="831.3" text-anchor="end">0.2</text><text x="231.0" y="795.6" text-anchor="end">0.3</text><text x="231.0" y="760.0" text-anchor="end">0.4</text><text x="231.0" y="724.4" text-anchor="end">0.5</text><text x="1821.7" y="695.0">0</text><text x="1821.7" y="659.4">20</text><text x="1821.7" y="623.8">40</text><text x="1821.7" y="588.3">60</text><text x="1821.7" y="552.7">80</text><text x="1821.7" y="517.1">100</text><text x="1821.7" y="724.4">0</text><text x="1821.7" y="746.7">20</text><text x="1821.7" y="768.9">40</text><text x="1821.7" y="791.2">60</text><text x="1821.7" y="813.4">80</text><text x="1821.7" y="835.7">100</text><text x="1821.7" y="858.0">120</text><text x="1821.7" y="880.2">140</text><text x="1821.7" y="902.5">160</text><text x="255.3" y="941.5" text-anchor="middle">2015/3/31</text><text x="537.7" y="941.5" text-anchor="middle">2015/9/30</text><text x="818.5" y="941.5" text-anchor="middle">2016/3/30</text><text x="1102.4" y="941.5" text-anchor="middle">2016/9/30</text><text x="1381.6" y="941.5" text-anchor="middle">2017/3/30</text><text x="1665.5" y="941.5" text-anchor="middle">2017/9/30</text></g>
<text transform="translate(175.3 598.1) rotate(-90)" text-anchor="middle" font-size="33" textLength="83" lengthAdjust="spacingAndGlyphs">NDVI</text>
<text transform="translate(175.2 805.3) rotate(-90)" text-anchor="middle" font-size="32" textLength="179" lengthAdjust="spacingAndGlyphs">VSM(m<tspan font-size="21" dy="-12">3</tspan><tspan dy="12">/m</tspan><tspan font-size="21" dy="-12">3</tspan><tspan dy="12">)</tspan></text>
<text transform="translate(1909.7 599.2) rotate(-90)" text-anchor="middle" font-size="32" textLength="192.7" lengthAdjust="spacingAndGlyphs">ET(mm/8day)</text>
<text transform="translate(1903.2 803.6) rotate(-90)" text-anchor="middle" font-size="32" textLength="198.8" lengthAdjust="spacingAndGlyphs">PRE(mm/day)</text>
<text transform="translate(85.0 749.9) rotate(90)" text-anchor="middle" font-size="45.5" font-weight="bold" textLength="309.7" lengthAdjust="spacingAndGlyphs">Baoding station</text>
<path d="M265.4 1160.2v-22.6M277.8 1160.2v-51.4M290.1 1160.2v-16.4M302.4 1160.2v-48.0M314.8 1160.2v-44.1M327.1 1160.2v-33.1M339.5 1160.2v-24.0M351.8 1160.2v-12.3M364.2 1160.2v-6.2M376.5 1160.2v-13.0M388.9 1160.2v-13.9M487.7 1160.2v-39.7M500.0 1160.2v-67.4M512.4 1160.2v-40.7M524.7 1160.2v-29.2M537.1 1160.2v-25.4M549.4 1160.2v-4.8M574.1 1160.2v-6.2M586.5 1160.2v-9.1M623.5 1160.2v-7.6M648.2 1160.2v-8.9M680.6 1160.2v-7.8M693.0 1160.2v-7.3M730.0 1160.2v-6.0M742.4 1160.2v-11.0M754.7 1160.2v-6.2M767.1 1160.2v-8.9M779.4 1160.2v-5.5M791.8 1160.2v-6.6M804.1 1160.2v-5.9M816.4 1160.2v-21.0M828.8 1160.2v-24.7M853.5 1160.2v-41.6M865.8 1160.2v-34.3M878.2 1160.2v-30.8M890.5 1160.2v-34.3M902.9 1160.2v-32.7M915.2 1160.2v-26.3M927.6 1160.2v-8.9M939.9 1160.2v-7.8M952.3 1160.2v-14.1M964.6 1160.2v-21.3M1001.7 1160.2v-53.5M1026.4 1160.2v-62.6M1038.7 1160.2v-51.4M1051.1 1160.2v-88.8M1063.4 1160.2v-74.4M1075.8 1160.2v-56.6M1088.1 1160.2v-32.2M1112.8 1160.2v-7.1M1125.2 1160.2v-12.3M1137.5 1160.2v-8.4M1162.2 1160.2v-6.8M1174.5 1160.2v-8.7M1186.9 1160.2v-6.8M1199.2 1160.2v-7.6M1223.9 1160.2v-8.4M1257.9 1160.2v-6.8M1307.3 1160.2v-7.3M1319.6 1160.2v-7.8M1344.3 1160.2v-4.8M1369.0 1160.2v-12.5M1381.4 1160.2v-22.6M1393.7 1160.2v-19.4M1406.1 1160.2v-47.0M1418.4 1160.2v-52.8M1430.8 1160.2v-34.7M1443.1 1160.2v-40.4M1455.5 1160.2v-39.3M1467.8 1160.2v-27.6M1480.2 1160.2v-9.8M1492.5 1160.2v-5.7M1504.9 1160.2v-11.4M1529.6 1160.2v-23.5M1566.6 1160.2v-84.5M1579.0 1160.2v-86.6M1591.3 1160.2v-18.5M1616.0 1160.2v-47.7M1628.3 1160.2v-86.1M1640.7 1160.2v-40.2M1653.0 1160.2v-35.2M1665.4 1160.2v-15.8M1690.1 1160.2v-14.2M1702.4 1160.2v-9.1M1727.1 1160.2v-7.3M1739.5 1160.2v-5.7M1751.8 1160.2v-6.8M1764.2 1160.2v-6.2M1776.5 1160.2v-6.4M1788.9 1160.2v-7.8" stroke="#ff6410" stroke-width="2.6" fill="none"/>
<g fill="#0080ff"><circle cx="265.4" cy="1046.9" r="4.8"/><circle cx="277.8" cy="1038.5" r="4.8"/><circle cx="290.1" cy="1022.7" r="4.8"/><circle cx="302.4" cy="1022.7" r="4.8"/><circle cx="314.8" cy="1022.0" r="4.8"/><circle cx="327.1" cy="1027.7" r="4.8"/><circle cx="339.5" cy="1032.8" r="4.8"/><circle cx="351.8" cy="1036.4" r="4.8"/><circle cx="364.2" cy="1079.3" r="4.8"/><circle cx="376.5" cy="1090.8" r="4.8"/><circle cx="388.9" cy="1090.1" r="4.8"/><circle cx="401.2" cy="1087.4" r="4.8"/><circle cx="413.6" cy="1023.4" r="4.8"/><circle cx="425.9" cy="1027.3" r="4.8"/><circle cx="438.3" cy="1011.5" r="4.8"/><circle cx="450.6" cy="1018.8" r="4.8"/><circle cx="463.0" cy="999.4" r="4.8"/><circle cx="475.3" cy="998.5" r="4.8"/><circle cx="487.7" cy="1010.2" r="4.8"/><circle cx="500.0" cy="1012.2" r="4.8"/><circle cx="512.4" cy="1015.0" r="4.8"/><circle cx="524.7" cy="1018.1" r="4.8"/><circle cx="537.1" cy="1021.4" r="4.8"/><circle cx="549.4" cy="1034.4" r="4.8"/><circle cx="561.8" cy="1103.3" r="4.8"/><circle cx="574.1" cy="1103.3" r="4.8"/><circle cx="586.5" cy="1090.8" r="4.8"/><circle cx="598.8" cy="1072.7" r="4.8"/><circle cx="611.2" cy="1072.7" r="4.8"/><circle cx="623.5" cy="1072.7" r="4.8"/><circle cx="635.9" cy="1072.7" r="4.8"/><circle cx="648.2" cy="1077.1" r="4.8"/><circle cx="660.6" cy="1077.1" r="4.8"/><circle cx="672.9" cy="1088.0" r="4.8"/><circle cx="680.6" cy="1102.2" r="4.8"/><circle cx="693.0" cy="1096.5" r="4.8"/><circle cx="705.3" cy="1096.5" r="4.8"/><circle cx="717.7" cy="1110.6" r="4.8"/><circle cx="730.0" cy="1110.6" r="4.8"/><circle cx="742.4" cy="1116.8" r="4.8"/><circle cx="754.7" cy="1107.4" r="4.8"/><circle cx="767.1" cy="1113.6" r="4.8"/><circle cx="779.4" cy="1117.3" r="4.8"/><circle cx="791.8" cy="1104.2" r="4.8"/><circle cx="804.1" cy="1100.4" r="4.8"/><circle cx="816.4" cy="1075.0" r="4.8"/><circle cx="828.8" cy="1051.1" r="4.8"/><circle cx="841.1" cy="1044.2" r="4.8"/><circle cx="853.5" cy="1035.1" r="4.8"/><circle cx="865.8" cy="1029.6" r="4.8"/><circle cx="878.2" cy="1029.6" r="4.8"/><circle cx="890.5" cy="1022.9" r="4.8"/><circle cx="902.9" cy="1022.9" r="4.8"/><circle cx="915.2" cy="1041.9" r="4.8"/><circle cx="927.6" cy="1052.7" r="4.8"/><circle cx="939.9" cy="1089.6" r="4.8"/><circle cx="952.3" cy="1104.9" r="4.8"/><circle cx="964.6" cy="1086.2" r="4.8"/><circle cx="977.0" cy="1053.8" r="4.8"/><circle cx="989.3" cy="1041.4" r="4.8"/><circle cx="1001.7" cy="1036.4" r="4.8"/><circle cx="1014.0" cy="1005.2" r="4.8"/><circle cx="1026.4" cy="1010.9" r="4.8"/><circle cx="1038.7" cy="1012.7" r="4.8"/><circle cx="1051.1" cy="1000.6" r="4.8"/><circle cx="1063.4" cy="1009.7" r="4.8"/><circle cx="1075.8" cy="1005.1" r="4.8"/><circle cx="1088.1" cy="1005.1" r="4.8"/><circle cx="1100.5" cy="1027.1" r="4.8"/><circle cx="1112.8" cy="1063.8" r="4.8"/><circle cx="1125.2" cy="1101.0" r="4.8"/><circle cx="1137.5" cy="1112.2" r="4.8"/><circle cx="1149.9" cy="1098.6" r="4.8"/><circle cx="1162.2" cy="1090.1" r="4.8"/><circle cx="1174.5" cy="1090.1" r="4.8"/><circle cx="1186.9" cy="1087.8" r="4.8"/><circle cx="1199.2" cy="1081.0" r="4.8"/><circle cx="1211.6" cy="1081.0" r="4.8"/><circle cx="1223.9" cy="1070.7" r="4.8"/><circle cx="1236.3" cy="1071.4" r="4.8"/><circle cx="1245.6" cy="1071.4" r="4.8"/><circle cx="1257.9" cy="1079.8" r="4.8"/><circle cx="1270.2" cy="1077.8" r="4.8"/><circle cx="1282.6" cy="1093.8" r="4.8"/><circle cx="1294.9" cy="1097.8" r="4.8"/><circle cx="1307.3" cy="1099.9" r="4.8"/><circle cx="1319.6" cy="1101.0" r="4.8"/><circle cx="1332.0" cy="1093.1" r="4.8"/><circle cx="1344.3" cy="1089.0" r="4.8"/><circle cx="1356.7" cy="1088.5" r="4.8"/><circle cx="1369.0" cy="1078.4" r="4.8"/><circle cx="1381.4" cy="1051.9" r="4.8"/><circle cx="1393.7" cy="1037.4" r="4.8"/><circle cx="1406.1" cy="1047.9" r="4.8"/><circle cx="1418.4" cy="1018.6" r="4.8"/><circle cx="1430.8" cy="1018.6" r="4.8"/><circle cx="1443.1" cy="1029.8" r="4.8"/><circle cx="1455.5" cy="1038.0" r="4.8"/><circle cx="1467.8" cy="1031.8" r="4.8"/><circle cx="1480.2" cy="1044.4" r="4.8"/><circle cx="1492.5" cy="1085.7" r="4.8"/><circle cx="1504.9" cy="1107.2" r="4.8"/><circle cx="1517.2" cy="1093.7" r="4.8"/><circle cx="1529.6" cy="1082.5" r="4.8"/><circle cx="1541.9" cy="1064.1" r="4.8"/><circle cx="1554.3" cy="1045.5" r="4.8"/><circle cx="1566.6" cy="1036.0" r="4.8"/><circle cx="1579.0" cy="1007.7" r="4.8"/><circle cx="1591.3" cy="1009.3" r="4.8"/><circle cx="1603.7" cy="1006.5" r="4.8"/><circle cx="1616.0" cy="1007.6" r="4.8"/><circle cx="1628.3" cy="1004.5" r="4.8"/><circle cx="1640.7" cy="1004.5" r="4.8"/><circle cx="1653.0" cy="1010.8" r="4.8"/><circle cx="1665.4" cy="1032.5" r="4.8"/><circle cx="1677.7" cy="1035.3" r="4.8"/><circle cx="1690.1" cy="1085.8" r="4.8"/><circle cx="1702.4" cy="1094.6" r="4.8"/><circle cx="1714.8" cy="1094.6" r="4.8"/><circle cx="1727.1" cy="1099.9" r="4.8"/><circle cx="1739.5" cy="1094.6" r="4.8"/><circle cx="1751.8" cy="1094.6" r="4.8"/><circle cx="1764.2" cy="1091.9" r="4.8"/><circle cx="1776.5" cy="1091.9" r="4.8"/><circle cx="1788.9" cy="1091.9" r="4.8"/><circle cx="1801.2" cy="1093.1" r="4.8"/></g>
<path d="M256.3 1189.5v28.1M266.6 1189.5v3.6M272.5 1189.5v13.9M282.8 1189.5v4.8M296.9 1189.5v8.7M302.8 1189.5v4.8M314.5 1189.5v30.8M328.7 1189.5v2.2M354.5 1189.5v3.6M365.6 1189.5v17.8M377.8 1189.5v4.8M393.4 1189.5v6.1M418.4 1189.5v12.6M426.4 1189.5v33.3M428.2 1189.5v34.6M431.3 1189.5v16.5M440.6 1189.5v34.6M446.8 1189.5v123.9M477.8 1189.5v29.4M480.0 1189.5v37.2M485.8 1189.5v37.2M490.3 1189.5v61.8M492.0 1189.5v51.4M496.8 1189.5v12.6M507.0 1189.5v4.8M529.5 1189.5v3.6M538.0 1189.5v6.1M569.8 1189.5v11.3M576.9 1189.5v7.5M593.7 1189.5v23.0M596.2 1189.5v4.8M609.6 1189.5v6.1M618.7 1189.5v17.8M712.6 1189.5v3.6M746.2 1189.5v25.5M843.9 1189.5v4.8M868.5 1189.5v4.8M886.5 1189.5v13.9M930.5 1189.5v13.9M934.8 1189.5v23.0M947.3 1189.5v3.6M956.3 1189.5v7.5M961.5 1189.5v23.7M978.4 1189.5v68.2M990.7 1189.5v89.0M992.6 1189.5v32.0M997.7 1189.5v3.6M1008.6 1189.5v25.5M1019.7 1189.5v19.1M1028.2 1189.5v96.8M1030.1 1189.5v21.6M1036.4 1189.5v59.2M1046.3 1189.5v30.8M1071.4 1189.5v2.2M1112.2 1189.5v3.6M1124.4 1189.5v7.5M1136.6 1189.5v4.8M1143.8 1189.5v8.7M1160.5 1189.5v4.8M1181.8 1189.5v7.5M1229.0 1189.5v4.8M1235.5 1189.5v6.1M1324.9 1189.5v2.6M1371.8 1189.5v8.0M1390.6 1189.5v1.2M1434.9 1189.5v3.9M1463.0 1189.5v6.7M1486.5 1189.5v9.4M1495.9 1189.5v2.6M1510.9 1189.5v37.6M1522.6 1189.5v29.4M1533.0 1189.5v29.4M1539.6 1189.5v8.0M1559.7 1189.5v8.0M1562.9 1189.5v86.0M1567.8 1189.5v10.7M1574.5 1189.5v41.6M1578.5 1189.5v9.4M1586.5 1189.5v3.9M1589.8 1189.5v9.4M1597.3 1189.5v48.3M1599.9 1189.5v45.6M1614.0 1189.5v34.9M1653.2 1189.5v3.9M1676.5 1189.5v29.4M1679.1 1189.5v29.4M1681.1 1189.5v29.4M1699.4 1189.5v2.6M1781.2 1189.5v1.2M262.3 1189.5v1.6M283.9 1189.5v3.3M304.0 1189.5v3.5M305.5 1189.5v1.4M307.1 1189.5v1.2M310.2 1189.5v2.2M314.8 1189.5v3.2M334.9 1189.5v1.9M344.1 1189.5v2.7M350.3 1189.5v2.8M354.9 1189.5v2.9M358.0 1189.5v2.3M365.7 1189.5v1.4M368.8 1189.5v2.0M381.2 1189.5v1.5M385.8 1189.5v1.9M392.0 1189.5v2.8M395.1 1189.5v2.2M419.8 1189.5v1.0M427.5 1189.5v2.2M435.2 1189.5v3.8M438.3 1189.5v3.1M444.5 1189.5v3.1M447.5 1189.5v1.1M450.6 1189.5v1.5M476.9 1189.5v1.9M478.4 1189.5v3.0M492.3 1189.5v1.5M504.7 1189.5v2.6M513.9 1189.5v2.2M530.9 1189.5v3.4M574.1 1189.5v2.5M611.2 1189.5v1.9M623.5 1189.5v3.1M694.5 1189.5v2.2M728.5 1189.5v1.5M770.1 1189.5v2.1M776.3 1189.5v1.7M785.6 1189.5v1.6M828.8 1189.5v1.9M864.3 1189.5v2.1M882.8 1189.5v3.6M885.9 1189.5v3.2M896.7 1189.5v2.2M898.3 1189.5v2.2M906.0 1189.5v1.4M915.2 1189.5v2.9M926.0 1189.5v3.7M927.6 1189.5v2.8M933.8 1189.5v3.5M941.5 1189.5v0.9M952.3 1189.5v2.8M964.6 1189.5v2.1M972.3 1189.5v2.8M973.9 1189.5v1.9M975.4 1189.5v2.1M981.6 1189.5v1.2M984.7 1189.5v1.3M992.4 1189.5v2.3M997.0 1189.5v2.7M1000.1 1189.5v1.1M1003.2 1189.5v1.4M1014.0 1189.5v1.1M1015.6 1189.5v1.5M1023.3 1189.5v3.2M1029.5 1189.5v3.8M1034.1 1189.5v2.3M1074.2 1189.5v1.5M1077.3 1189.5v2.6M1089.7 1189.5v1.1M1095.8 1189.5v2.3M1106.6 1189.5v2.4M1145.2 1189.5v2.9M1182.3 1189.5v1.7M1194.6 1189.5v2.6M1196.2 1189.5v3.9M1213.1 1189.5v3.4M1250.2 1189.5v2.9M1257.9 1189.5v1.9M1290.3 1189.5v1.2M1308.8 1189.5v3.4M1311.9 1189.5v2.8M1349.0 1189.5v1.9M1359.8 1189.5v1.2M1403.0 1189.5v2.7M1413.8 1189.5v3.7M1433.9 1189.5v2.6M1437.0 1189.5v1.6M1440.0 1189.5v1.0M1441.6 1189.5v2.9M1444.7 1189.5v2.0M1449.3 1189.5v2.3M1483.3 1189.5v3.6M1484.8 1189.5v1.8M1521.8 1189.5v2.3M1524.9 1189.5v2.3M1531.1 1189.5v3.6M1543.5 1189.5v2.0M1545.0 1189.5v1.3M1548.1 1189.5v1.2M1549.6 1189.5v3.8M1551.2 1189.5v2.2M1557.3 1189.5v3.3M1566.6 1189.5v2.8M1582.0 1189.5v3.4M1586.7 1189.5v3.0M1597.5 1189.5v2.1M1599.0 1189.5v3.3M1600.6 1189.5v2.5M1606.7 1189.5v2.3M1620.6 1189.5v1.8M1633.0 1189.5v2.3M1637.6 1189.5v2.2M1639.2 1189.5v2.8M1645.3 1189.5v2.4M1654.6 1189.5v3.6M1659.2 1189.5v1.6M1663.9 1189.5v3.0M1665.4 1189.5v2.8M1668.5 1189.5v0.9M1670.0 1189.5v1.5M1688.5 1189.5v1.1M1697.8 1189.5v2.9M1768.8 1189.5v1.6M1788.9 1189.5v2.5" stroke="#04a6ee" stroke-width="2.3" fill="none"/>
<g fill="#00cd88"><circle cx="256.1" cy="1271.3" r="3"/><circle cx="260.8" cy="1275.1" r="3"/><circle cx="262.3" cy="1285.4" r="3"/><circle cx="262.3" cy="1304.9" r="3"/><circle cx="263.9" cy="1311.6" r="3"/><circle cx="265.4" cy="1295.0" r="3"/><circle cx="266.9" cy="1301.8" r="3"/><circle cx="268.5" cy="1313.7" r="3"/><circle cx="270.0" cy="1311.2" r="3"/><circle cx="271.6" cy="1309.3" r="3"/><circle cx="273.1" cy="1316.1" r="3"/><circle cx="274.7" cy="1295.9" r="3"/><circle cx="276.2" cy="1315.6" r="3"/><circle cx="280.8" cy="1297.3" r="3"/><circle cx="282.4" cy="1310.7" r="3"/><circle cx="283.9" cy="1306.5" r="3"/><circle cx="285.5" cy="1303.6" r="3"/><circle cx="285.5" cy="1317.7" r="3"/><circle cx="287.0" cy="1334.3" r="3"/><circle cx="288.6" cy="1323.2" r="3"/><circle cx="290.1" cy="1320.8" r="3"/><circle cx="293.2" cy="1337.5" r="3"/><circle cx="294.7" cy="1331.9" r="3"/><circle cx="296.3" cy="1321.5" r="3"/><circle cx="297.8" cy="1313.3" r="3"/><circle cx="299.4" cy="1323.9" r="3"/><circle cx="300.9" cy="1323.5" r="3"/><circle cx="302.4" cy="1311.5" r="3"/><circle cx="304.0" cy="1329.2" r="3"/><circle cx="305.5" cy="1334.4" r="3"/><circle cx="307.1" cy="1329.5" r="3"/><circle cx="308.6" cy="1325.7" r="3"/><circle cx="310.2" cy="1254.8" r="3"/><circle cx="311.7" cy="1257.8" r="3"/><circle cx="313.3" cy="1257.9" r="3"/><circle cx="314.8" cy="1257.1" r="3"/><circle cx="322.5" cy="1345.4" r="3"/><circle cx="325.6" cy="1348.8" r="3"/><circle cx="328.7" cy="1339.0" r="3"/><circle cx="331.8" cy="1334.9" r="3"/><circle cx="333.3" cy="1332.6" r="3"/><circle cx="334.9" cy="1334.5" r="3"/><circle cx="336.4" cy="1344.8" r="3"/><circle cx="338.0" cy="1342.6" r="3"/><circle cx="339.5" cy="1336.2" r="3"/><circle cx="341.0" cy="1347.5" r="3"/><circle cx="342.6" cy="1344.9" r="3"/><circle cx="344.1" cy="1343.0" r="3"/><circle cx="345.7" cy="1345.4" r="3"/><circle cx="350.3" cy="1336.7" r="3"/><circle cx="351.8" cy="1344.0" r="3"/><circle cx="353.4" cy="1338.6" r="3"/><circle cx="353.4" cy="1327.5" r="3"/><circle cx="354.9" cy="1328.8" r="3"/><circle cx="356.5" cy="1324.3" r="3"/><circle cx="358.0" cy="1319.2" r="3"/><circle cx="362.6" cy="1331.8" r="3"/><circle cx="365.7" cy="1338.8" r="3"/><circle cx="367.3" cy="1327.0" r="3"/><circle cx="368.8" cy="1333.3" r="3"/><circle cx="370.4" cy="1328.2" r="3"/><circle cx="371.9" cy="1335.0" r="3"/><circle cx="373.5" cy="1326.9" r="3"/><circle cx="375.0" cy="1324.5" r="3"/><circle cx="376.5" cy="1335.4" r="3"/><circle cx="378.1" cy="1332.0" r="3"/><circle cx="379.6" cy="1338.5" r="3"/><circle cx="381.2" cy="1328.9" r="3"/><circle cx="384.3" cy="1329.6" r="3"/><circle cx="385.8" cy="1329.1" r="3"/><circle cx="387.3" cy="1319.2" r="3"/><circle cx="388.9" cy="1331.3" r="3"/><circle cx="388.9" cy="1324.0" r="3"/><circle cx="390.4" cy="1313.5" r="3"/><circle cx="392.0" cy="1331.4" r="3"/><circle cx="393.5" cy="1325.9" r="3"/><circle cx="396.6" cy="1334.2" r="3"/><circle cx="398.1" cy="1319.9" r="3"/><circle cx="399.7" cy="1315.7" r="3"/><circle cx="401.2" cy="1325.2" r="3"/><circle cx="402.8" cy="1320.5" r="3"/><circle cx="404.3" cy="1308.4" r="3"/><circle cx="405.9" cy="1312.4" r="3"/><circle cx="407.4" cy="1313.7" r="3"/><circle cx="409.0" cy="1317.8" r="3"/><circle cx="410.5" cy="1313.7" r="3"/><circle cx="412.0" cy="1324.6" r="3"/><circle cx="415.1" cy="1316.1" r="3"/><circle cx="416.7" cy="1322.8" r="3"/><circle cx="421.3" cy="1268.8" r="3"/><circle cx="422.8" cy="1277.7" r="3"/><circle cx="424.4" cy="1274.4" r="3"/><circle cx="425.9" cy="1266.8" r="3"/><circle cx="427.5" cy="1281.1" r="3"/><circle cx="429.0" cy="1291.4" r="3"/><circle cx="430.6" cy="1293.2" r="3"/><circle cx="432.1" cy="1263.8" r="3"/><circle cx="433.7" cy="1295.0" r="3"/><circle cx="435.2" cy="1295.5" r="3"/><circle cx="436.7" cy="1301.1" r="3"/><circle cx="438.3" cy="1286.5" r="3"/><circle cx="441.4" cy="1283.6" r="3"/><circle cx="442.9" cy="1297.1" r="3"/><circle cx="444.5" cy="1285.0" r="3"/><circle cx="446.0" cy="1289.0" r="3"/><circle cx="447.5" cy="1300.1" r="3"/><circle cx="449.1" cy="1312.9" r="3"/><circle cx="450.6" cy="1297.5" r="3"/><circle cx="452.2" cy="1300.2" r="3"/><circle cx="453.7" cy="1307.8" r="3"/><circle cx="455.3" cy="1317.5" r="3"/><circle cx="456.8" cy="1317.5" r="3"/><circle cx="458.3" cy="1303.0" r="3"/><circle cx="459.9" cy="1307.2" r="3"/><circle cx="461.4" cy="1318.6" r="3"/><circle cx="463.0" cy="1315.8" r="3"/><circle cx="464.5" cy="1319.4" r="3"/><circle cx="466.1" cy="1319.5" r="3"/><circle cx="467.6" cy="1315.7" r="3"/><circle cx="469.2" cy="1322.4" r="3"/><circle cx="469.2" cy="1281.7" r="3"/><circle cx="470.7" cy="1269.1" r="3"/><circle cx="472.2" cy="1273.2" r="3"/><circle cx="475.3" cy="1272.3" r="3"/><circle cx="476.9" cy="1278.3" r="3"/><circle cx="478.4" cy="1267.3" r="3"/><circle cx="480.0" cy="1268.6" r="3"/><circle cx="481.5" cy="1278.1" r="3"/><circle cx="483.0" cy="1288.7" r="3"/><circle cx="486.1" cy="1266.8" r="3"/><circle cx="487.7" cy="1287.4" r="3"/><circle cx="489.2" cy="1295.4" r="3"/><circle cx="490.8" cy="1277.0" r="3"/><circle cx="492.3" cy="1294.7" r="3"/><circle cx="493.8" cy="1271.5" r="3"/><circle cx="493.8" cy="1296.1" r="3"/><circle cx="495.4" cy="1284.7" r="3"/><circle cx="496.9" cy="1280.3" r="3"/><circle cx="500.0" cy="1284.4" r="3"/><circle cx="503.1" cy="1290.8" r="3"/><circle cx="506.2" cy="1291.3" r="3"/><circle cx="507.7" cy="1286.1" r="3"/><circle cx="510.8" cy="1293.2" r="3"/><circle cx="512.4" cy="1308.1" r="3"/><circle cx="513.9" cy="1292.4" r="3"/><circle cx="515.5" cy="1302.8" r="3"/><circle cx="517.0" cy="1293.9" r="3"/><circle cx="518.5" cy="1295.5" r="3"/><circle cx="520.1" cy="1300.8" r="3"/><circle cx="521.6" cy="1293.5" r="3"/><circle cx="523.2" cy="1309.0" r="3"/><circle cx="524.7" cy="1297.2" r="3"/><circle cx="527.8" cy="1305.3" r="3"/><circle cx="529.3" cy="1310.8" r="3"/><circle cx="537.1" cy="1322.6" r="3"/><circle cx="538.6" cy="1313.9" r="3"/><circle cx="540.2" cy="1309.9" r="3"/><circle cx="541.7" cy="1307.5" r="3"/><circle cx="543.2" cy="1308.5" r="3"/><circle cx="544.8" cy="1308.9" r="3"/><circle cx="546.3" cy="1323.1" r="3"/><circle cx="547.9" cy="1326.9" r="3"/><circle cx="551.0" cy="1317.8" r="3"/><circle cx="555.6" cy="1319.0" r="3"/><circle cx="557.1" cy="1316.4" r="3"/><circle cx="558.7" cy="1323.1" r="3"/><circle cx="560.2" cy="1328.3" r="3"/><circle cx="561.8" cy="1325.2" r="3"/><circle cx="563.3" cy="1326.3" r="3"/><circle cx="564.9" cy="1336.4" r="3"/><circle cx="566.4" cy="1337.3" r="3"/><circle cx="567.9" cy="1338.0" r="3"/><circle cx="569.5" cy="1340.6" r="3"/><circle cx="569.5" cy="1311.1" r="3"/><circle cx="571.0" cy="1296.8" r="3"/><circle cx="572.6" cy="1299.8" r="3"/><circle cx="575.7" cy="1300.7" r="3"/><circle cx="577.2" cy="1295.0" r="3"/><circle cx="580.3" cy="1310.1" r="3"/><circle cx="583.4" cy="1303.5" r="3"/><circle cx="584.9" cy="1312.9" r="3"/><circle cx="586.5" cy="1301.8" r="3"/><circle cx="588.0" cy="1310.1" r="3"/><circle cx="589.5" cy="1318.8" r="3"/><circle cx="591.1" cy="1303.0" r="3"/><circle cx="591.1" cy="1282.8" r="3"/><circle cx="594.2" cy="1290.9" r="3"/><circle cx="595.7" cy="1271.0" r="3"/><circle cx="597.3" cy="1283.2" r="3"/><circle cx="598.8" cy="1281.6" r="3"/><circle cx="600.4" cy="1294.0" r="3"/><circle cx="601.9" cy="1290.2" r="3"/><circle cx="605.0" cy="1271.2" r="3"/><circle cx="606.5" cy="1284.6" r="3"/><circle cx="608.1" cy="1288.7" r="3"/><circle cx="611.2" cy="1283.8" r="3"/><circle cx="612.7" cy="1292.5" r="3"/><circle cx="614.2" cy="1291.7" r="3"/><circle cx="615.8" cy="1289.4" r="3"/><circle cx="617.3" cy="1282.0" r="3"/><circle cx="632.8" cy="1305.4" r="3"/><circle cx="634.3" cy="1309.5" r="3"/><circle cx="635.9" cy="1330.9" r="3"/><circle cx="637.4" cy="1316.8" r="3"/><circle cx="640.5" cy="1315.4" r="3"/><circle cx="642.0" cy="1308.7" r="3"/><circle cx="643.6" cy="1330.8" r="3"/><circle cx="645.1" cy="1315.9" r="3"/><circle cx="646.7" cy="1330.6" r="3"/><circle cx="648.2" cy="1322.9" r="3"/><circle cx="651.3" cy="1331.1" r="3"/><circle cx="652.8" cy="1335.3" r="3"/><circle cx="654.4" cy="1328.9" r="3"/><circle cx="655.9" cy="1338.0" r="3"/><circle cx="657.5" cy="1334.7" r="3"/><circle cx="659.0" cy="1320.6" r="3"/><circle cx="660.6" cy="1316.5" r="3"/><circle cx="662.1" cy="1316.6" r="3"/><circle cx="663.6" cy="1320.7" r="3"/><circle cx="665.2" cy="1319.8" r="3"/><circle cx="666.7" cy="1332.1" r="3"/><circle cx="668.3" cy="1333.3" r="3"/><circle cx="671.4" cy="1342.2" r="3"/><circle cx="672.9" cy="1328.6" r="3"/><circle cx="674.4" cy="1330.8" r="3"/><circle cx="676.0" cy="1333.1" r="3"/><circle cx="677.5" cy="1342.6" r="3"/><circle cx="679.1" cy="1336.2" r="3"/><circle cx="680.6" cy="1337.3" r="3"/><circle cx="682.2" cy="1328.6" r="3"/><circle cx="685.2" cy="1348.1" r="3"/><circle cx="686.8" cy="1350.0" r="3"/><circle cx="688.3" cy="1341.9" r="3"/><circle cx="689.9" cy="1337.4" r="3"/><circle cx="693.0" cy="1331.6" r="3"/><circle cx="694.5" cy="1342.8" r="3"/><circle cx="743.9" cy="1313.5" r="3"/><circle cx="745.4" cy="1327.4" r="3"/><circle cx="750.1" cy="1313.2" r="3"/><circle cx="751.6" cy="1325.9" r="3"/><circle cx="754.7" cy="1311.9" r="3"/><circle cx="756.3" cy="1332.9" r="3"/><circle cx="757.8" cy="1328.6" r="3"/><circle cx="759.3" cy="1333.9" r="3"/><circle cx="760.9" cy="1312.2" r="3"/><circle cx="762.4" cy="1334.2" r="3"/><circle cx="764.0" cy="1339.0" r="3"/><circle cx="765.5" cy="1319.5" r="3"/><circle cx="767.1" cy="1335.3" r="3"/><circle cx="768.6" cy="1329.4" r="3"/><circle cx="770.1" cy="1325.7" r="3"/><circle cx="771.7" cy="1336.6" r="3"/><circle cx="773.2" cy="1327.4" r="3"/><circle cx="774.8" cy="1338.5" r="3"/><circle cx="774.8" cy="1349.5" r="3"/><circle cx="776.3" cy="1331.6" r="3"/><circle cx="777.9" cy="1333.9" r="3"/><circle cx="779.4" cy="1344.1" r="3"/><circle cx="780.9" cy="1330.6" r="3"/><circle cx="782.5" cy="1328.9" r="3"/><circle cx="785.6" cy="1328.7" r="3"/><circle cx="787.1" cy="1328.7" r="3"/><circle cx="788.7" cy="1343.9" r="3"/><circle cx="790.2" cy="1343.0" r="3"/><circle cx="794.8" cy="1335.9" r="3"/><circle cx="797.9" cy="1331.7" r="3"/><circle cx="799.5" cy="1331.8" r="3"/><circle cx="801.0" cy="1340.8" r="3"/><circle cx="802.6" cy="1348.0" r="3"/><circle cx="804.1" cy="1333.0" r="3"/><circle cx="805.6" cy="1330.4" r="3"/><circle cx="807.2" cy="1331.0" r="3"/><circle cx="808.7" cy="1347.5" r="3"/><circle cx="810.3" cy="1340.4" r="3"/><circle cx="813.4" cy="1331.2" r="3"/><circle cx="814.9" cy="1330.5" r="3"/><circle cx="816.4" cy="1349.1" r="3"/><circle cx="818.0" cy="1342.1" r="3"/><circle cx="819.5" cy="1348.5" r="3"/><circle cx="827.3" cy="1341.8" r="3"/><circle cx="828.8" cy="1331.6" r="3"/><circle cx="831.9" cy="1339.2" r="3"/><circle cx="833.4" cy="1341.3" r="3"/><circle cx="835.0" cy="1333.0" r="3"/><circle cx="836.5" cy="1335.9" r="3"/><circle cx="838.1" cy="1345.4" r="3"/><circle cx="839.6" cy="1334.2" r="3"/><circle cx="842.7" cy="1350.8" r="3"/><circle cx="844.2" cy="1326.8" r="3"/><circle cx="845.8" cy="1326.4" r="3"/><circle cx="847.3" cy="1322.0" r="3"/><circle cx="848.9" cy="1345.8" r="3"/><circle cx="851.9" cy="1335.1" r="3"/><circle cx="855.0" cy="1341.5" r="3"/><circle cx="856.6" cy="1343.7" r="3"/><circle cx="858.1" cy="1343.4" r="3"/><circle cx="859.7" cy="1345.9" r="3"/><circle cx="862.8" cy="1336.2" r="3"/><circle cx="864.3" cy="1324.4" r="3"/><circle cx="867.4" cy="1328.8" r="3"/><circle cx="868.9" cy="1337.2" r="3"/><circle cx="870.5" cy="1341.9" r="3"/><circle cx="872.0" cy="1324.3" r="3"/><circle cx="873.6" cy="1342.3" r="3"/><circle cx="875.1" cy="1339.2" r="3"/><circle cx="878.2" cy="1342.7" r="3"/><circle cx="879.7" cy="1338.8" r="3"/><circle cx="881.3" cy="1338.6" r="3"/><circle cx="884.4" cy="1314.1" r="3"/><circle cx="885.9" cy="1335.0" r="3"/><circle cx="887.5" cy="1331.7" r="3"/><circle cx="889.0" cy="1328.1" r="3"/><circle cx="890.5" cy="1328.8" r="3"/><circle cx="892.1" cy="1320.4" r="3"/><circle cx="893.6" cy="1317.1" r="3"/><circle cx="895.2" cy="1341.0" r="3"/><circle cx="896.7" cy="1344.4" r="3"/><circle cx="898.3" cy="1346.6" r="3"/><circle cx="899.8" cy="1333.5" r="3"/><circle cx="901.3" cy="1334.5" r="3"/><circle cx="902.9" cy="1336.8" r="3"/><circle cx="904.4" cy="1335.6" r="3"/><circle cx="909.1" cy="1332.6" r="3"/><circle cx="910.6" cy="1333.9" r="3"/><circle cx="912.1" cy="1320.3" r="3"/><circle cx="913.7" cy="1335.5" r="3"/><circle cx="915.2" cy="1335.8" r="3"/><circle cx="916.8" cy="1334.6" r="3"/><circle cx="918.3" cy="1330.7" r="3"/><circle cx="919.9" cy="1323.9" r="3"/><circle cx="921.4" cy="1337.3" r="3"/><circle cx="923.0" cy="1325.9" r="3"/><circle cx="924.5" cy="1330.9" r="3"/><circle cx="926.0" cy="1338.1" r="3"/><circle cx="933.8" cy="1291.9" r="3"/><circle cx="935.3" cy="1302.6" r="3"/><circle cx="936.8" cy="1282.1" r="3"/><circle cx="938.4" cy="1319.4" r="3"/><circle cx="939.9" cy="1305.0" r="3"/><circle cx="941.5" cy="1287.4" r="3"/><circle cx="943.0" cy="1297.0" r="3"/><circle cx="944.6" cy="1304.2" r="3"/><circle cx="946.1" cy="1327.3" r="3"/><circle cx="947.6" cy="1292.3" r="3"/><circle cx="949.2" cy="1283.9" r="3"/><circle cx="950.7" cy="1287.1" r="3"/><circle cx="952.3" cy="1323.2" r="3"/><circle cx="955.4" cy="1321.0" r="3"/><circle cx="956.9" cy="1327.6" r="3"/><circle cx="958.5" cy="1317.1" r="3"/><circle cx="960.0" cy="1289.0" r="3"/><circle cx="961.5" cy="1273.6" r="3"/><circle cx="963.1" cy="1289.1" r="3"/><circle cx="964.6" cy="1303.9" r="3"/><circle cx="966.2" cy="1276.1" r="3"/><circle cx="967.7" cy="1301.5" r="3"/><circle cx="969.3" cy="1294.0" r="3"/><circle cx="970.8" cy="1295.3" r="3"/><circle cx="972.3" cy="1306.2" r="3"/><circle cx="973.9" cy="1284.0" r="3"/><circle cx="977.0" cy="1277.8" r="3"/><circle cx="978.5" cy="1302.4" r="3"/><circle cx="980.1" cy="1298.9" r="3"/><circle cx="983.2" cy="1281.2" r="3"/><circle cx="984.7" cy="1291.3" r="3"/><circle cx="986.2" cy="1279.5" r="3"/><circle cx="989.3" cy="1279.7" r="3"/><circle cx="992.4" cy="1276.2" r="3"/><circle cx="994.0" cy="1285.3" r="3"/><circle cx="995.5" cy="1306.3" r="3"/><circle cx="997.0" cy="1281.9" r="3"/><circle cx="998.6" cy="1295.5" r="3"/><circle cx="1000.1" cy="1290.0" r="3"/><circle cx="1001.7" cy="1288.7" r="3"/><circle cx="1003.2" cy="1302.3" r="3"/><circle cx="1004.8" cy="1282.8" r="3"/><circle cx="1006.3" cy="1276.2" r="3"/><circle cx="1007.8" cy="1303.2" r="3"/><circle cx="1009.4" cy="1278.1" r="3"/><circle cx="1010.9" cy="1286.8" r="3"/><circle cx="1012.5" cy="1285.5" r="3"/><circle cx="1015.6" cy="1298.1" r="3"/><circle cx="1017.1" cy="1305.6" r="3"/><circle cx="1018.7" cy="1307.7" r="3"/><circle cx="1020.2" cy="1307.5" r="3"/><circle cx="1021.7" cy="1283.4" r="3"/><circle cx="1023.3" cy="1272.9" r="3"/><circle cx="1026.4" cy="1266.0" r="3"/><circle cx="1026.4" cy="1291.8" r="3"/><circle cx="1027.9" cy="1285.7" r="3"/><circle cx="1029.5" cy="1276.9" r="3"/><circle cx="1031.0" cy="1275.0" r="3"/><circle cx="1032.5" cy="1281.8" r="3"/><circle cx="1034.1" cy="1300.1" r="3"/><circle cx="1035.6" cy="1293.5" r="3"/><circle cx="1037.2" cy="1295.1" r="3"/><circle cx="1038.7" cy="1286.9" r="3"/><circle cx="1040.3" cy="1291.2" r="3"/><circle cx="1041.8" cy="1284.5" r="3"/><circle cx="1043.3" cy="1274.5" r="3"/><circle cx="1046.4" cy="1287.0" r="3"/><circle cx="1049.5" cy="1302.5" r="3"/><circle cx="1052.6" cy="1299.0" r="3"/><circle cx="1052.6" cy="1325.4" r="3"/><circle cx="1054.2" cy="1295.2" r="3"/><circle cx="1055.7" cy="1319.3" r="3"/><circle cx="1058.8" cy="1305.3" r="3"/><circle cx="1060.3" cy="1299.1" r="3"/><circle cx="1061.9" cy="1312.7" r="3"/><circle cx="1063.4" cy="1324.8" r="3"/><circle cx="1065.0" cy="1316.5" r="3"/><circle cx="1066.5" cy="1314.3" r="3"/><circle cx="1071.1" cy="1297.4" r="3"/><circle cx="1075.8" cy="1316.0" r="3"/><circle cx="1077.3" cy="1300.0" r="3"/><circle cx="1078.8" cy="1315.0" r="3"/><circle cx="1083.5" cy="1305.7" r="3"/><circle cx="1085.0" cy="1300.8" r="3"/><circle cx="1088.1" cy="1294.6" r="3"/><circle cx="1089.7" cy="1317.8" r="3"/><circle cx="1092.7" cy="1302.8" r="3"/><circle cx="1095.8" cy="1324.4" r="3"/><circle cx="1097.4" cy="1301.4" r="3"/><circle cx="1098.9" cy="1322.7" r="3"/><circle cx="1100.5" cy="1322.3" r="3"/><circle cx="1102.0" cy="1297.5" r="3"/><circle cx="1103.5" cy="1315.8" r="3"/><circle cx="1105.1" cy="1319.8" r="3"/><circle cx="1106.6" cy="1308.4" r="3"/><circle cx="1108.2" cy="1306.6" r="3"/><circle cx="1109.7" cy="1320.2" r="3"/><circle cx="1111.3" cy="1301.1" r="3"/><circle cx="1112.8" cy="1318.5" r="3"/><circle cx="1114.4" cy="1323.5" r="3"/><circle cx="1114.4" cy="1317.2" r="3"/><circle cx="1115.9" cy="1309.7" r="3"/><circle cx="1117.4" cy="1312.4" r="3"/><circle cx="1119.0" cy="1296.7" r="3"/><circle cx="1120.5" cy="1303.5" r="3"/><circle cx="1122.1" cy="1314.0" r="3"/><circle cx="1125.2" cy="1316.4" r="3"/><circle cx="1126.7" cy="1294.7" r="3"/><circle cx="1128.2" cy="1302.4" r="3"/><circle cx="1129.8" cy="1310.2" r="3"/><circle cx="1131.3" cy="1311.2" r="3"/><circle cx="1132.9" cy="1295.1" r="3"/><circle cx="1134.4" cy="1321.1" r="3"/><circle cx="1136.0" cy="1317.1" r="3"/><circle cx="1137.5" cy="1296.4" r="3"/><circle cx="1139.0" cy="1315.6" r="3"/><circle cx="1142.1" cy="1307.9" r="3"/><circle cx="1143.7" cy="1308.4" r="3"/><circle cx="1146.8" cy="1311.5" r="3"/><circle cx="1148.3" cy="1308.7" r="3"/><circle cx="1149.9" cy="1321.5" r="3"/><circle cx="1151.4" cy="1323.6" r="3"/><circle cx="1154.5" cy="1302.8" r="3"/><circle cx="1156.0" cy="1290.9" r="3"/><circle cx="1157.6" cy="1286.9" r="3"/><circle cx="1160.7" cy="1304.2" r="3"/><circle cx="1162.2" cy="1303.2" r="3"/><circle cx="1163.7" cy="1308.2" r="3"/><circle cx="1165.3" cy="1326.4" r="3"/><circle cx="1166.8" cy="1317.2" r="3"/><circle cx="1169.9" cy="1324.7" r="3"/><circle cx="1171.5" cy="1298.3" r="3"/><circle cx="1173.0" cy="1321.6" r="3"/><circle cx="1174.5" cy="1301.4" r="3"/><circle cx="1176.1" cy="1320.8" r="3"/><circle cx="1177.6" cy="1301.7" r="3"/><circle cx="1179.2" cy="1308.2" r="3"/><circle cx="1180.7" cy="1290.0" r="3"/><circle cx="1182.3" cy="1304.8" r="3"/><circle cx="1183.8" cy="1290.6" r="3"/><circle cx="1183.8" cy="1320.2" r="3"/><circle cx="1185.4" cy="1319.4" r="3"/><circle cx="1188.4" cy="1323.4" r="3"/><circle cx="1190.0" cy="1329.1" r="3"/><circle cx="1191.5" cy="1321.1" r="3"/><circle cx="1193.1" cy="1324.6" r="3"/><circle cx="1196.2" cy="1339.7" r="3"/><circle cx="1197.7" cy="1325.1" r="3"/><circle cx="1199.2" cy="1333.8" r="3"/><circle cx="1202.3" cy="1329.8" r="3"/><circle cx="1203.9" cy="1327.1" r="3"/><circle cx="1208.5" cy="1321.9" r="3"/><circle cx="1210.1" cy="1318.7" r="3"/><circle cx="1211.6" cy="1319.8" r="3"/><circle cx="1214.7" cy="1329.1" r="3"/><circle cx="1216.2" cy="1335.9" r="3"/><circle cx="1217.8" cy="1320.7" r="3"/><circle cx="1219.3" cy="1317.9" r="3"/><circle cx="1220.9" cy="1327.4" r="3"/><circle cx="1223.9" cy="1330.4" r="3"/><circle cx="1225.5" cy="1333.9" r="3"/><circle cx="1242.5" cy="1318.8" r="3"/><circle cx="1245.6" cy="1321.6" r="3"/><circle cx="1247.1" cy="1319.6" r="3"/><circle cx="1248.6" cy="1320.8" r="3"/><circle cx="1250.2" cy="1312.2" r="3"/><circle cx="1251.7" cy="1312.2" r="3"/><circle cx="1253.3" cy="1317.8" r="3"/><circle cx="1254.8" cy="1319.7" r="3"/><circle cx="1256.4" cy="1311.8" r="3"/><circle cx="1257.9" cy="1315.0" r="3"/><circle cx="1259.4" cy="1308.8" r="3"/><circle cx="1261.0" cy="1316.5" r="3"/><circle cx="1279.5" cy="1335.9" r="3"/><circle cx="1281.1" cy="1337.3" r="3"/><circle cx="1282.6" cy="1337.0" r="3"/><circle cx="1284.1" cy="1342.6" r="3"/><circle cx="1285.7" cy="1342.3" r="3"/><circle cx="1287.2" cy="1343.7" r="3"/><circle cx="1290.3" cy="1340.6" r="3"/><circle cx="1293.4" cy="1336.4" r="3"/><circle cx="1294.9" cy="1349.1" r="3"/><circle cx="1296.5" cy="1341.2" r="3"/><circle cx="1299.6" cy="1338.4" r="3"/><circle cx="1301.1" cy="1335.5" r="3"/><circle cx="1302.7" cy="1334.1" r="3"/><circle cx="1305.7" cy="1335.1" r="3"/><circle cx="1307.3" cy="1338.3" r="3"/><circle cx="1308.8" cy="1345.2" r="3"/><circle cx="1313.5" cy="1345.0" r="3"/><circle cx="1315.0" cy="1346.4" r="3"/><circle cx="1316.6" cy="1344.7" r="3"/><circle cx="1318.1" cy="1341.0" r="3"/><circle cx="1319.6" cy="1342.7" r="3"/><circle cx="1321.2" cy="1338.7" r="3"/><circle cx="1322.7" cy="1347.4" r="3"/><circle cx="1325.8" cy="1343.6" r="3"/><circle cx="1327.4" cy="1341.6" r="3"/><circle cx="1328.9" cy="1339.3" r="3"/><circle cx="1330.4" cy="1327.9" r="3"/><circle cx="1332.0" cy="1332.0" r="3"/><circle cx="1333.5" cy="1333.0" r="3"/><circle cx="1336.6" cy="1336.0" r="3"/><circle cx="1338.2" cy="1343.3" r="3"/><circle cx="1339.7" cy="1339.6" r="3"/><circle cx="1341.3" cy="1334.5" r="3"/><circle cx="1342.8" cy="1326.4" r="3"/><circle cx="1344.3" cy="1339.9" r="3"/><circle cx="1345.9" cy="1333.1" r="3"/><circle cx="1347.4" cy="1335.8" r="3"/><circle cx="1349.0" cy="1337.6" r="3"/><circle cx="1350.5" cy="1335.9" r="3"/><circle cx="1352.1" cy="1331.6" r="3"/><circle cx="1353.6" cy="1342.3" r="3"/><circle cx="1355.1" cy="1338.9" r="3"/><circle cx="1356.7" cy="1339.9" r="3"/><circle cx="1358.2" cy="1328.8" r="3"/><circle cx="1359.8" cy="1329.8" r="3"/><circle cx="1361.3" cy="1335.5" r="3"/><circle cx="1362.9" cy="1341.6" r="3"/><circle cx="1364.4" cy="1327.7" r="3"/><circle cx="1365.9" cy="1337.1" r="3"/><circle cx="1365.9" cy="1293.1" r="3"/><circle cx="1367.5" cy="1299.3" r="3"/><circle cx="1370.6" cy="1294.2" r="3"/><circle cx="1372.1" cy="1297.3" r="3"/><circle cx="1372.1" cy="1323.8" r="3"/><circle cx="1373.7" cy="1319.6" r="3"/><circle cx="1375.2" cy="1320.7" r="3"/><circle cx="1376.8" cy="1318.2" r="3"/><circle cx="1379.8" cy="1320.9" r="3"/><circle cx="1382.9" cy="1313.7" r="3"/><circle cx="1384.5" cy="1310.4" r="3"/><circle cx="1386.0" cy="1319.1" r="3"/><circle cx="1389.1" cy="1319.6" r="3"/><circle cx="1390.6" cy="1313.6" r="3"/><circle cx="1392.2" cy="1322.5" r="3"/><circle cx="1395.3" cy="1310.6" r="3"/><circle cx="1398.4" cy="1314.8" r="3"/><circle cx="1399.9" cy="1332.3" r="3"/><circle cx="1401.4" cy="1340.9" r="3"/><circle cx="1403.0" cy="1333.3" r="3"/><circle cx="1404.5" cy="1324.6" r="3"/><circle cx="1406.1" cy="1332.8" r="3"/><circle cx="1407.6" cy="1341.5" r="3"/><circle cx="1409.2" cy="1339.9" r="3"/><circle cx="1410.7" cy="1339.9" r="3"/><circle cx="1413.8" cy="1338.9" r="3"/><circle cx="1416.9" cy="1334.5" r="3"/><circle cx="1418.4" cy="1334.1" r="3"/><circle cx="1420.0" cy="1329.2" r="3"/><circle cx="1426.1" cy="1326.1" r="3"/><circle cx="1427.7" cy="1334.7" r="3"/><circle cx="1429.2" cy="1326.3" r="3"/><circle cx="1430.8" cy="1325.6" r="3"/><circle cx="1432.3" cy="1331.0" r="3"/><circle cx="1433.9" cy="1332.6" r="3"/><circle cx="1435.4" cy="1327.9" r="3"/><circle cx="1440.0" cy="1330.2" r="3"/><circle cx="1441.6" cy="1326.8" r="3"/><circle cx="1443.1" cy="1330.7" r="3"/><circle cx="1444.7" cy="1326.7" r="3"/><circle cx="1446.2" cy="1335.2" r="3"/><circle cx="1447.8" cy="1343.0" r="3"/><circle cx="1449.3" cy="1327.7" r="3"/><circle cx="1450.8" cy="1339.5" r="3"/><circle cx="1452.4" cy="1336.9" r="3"/><circle cx="1453.9" cy="1332.7" r="3"/><circle cx="1455.5" cy="1324.3" r="3"/><circle cx="1457.0" cy="1333.3" r="3"/><circle cx="1458.6" cy="1328.5" r="3"/><circle cx="1460.1" cy="1340.9" r="3"/><circle cx="1461.6" cy="1332.6" r="3"/><circle cx="1463.2" cy="1327.2" r="3"/><circle cx="1463.2" cy="1332.7" r="3"/><circle cx="1464.7" cy="1329.8" r="3"/><circle cx="1467.8" cy="1327.1" r="3"/><circle cx="1469.4" cy="1323.4" r="3"/><circle cx="1474.0" cy="1326.6" r="3"/><circle cx="1475.5" cy="1340.6" r="3"/><circle cx="1478.6" cy="1335.5" r="3"/><circle cx="1480.2" cy="1325.3" r="3"/><circle cx="1481.7" cy="1329.0" r="3"/><circle cx="1483.3" cy="1331.6" r="3"/><circle cx="1486.3" cy="1332.5" r="3"/><circle cx="1487.9" cy="1326.2" r="3"/><circle cx="1489.4" cy="1333.9" r="3"/><circle cx="1491.0" cy="1338.7" r="3"/><circle cx="1492.5" cy="1337.8" r="3"/><circle cx="1494.1" cy="1336.9" r="3"/><circle cx="1497.1" cy="1326.3" r="3"/><circle cx="1498.7" cy="1333.6" r="3"/><circle cx="1500.2" cy="1335.4" r="3"/><circle cx="1503.3" cy="1330.7" r="3"/><circle cx="1504.9" cy="1329.6" r="3"/><circle cx="1506.4" cy="1326.9" r="3"/><circle cx="1508.0" cy="1323.8" r="3"/><circle cx="1508.0" cy="1268.2" r="3"/><circle cx="1509.5" cy="1272.3" r="3"/><circle cx="1511.0" cy="1275.7" r="3"/><circle cx="1512.6" cy="1277.3" r="3"/><circle cx="1514.1" cy="1273.3" r="3"/><circle cx="1514.1" cy="1304.6" r="3"/><circle cx="1517.2" cy="1310.9" r="3"/><circle cx="1518.8" cy="1308.3" r="3"/><circle cx="1521.8" cy="1301.9" r="3"/><circle cx="1524.9" cy="1314.4" r="3"/><circle cx="1526.5" cy="1316.9" r="3"/><circle cx="1529.6" cy="1307.5" r="3"/><circle cx="1531.1" cy="1309.5" r="3"/><circle cx="1532.7" cy="1317.1" r="3"/><circle cx="1534.2" cy="1301.2" r="3"/><circle cx="1535.7" cy="1316.0" r="3"/><circle cx="1537.3" cy="1307.8" r="3"/><circle cx="1538.8" cy="1303.4" r="3"/><circle cx="1540.4" cy="1310.3" r="3"/><circle cx="1541.9" cy="1306.4" r="3"/><circle cx="1545.0" cy="1310.9" r="3"/><circle cx="1546.5" cy="1301.0" r="3"/><circle cx="1548.1" cy="1310.4" r="3"/><circle cx="1549.6" cy="1310.9" r="3"/><circle cx="1551.2" cy="1300.6" r="3"/><circle cx="1555.8" cy="1320.8" r="3"/><circle cx="1558.9" cy="1310.4" r="3"/><circle cx="1562.0" cy="1312.1" r="3"/><circle cx="1562.0" cy="1288.8" r="3"/><circle cx="1563.5" cy="1256.7" r="3"/><circle cx="1566.6" cy="1288.6" r="3"/><circle cx="1568.2" cy="1291.3" r="3"/><circle cx="1569.7" cy="1287.2" r="3"/><circle cx="1574.3" cy="1281.6" r="3"/><circle cx="1575.9" cy="1277.6" r="3"/><circle cx="1577.4" cy="1256.8" r="3"/><circle cx="1580.5" cy="1271.4" r="3"/><circle cx="1582.0" cy="1286.0" r="3"/><circle cx="1583.6" cy="1299.1" r="3"/><circle cx="1585.1" cy="1291.9" r="3"/><circle cx="1586.7" cy="1270.9" r="3"/><circle cx="1588.2" cy="1287.1" r="3"/><circle cx="1589.8" cy="1273.3" r="3"/><circle cx="1591.3" cy="1288.1" r="3"/><circle cx="1592.8" cy="1286.4" r="3"/><circle cx="1594.4" cy="1297.8" r="3"/><circle cx="1597.5" cy="1286.4" r="3"/><circle cx="1599.0" cy="1271.4" r="3"/><circle cx="1600.6" cy="1283.7" r="3"/><circle cx="1602.1" cy="1271.9" r="3"/><circle cx="1603.7" cy="1269.3" r="3"/><circle cx="1605.2" cy="1272.7" r="3"/><circle cx="1608.3" cy="1300.9" r="3"/><circle cx="1609.8" cy="1302.6" r="3"/><circle cx="1611.4" cy="1287.4" r="3"/><circle cx="1612.9" cy="1280.0" r="3"/><circle cx="1614.5" cy="1290.8" r="3"/><circle cx="1616.0" cy="1268.1" r="3"/><circle cx="1617.5" cy="1280.5" r="3"/><circle cx="1619.1" cy="1263.9" r="3"/><circle cx="1620.6" cy="1288.6" r="3"/><circle cx="1620.6" cy="1323.6" r="3"/><circle cx="1623.7" cy="1297.7" r="3"/><circle cx="1625.3" cy="1310.9" r="3"/><circle cx="1626.8" cy="1318.7" r="3"/><circle cx="1629.9" cy="1293.7" r="3"/><circle cx="1631.4" cy="1312.0" r="3"/><circle cx="1633.0" cy="1307.1" r="3"/><circle cx="1634.5" cy="1317.3" r="3"/><circle cx="1636.1" cy="1306.5" r="3"/><circle cx="1637.6" cy="1326.5" r="3"/><circle cx="1639.2" cy="1308.2" r="3"/><circle cx="1640.7" cy="1310.7" r="3"/><circle cx="1642.2" cy="1306.9" r="3"/><circle cx="1645.3" cy="1318.4" r="3"/><circle cx="1648.4" cy="1298.1" r="3"/><circle cx="1650.0" cy="1305.7" r="3"/><circle cx="1651.5" cy="1308.6" r="3"/><circle cx="1653.0" cy="1317.9" r="3"/><circle cx="1654.6" cy="1301.0" r="3"/><circle cx="1656.1" cy="1316.7" r="3"/><circle cx="1657.7" cy="1312.0" r="3"/><circle cx="1660.8" cy="1314.4" r="3"/><circle cx="1662.3" cy="1314.5" r="3"/><circle cx="1663.9" cy="1320.7" r="3"/><circle cx="1665.4" cy="1304.7" r="3"/><circle cx="1666.9" cy="1310.8" r="3"/><circle cx="1668.5" cy="1302.6" r="3"/><circle cx="1670.0" cy="1300.0" r="3"/><circle cx="1671.6" cy="1302.3" r="3"/><circle cx="1674.7" cy="1320.4" r="3"/><circle cx="1674.7" cy="1271.5" r="3"/><circle cx="1676.2" cy="1275.3" r="3"/><circle cx="1679.3" cy="1273.2" r="3"/><circle cx="1680.8" cy="1272.8" r="3"/><circle cx="1682.4" cy="1310.3" r="3"/><circle cx="1683.9" cy="1303.8" r="3"/><circle cx="1688.5" cy="1299.2" r="3"/><circle cx="1690.1" cy="1302.5" r="3"/><circle cx="1691.6" cy="1295.5" r="3"/><circle cx="1693.2" cy="1299.7" r="3"/><circle cx="1696.3" cy="1300.7" r="3"/><circle cx="1697.8" cy="1312.6" r="3"/><circle cx="1699.4" cy="1308.3" r="3"/><circle cx="1700.9" cy="1299.6" r="3"/><circle cx="1704.0" cy="1296.3" r="3"/><circle cx="1705.5" cy="1297.8" r="3"/><circle cx="1708.6" cy="1306.6" r="3"/><circle cx="1711.7" cy="1308.9" r="3"/><circle cx="1713.2" cy="1317.3" r="3"/><circle cx="1714.8" cy="1299.1" r="3"/><circle cx="1717.9" cy="1305.1" r="3"/><circle cx="1719.4" cy="1309.1" r="3"/><circle cx="1725.6" cy="1301.0" r="3"/><circle cx="1727.1" cy="1313.5" r="3"/><circle cx="1728.7" cy="1309.1" r="3"/><circle cx="1730.2" cy="1324.2" r="3"/><circle cx="1733.3" cy="1316.9" r="3"/><circle cx="1736.4" cy="1313.8" r="3"/><circle cx="1737.9" cy="1305.8" r="3"/><circle cx="1739.5" cy="1322.4" r="3"/><circle cx="1741.0" cy="1315.8" r="3"/><circle cx="1742.6" cy="1314.4" r="3"/><circle cx="1744.1" cy="1315.3" r="3"/><circle cx="1745.7" cy="1311.4" r="3"/><circle cx="1747.2" cy="1316.2" r="3"/><circle cx="1748.7" cy="1322.8" r="3"/><circle cx="1750.3" cy="1314.9" r="3"/><circle cx="1751.8" cy="1314.9" r="3"/><circle cx="1753.4" cy="1321.1" r="3"/><circle cx="1753.4" cy="1325.5" r="3"/><circle cx="1754.9" cy="1326.0" r="3"/><circle cx="1758.0" cy="1331.7" r="3"/><circle cx="1759.6" cy="1325.0" r="3"/><circle cx="1761.1" cy="1333.4" r="3"/><circle cx="1762.6" cy="1327.6" r="3"/><circle cx="1765.7" cy="1336.7" r="3"/><circle cx="1767.3" cy="1335.0" r="3"/><circle cx="1768.8" cy="1328.4" r="3"/><circle cx="1770.4" cy="1337.9" r="3"/><circle cx="1790.4" cy="1342.3" r="3"/><circle cx="1793.5" cy="1341.4" r="3"/><circle cx="270.0" cy="1251.2" r="3"/><circle cx="719.2" cy="1360.8" r="3"/><circle cx="737.7" cy="1350.1" r="3"/><circle cx="740.8" cy="1355.1" r="3"/><circle cx="842.7" cy="1312.2" r="3"/><circle cx="867.4" cy="1295.5" r="3"/><circle cx="885.9" cy="1278.7" r="3"/><circle cx="933.8" cy="1279.8" r="3"/><circle cx="960.0" cy="1266.2" r="3"/><circle cx="992.4" cy="1252.7" r="3"/><circle cx="1245.6" cy="1343.3" r="3"/><circle cx="1313.5" cy="1359.7" r="3"/><circle cx="1319.6" cy="1359.7" r="3"/><circle cx="1463.2" cy="1293.7" r="3"/><circle cx="1484.8" cy="1305.8" r="3"/><circle cx="1532.7" cy="1264.1" r="3"/></g>
<rect x="254.6" y="982.3" width="1552.8" height="177.9" fill="none" stroke="#000" stroke-width="2.8"/>
<rect x="254.6" y="1189.5" width="1552.8" height="178.4" fill="none" stroke="#000" stroke-width="2.8"/>
<path d="M254.6 1160.2h-14M254.6 1142.4h-7M254.6 1124.6h-14M254.6 1106.8h-7M254.6 1089.0h-14M254.6 1071.2h-7M254.6 1053.5h-14M254.6 1035.7h-7M254.6 1017.9h-14M254.6 1000.1h-7M254.6 982.3h-14M254.6 1367.9h-14M254.6 1350.1h-7M254.6 1332.2h-14M254.6 1314.4h-7M254.6 1296.5h-14M254.6 1278.7h-7M254.6 1260.9h-14M254.6 1243.0h-7M254.6 1225.2h-14M254.6 1207.3h-7M254.6 1189.5h-14M1807.4 1160.2h-14M1807.4 1142.4h-7M1807.4 1124.6h-14M1807.4 1106.8h-7M1807.4 1089.0h-14M1807.4 1071.2h-7M1807.4 1053.5h-14M1807.4 1035.7h-7M1807.4 1017.9h-14M1807.4 1000.1h-7M1807.4 982.3h-14M1807.4 1189.5h-14M1807.4 1211.8h-14M1807.4 1234.1h-14M1807.4 1256.4h-14M1807.4 1278.7h-14M1807.4 1301.0h-14M1807.4 1323.3h-14M1807.4 1345.6h-14M1807.4 1367.9h-14M254.6 982.3v14M254.6 1189.5v14M254.6 1367.9v14M396.6 982.3v7M396.6 1189.5v7M396.6 1367.9v7M537.1 982.3v14M537.1 1189.5v14M537.1 1367.9v14M680.6 982.3v7M680.6 1189.5v7M680.6 1367.9v7M818.0 982.3v14M818.0 1189.5v14M818.0 1367.9v14M961.5 982.3v7M961.5 1189.5v7M961.5 1367.9v7M1102.0 982.3v14M1102.0 1189.5v14M1102.0 1367.9v14M1245.6 982.3v7M1245.6 1189.5v7M1245.6 1367.9v7M1381.4 982.3v14M1381.4 1189.5v14M1381.4 1367.9v14M1524.9 982.3v7M1524.9 1189.5v7M1524.9 1367.9v7M1665.4 982.3v14M1665.4 1189.5v14M1665.4 1367.9v14" stroke="#000" stroke-width="2.8" fill="none"/>
<g font-size="32"><text x="230.3" y="1167.3" text-anchor="end">0.0</text><text x="230.3" y="1131.7" text-anchor="end">0.2</text><text x="230.3" y="1096.1" text-anchor="end">0.4</text><text x="230.3" y="1060.6" text-anchor="end">0.6</text><text x="230.3" y="1025.0" text-anchor="end">0.8</text><text x="230.3" y="989.4" text-anchor="end">1.0</text><text x="230.3" y="1375.0" text-anchor="end">0.0</text><text x="230.3" y="1339.3" text-anchor="end">0.1</text><text x="230.3" y="1303.6" text-anchor="end">0.2</text><text x="230.3" y="1268.0" text-anchor="end">0.3</text><text x="230.3" y="1232.3" text-anchor="end">0.4</text><text x="230.3" y="1196.6" text-anchor="end">0.5</text><text x="1821.6" y="1167.3">0</text><text x="1821.6" y="1131.7">20</text><text x="1821.6" y="1096.1">40</text><text x="1821.6" y="1060.6">60</text><text x="1821.6" y="1025.0">80</text><text x="1821.6" y="989.4">100</text><text x="1821.6" y="1196.6">0</text><text x="1821.6" y="1218.9">20</text><text x="1821.6" y="1241.2">40</text><text x="1821.6" y="1263.5">60</text><text x="1821.6" y="1285.8">80</text><text x="1821.6" y="1308.1">100</text><text x="1821.6" y="1330.4">120</text><text x="1821.6" y="1352.7">140</text><text x="1821.6" y="1375.0">160</text><text x="254.6" y="1414.0" text-anchor="middle">2015/3/31</text><text x="537.1" y="1414.0" text-anchor="middle">2015/9/30</text><text x="818.0" y="1414.0" text-anchor="middle">2016/3/30</text><text x="1102.0" y="1414.0" text-anchor="middle">2016/9/30</text><text x="1381.4" y="1414.0" text-anchor="middle">2017/3/30</text><text x="1665.4" y="1414.0" text-anchor="middle">2017/9/30</text></g>
<text transform="translate(174.6 1070.3) rotate(-90)" text-anchor="middle" font-size="33" textLength="83" lengthAdjust="spacingAndGlyphs">NDVI</text>
<text transform="translate(174.5 1277.7) rotate(-90)" text-anchor="middle" font-size="32" textLength="179" lengthAdjust="spacingAndGlyphs">VSM(m<tspan font-size="21" dy="-12">3</tspan><tspan dy="12">/m</tspan><tspan font-size="21" dy="-12">3</tspan><tspan dy="12">)</tspan></text>
<text transform="translate(1909.6 1071.5) rotate(-90)" text-anchor="middle" font-size="32" textLength="192.7" lengthAdjust="spacingAndGlyphs">ET(mm/8day)</text>
<text transform="translate(1903.1 1276.0) rotate(-90)" text-anchor="middle" font-size="32" textLength="198.8" lengthAdjust="spacingAndGlyphs">PRE(mm/day)</text>
<text transform="translate(77.3 1199.2) rotate(90)" text-anchor="middle" font-size="45.5" font-weight="bold" textLength="262.0" lengthAdjust="spacingAndGlyphs">Botou station</text>
<path d="M265.5 1626.5v-13.5M277.9 1626.5v-16.9M290.2 1626.5v-20.1M302.5 1626.5v-24.7M314.9 1626.5v-20.1M327.2 1626.5v-22.0M339.6 1626.5v-19.2M351.9 1626.5v-9.9M364.3 1626.5v-3.9M376.6 1626.5v-7.8M389.0 1626.5v-15.1M401.3 1626.5v-29.1M413.7 1626.5v-32.7M426.0 1626.5v-45.5M450.7 1626.5v-54.5M463.1 1626.5v-44.6M475.4 1626.5v-70.5M500.1 1626.5v-61.6M512.5 1626.5v-41.9M537.1 1626.5v-22.0M549.5 1626.5v-7.8M574.2 1626.5v-6.2M586.5 1626.5v-9.4M623.6 1626.5v-8.9M648.3 1626.5v-8.3M673.0 1626.5v-6.2M686.9 1626.5v-8.9M699.2 1626.5v-8.3M736.3 1626.5v-6.2M748.6 1626.5v-8.9M760.9 1626.5v-5.9M773.3 1626.5v-7.8M785.6 1626.5v-5.2M810.3 1626.5v-3.4M822.7 1626.5v-10.5M835.0 1626.5v-9.9M847.4 1626.5v-15.6M859.7 1626.5v-24.7M872.1 1626.5v-16.2M884.4 1626.5v-26.5M896.8 1626.5v-20.3M909.1 1626.5v-13.5M921.5 1626.5v-14.4M933.8 1626.5v-11.0M946.2 1626.5v-9.9M970.9 1626.5v-21.3M1007.9 1626.5v-57.0M1044.9 1626.5v-96.6M1057.3 1626.5v-66.6M1069.6 1626.5v-78.3M1106.7 1626.5v-13.0M1119.0 1626.5v-8.7M1131.4 1626.5v-12.3M1143.7 1626.5v-8.7M1156.1 1626.5v-7.1M1168.4 1626.5v-6.0M1180.8 1626.5v-8.3M1193.1 1626.5v-6.6M1265.7 1626.5v-7.8M1315.0 1626.5v-6.4M1327.4 1626.5v-6.4M1352.1 1626.5v-3.2M1376.8 1626.5v-9.8M1389.1 1626.5v-12.6M1401.5 1626.5v-14.6M1413.8 1626.5v-28.1M1426.2 1626.5v-27.2M1438.5 1626.5v-24.0M1450.9 1626.5v-22.6M1463.2 1626.5v-19.7M1475.6 1626.5v-19.2M1487.9 1626.5v-11.5M1500.3 1626.5v-7.3M1512.6 1626.5v-12.4M1537.3 1626.5v-19.2M1549.6 1626.5v-29.3M1574.3 1626.5v-102.3M1586.7 1626.5v-93.8M1611.4 1626.5v-68.9M1636.1 1626.5v-87.9M1648.4 1626.5v-32.0M1660.8 1626.5v-25.2M1673.1 1626.5v-11.0M1710.2 1626.5v-9.2M1722.5 1626.5v-6.9M1734.9 1626.5v-6.4M1759.6 1626.5v-6.4M1771.9 1626.5v-5.3M1784.2 1626.5v-5.9M1796.6 1626.5v-6.9" stroke="#ff6410" stroke-width="2.6" fill="none"/>
<g fill="#0080ff"><circle cx="265.5" cy="1555.4" r="4.8"/><circle cx="277.9" cy="1538.4" r="4.8"/><circle cx="290.2" cy="1534.5" r="4.8"/><circle cx="302.5" cy="1530.2" r="4.8"/><circle cx="314.9" cy="1514.6" r="4.8"/><circle cx="327.2" cy="1507.3" r="4.8"/><circle cx="339.6" cy="1508.9" r="4.8"/><circle cx="351.9" cy="1508.9" r="4.8"/><circle cx="364.3" cy="1554.7" r="4.8"/><circle cx="376.6" cy="1558.6" r="4.8"/><circle cx="389.0" cy="1575.2" r="4.8"/><circle cx="401.3" cy="1538.9" r="4.8"/><circle cx="413.7" cy="1485.8" r="4.8"/><circle cx="426.0" cy="1485.8" r="4.8"/><circle cx="438.4" cy="1469.1" r="4.8"/><circle cx="450.7" cy="1469.1" r="4.8"/><circle cx="463.1" cy="1465.9" r="4.8"/><circle cx="475.4" cy="1465.9" r="4.8"/><circle cx="487.8" cy="1473.7" r="4.8"/><circle cx="500.1" cy="1480.3" r="4.8"/><circle cx="512.5" cy="1473.9" r="4.8"/><circle cx="524.8" cy="1471.2" r="4.8"/><circle cx="537.1" cy="1489.7" r="4.8"/><circle cx="549.5" cy="1514.4" r="4.8"/><circle cx="561.8" cy="1552.4" r="4.8"/><circle cx="574.2" cy="1563.1" r="4.8"/><circle cx="586.5" cy="1558.8" r="4.8"/><circle cx="598.9" cy="1560.4" r="4.8"/><circle cx="611.2" cy="1564.3" r="4.8"/><circle cx="623.6" cy="1564.3" r="4.8"/><circle cx="635.9" cy="1565.2" r="4.8"/><circle cx="648.3" cy="1554.0" r="4.8"/><circle cx="660.6" cy="1549.2" r="4.8"/><circle cx="673.0" cy="1588.5" r="4.8"/><circle cx="680.7" cy="1568.2" r="4.8"/><circle cx="693.0" cy="1568.2" r="4.8"/><circle cx="705.4" cy="1574.1" r="4.8"/><circle cx="717.7" cy="1586.4" r="4.8"/><circle cx="730.1" cy="1587.2" r="4.8"/><circle cx="742.4" cy="1587.2" r="4.8"/><circle cx="754.8" cy="1579.1" r="4.8"/><circle cx="767.1" cy="1588.8" r="4.8"/><circle cx="779.5" cy="1590.1" r="4.8"/><circle cx="791.8" cy="1585.5" r="4.8"/><circle cx="804.2" cy="1570.5" r="4.8"/><circle cx="816.5" cy="1562.0" r="4.8"/><circle cx="828.9" cy="1553.5" r="4.8"/><circle cx="841.2" cy="1541.8" r="4.8"/><circle cx="853.6" cy="1515.6" r="4.8"/><circle cx="865.9" cy="1519.6" r="4.8"/><circle cx="878.2" cy="1523.1" r="4.8"/><circle cx="890.6" cy="1512.4" r="4.8"/><circle cx="902.9" cy="1512.4" r="4.8"/><circle cx="915.3" cy="1531.8" r="4.8"/><circle cx="927.6" cy="1545.8" r="4.8"/><circle cx="940.0" cy="1558.1" r="4.8"/><circle cx="952.3" cy="1554.2" r="4.8"/><circle cx="964.7" cy="1546.4" r="4.8"/><circle cx="977.0" cy="1529.9" r="4.8"/><circle cx="989.4" cy="1541.2" r="4.8"/><circle cx="1001.7" cy="1460.8" r="4.8"/><circle cx="1014.1" cy="1464.5" r="4.8"/><circle cx="1026.4" cy="1469.8" r="4.8"/><circle cx="1038.8" cy="1475.7" r="4.8"/><circle cx="1051.1" cy="1468.9" r="4.8"/><circle cx="1063.5" cy="1475.7" r="4.8"/><circle cx="1075.8" cy="1475.7" r="4.8"/><circle cx="1088.2" cy="1471.6" r="4.8"/><circle cx="1100.5" cy="1493.6" r="4.8"/><circle cx="1112.9" cy="1521.0" r="4.8"/><circle cx="1125.2" cy="1559.2" r="4.8"/><circle cx="1137.5" cy="1571.1" r="4.8"/><circle cx="1149.9" cy="1559.7" r="4.8"/><circle cx="1162.2" cy="1554.4" r="4.8"/><circle cx="1174.6" cy="1554.4" r="4.8"/><circle cx="1186.9" cy="1561.5" r="4.8"/><circle cx="1199.3" cy="1553.5" r="4.8"/><circle cx="1211.6" cy="1560.4" r="4.8"/><circle cx="1224.0" cy="1565.9" r="4.8"/><circle cx="1236.3" cy="1565.9" r="4.8"/><circle cx="1245.6" cy="1565.9" r="4.8"/><circle cx="1257.9" cy="1579.1" r="4.8"/><circle cx="1270.3" cy="1561.7" r="4.8"/><circle cx="1282.6" cy="1576.9" r="4.8"/><circle cx="1295.0" cy="1572.5" r="4.8"/><circle cx="1307.3" cy="1572.5" r="4.8"/><circle cx="1319.7" cy="1574.3" r="4.8"/><circle cx="1332.0" cy="1572.1" r="4.8"/><circle cx="1344.4" cy="1566.3" r="4.8"/><circle cx="1356.7" cy="1566.3" r="4.8"/><circle cx="1369.1" cy="1540.7" r="4.8"/><circle cx="1381.4" cy="1539.8" r="4.8"/><circle cx="1393.8" cy="1526.5" r="4.8"/><circle cx="1406.1" cy="1517.2" r="4.8"/><circle cx="1418.5" cy="1512.4" r="4.8"/><circle cx="1430.8" cy="1512.4" r="4.8"/><circle cx="1443.1" cy="1520.6" r="4.8"/><circle cx="1455.5" cy="1516.7" r="4.8"/><circle cx="1467.8" cy="1509.8" r="4.8"/><circle cx="1480.2" cy="1518.8" r="4.8"/><circle cx="1492.5" cy="1541.2" r="4.8"/><circle cx="1504.9" cy="1554.9" r="4.8"/><circle cx="1517.2" cy="1559.5" r="4.8"/><circle cx="1529.6" cy="1526.7" r="4.8"/><circle cx="1541.9" cy="1514.6" r="4.8"/><circle cx="1554.3" cy="1464.1" r="4.8"/><circle cx="1566.6" cy="1462.7" r="4.8"/><circle cx="1579.0" cy="1462.7" r="4.8"/><circle cx="1591.3" cy="1465.7" r="4.8"/><circle cx="1603.7" cy="1470.2" r="4.8"/><circle cx="1616.0" cy="1474.3" r="4.8"/><circle cx="1628.4" cy="1476.4" r="4.8"/><circle cx="1640.7" cy="1478.5" r="4.8"/><circle cx="1653.1" cy="1488.8" r="4.8"/><circle cx="1665.4" cy="1509.1" r="4.8"/><circle cx="1677.8" cy="1512.4" r="4.8"/><circle cx="1690.1" cy="1575.7" r="4.8"/><circle cx="1702.4" cy="1561.5" r="4.8"/><circle cx="1714.8" cy="1561.5" r="4.8"/><circle cx="1727.1" cy="1567.3" r="4.8"/><circle cx="1739.5" cy="1562.2" r="4.8"/><circle cx="1751.8" cy="1560.9" r="4.8"/><circle cx="1764.2" cy="1565.4" r="4.8"/><circle cx="1776.5" cy="1564.1" r="4.8"/><circle cx="1788.9" cy="1564.1" r="4.8"/><circle cx="1801.2" cy="1566.3" r="4.8"/></g>
<path d="M256.2 1656.2v18.2M272.6 1656.2v15.5M296.8 1656.2v6.5M302.9 1656.2v26.0M314.4 1656.2v37.6M315.7 1656.2v11.7M354.6 1656.2v2.7M373.9 1656.2v9.1M415.2 1656.2v6.5M420.5 1656.2v23.3M424.3 1656.2v16.9M426.9 1656.2v32.4M428.2 1656.2v13.0M442.4 1656.2v7.8M446.9 1656.2v41.5M470.0 1656.2v2.7M491.0 1656.2v10.4M505.7 1656.2v16.9M535.5 1656.2v3.9M570.3 1656.2v13.0M575.6 1656.2v3.9M593.6 1656.2v16.9M609.1 1656.2v13.0M619.0 1656.2v10.4M712.5 1656.2v1.3M746.9 1656.2v15.5M837.5 1656.2v1.3M844.0 1656.2v11.7M868.5 1656.2v5.2M886.6 1656.2v15.5M921.0 1656.2v16.3M934.9 1656.2v11.7M947.4 1656.2v3.9M960.2 1656.2v35.0M962.1 1656.2v28.5M964.2 1656.2v38.8M978.4 1656.2v33.7M982.3 1656.2v2.7M990.0 1656.2v132.1M996.5 1656.2v31.1M1006.8 1656.2v1.3M1019.8 1656.2v1.3M1030.1 1656.2v75.1M1046.3 1656.2v16.9M1065.0 1656.2v9.1M1112.2 1656.2v20.8M1124.4 1656.2v3.9M1137.4 1656.2v5.2M1143.9 1656.2v5.2M1160.5 1656.2v2.7M1181.8 1656.2v2.7M1195.4 1656.2v1.3M1229.1 1656.2v2.7M1235.6 1656.2v3.9M1323.4 1656.2v4.3M1371.2 1656.2v8.4M1389.9 1656.2v4.3M1434.8 1656.2v1.7M1462.9 1656.2v12.4M1486.4 1656.2v4.3M1510.8 1656.2v66.2M1532.8 1656.2v5.7M1546.3 1656.2v35.3M1548.9 1656.2v3.0M1563.7 1656.2v36.6M1567.7 1656.2v8.4M1574.3 1656.2v4.3M1585.1 1656.2v23.2M1589.6 1656.2v12.4M1598.6 1656.2v23.2M1600.4 1656.2v27.2M1612.8 1656.2v24.5M1614.2 1656.2v20.4M1653.1 1656.2v1.7M1675.6 1656.2v33.9M1677.8 1656.2v35.3M1679.6 1656.2v35.3M1681.0 1656.2v31.2M1692.4 1656.2v1.7M1699.2 1656.2v19.1M1781.0 1656.2v1.7M293.3 1656.2v3.5M301.0 1656.2v1.2M311.8 1656.2v3.8M321.1 1656.2v2.2M335.0 1656.2v1.3M341.1 1656.2v3.8M358.1 1656.2v1.7M362.7 1656.2v2.8M364.3 1656.2v2.0M368.9 1656.2v2.9M396.7 1656.2v1.4M399.8 1656.2v3.0M401.3 1656.2v2.7M422.9 1656.2v1.0M424.5 1656.2v2.9M426.0 1656.2v3.0M433.7 1656.2v2.8M460.0 1656.2v3.0M463.1 1656.2v1.1M472.3 1656.2v1.8M478.5 1656.2v1.6M481.6 1656.2v1.5M483.1 1656.2v2.4M487.8 1656.2v3.0M498.6 1656.2v2.0M501.7 1656.2v3.6M504.7 1656.2v1.2M507.8 1656.2v3.0M540.2 1656.2v2.5M569.6 1656.2v1.8M581.9 1656.2v1.4M603.5 1656.2v1.4M649.8 1656.2v1.8M660.6 1656.2v3.6M668.3 1656.2v1.8M725.4 1656.2v3.5M768.7 1656.2v1.1M777.9 1656.2v0.9M785.6 1656.2v1.7M793.4 1656.2v2.0M804.2 1656.2v3.7M807.3 1656.2v2.7M818.1 1656.2v3.7M875.2 1656.2v1.6M879.8 1656.2v3.5M919.9 1656.2v2.0M926.1 1656.2v1.6M938.4 1656.2v2.3M941.5 1656.2v3.4M947.7 1656.2v3.1M967.8 1656.2v3.6M972.4 1656.2v2.1M980.1 1656.2v2.5M984.7 1656.2v3.4M987.8 1656.2v1.4M998.6 1656.2v0.9M1006.4 1656.2v0.9M1015.6 1656.2v1.8M1021.8 1656.2v3.2M1058.8 1656.2v2.5M1063.5 1656.2v2.4M1065.0 1656.2v3.4M1066.5 1656.2v1.3M1072.7 1656.2v1.9M1085.1 1656.2v2.7M1091.2 1656.2v1.1M1106.7 1656.2v3.4M1140.6 1656.2v3.7M1156.1 1656.2v3.0M1183.9 1656.2v1.4M1253.3 1656.2v1.0M1264.1 1656.2v3.5M1367.5 1656.2v2.3M1406.1 1656.2v1.4M1412.3 1656.2v2.4M1433.9 1656.2v1.8M1444.7 1656.2v3.3M1452.4 1656.2v1.3M1455.5 1656.2v1.6M1460.1 1656.2v3.4M1464.8 1656.2v2.0M1472.5 1656.2v1.4M1481.7 1656.2v2.6M1486.4 1656.2v2.9M1495.6 1656.2v3.7M1509.5 1656.2v2.1M1514.1 1656.2v3.0M1518.8 1656.2v3.9M1532.7 1656.2v1.3M1538.8 1656.2v2.3M1541.9 1656.2v2.2M1552.7 1656.2v2.2M1571.3 1656.2v1.9M1574.3 1656.2v3.5M1579.0 1656.2v3.7M1582.1 1656.2v3.3M1588.2 1656.2v2.9M1614.5 1656.2v1.1M1636.1 1656.2v3.7M1651.5 1656.2v1.7M1662.3 1656.2v1.5M1671.6 1656.2v3.7M1673.1 1656.2v2.6M1716.3 1656.2v0.9M1734.9 1656.2v1.2M1761.1 1656.2v1.7M1764.2 1656.2v2.8M1773.4 1656.2v2.5M1802.8 1656.2v1.6" stroke="#04a6ee" stroke-width="2.3" fill="none"/>
<g fill="#00cd88"><circle cx="254.7" cy="1761.8" r="3"/><circle cx="256.2" cy="1784.6" r="3"/><circle cx="259.3" cy="1785.5" r="3"/><circle cx="262.4" cy="1783.2" r="3"/><circle cx="264.0" cy="1770.6" r="3"/><circle cx="265.5" cy="1780.3" r="3"/><circle cx="267.0" cy="1786.4" r="3"/><circle cx="268.6" cy="1784.0" r="3"/><circle cx="270.1" cy="1768.3" r="3"/><circle cx="271.7" cy="1777.7" r="3"/><circle cx="273.2" cy="1768.9" r="3"/><circle cx="273.2" cy="1800.2" r="3"/><circle cx="274.8" cy="1797.0" r="3"/><circle cx="280.9" cy="1793.9" r="3"/><circle cx="284.0" cy="1787.3" r="3"/><circle cx="285.6" cy="1798.0" r="3"/><circle cx="287.1" cy="1796.0" r="3"/><circle cx="288.7" cy="1791.4" r="3"/><circle cx="293.3" cy="1796.3" r="3"/><circle cx="294.8" cy="1802.1" r="3"/><circle cx="296.4" cy="1791.3" r="3"/><circle cx="307.2" cy="1799.5" r="3"/><circle cx="308.7" cy="1787.1" r="3"/><circle cx="310.3" cy="1802.1" r="3"/><circle cx="310.3" cy="1763.8" r="3"/><circle cx="311.8" cy="1747.8" r="3"/><circle cx="313.4" cy="1760.6" r="3"/><circle cx="314.9" cy="1759.7" r="3"/><circle cx="322.6" cy="1799.6" r="3"/><circle cx="327.2" cy="1794.6" r="3"/><circle cx="328.8" cy="1793.1" r="3"/><circle cx="330.3" cy="1789.5" r="3"/><circle cx="333.4" cy="1790.8" r="3"/><circle cx="338.0" cy="1796.8" r="3"/><circle cx="339.6" cy="1808.8" r="3"/><circle cx="342.7" cy="1805.4" r="3"/><circle cx="344.2" cy="1810.3" r="3"/><circle cx="348.8" cy="1799.9" r="3"/><circle cx="351.9" cy="1797.4" r="3"/><circle cx="353.5" cy="1797.4" r="3"/><circle cx="355.0" cy="1805.9" r="3"/><circle cx="356.6" cy="1802.1" r="3"/><circle cx="358.1" cy="1794.3" r="3"/><circle cx="361.2" cy="1808.9" r="3"/><circle cx="362.7" cy="1801.3" r="3"/><circle cx="362.7" cy="1792.8" r="3"/><circle cx="364.3" cy="1792.0" r="3"/><circle cx="365.8" cy="1791.6" r="3"/><circle cx="367.4" cy="1795.5" r="3"/><circle cx="368.9" cy="1790.4" r="3"/><circle cx="372.0" cy="1789.4" r="3"/><circle cx="373.5" cy="1789.6" r="3"/><circle cx="375.1" cy="1790.5" r="3"/><circle cx="378.2" cy="1785.9" r="3"/><circle cx="379.7" cy="1790.7" r="3"/><circle cx="381.3" cy="1793.0" r="3"/><circle cx="382.8" cy="1793.6" r="3"/><circle cx="384.3" cy="1784.9" r="3"/><circle cx="385.9" cy="1786.0" r="3"/><circle cx="387.4" cy="1780.9" r="3"/><circle cx="390.5" cy="1788.2" r="3"/><circle cx="392.1" cy="1785.9" r="3"/><circle cx="393.6" cy="1790.5" r="3"/><circle cx="395.2" cy="1785.0" r="3"/><circle cx="396.7" cy="1780.0" r="3"/><circle cx="399.8" cy="1788.0" r="3"/><circle cx="401.3" cy="1781.1" r="3"/><circle cx="402.9" cy="1773.8" r="3"/><circle cx="407.5" cy="1771.3" r="3"/><circle cx="409.0" cy="1787.4" r="3"/><circle cx="410.6" cy="1774.5" r="3"/><circle cx="413.7" cy="1784.7" r="3"/><circle cx="418.3" cy="1773.7" r="3"/><circle cx="418.3" cy="1746.1" r="3"/><circle cx="421.4" cy="1734.0" r="3"/><circle cx="422.9" cy="1737.5" r="3"/><circle cx="424.5" cy="1744.0" r="3"/><circle cx="426.0" cy="1736.3" r="3"/><circle cx="427.6" cy="1737.9" r="3"/><circle cx="429.1" cy="1757.2" r="3"/><circle cx="432.2" cy="1736.9" r="3"/><circle cx="433.7" cy="1741.1" r="3"/><circle cx="436.8" cy="1758.6" r="3"/><circle cx="438.4" cy="1760.1" r="3"/><circle cx="439.9" cy="1764.1" r="3"/><circle cx="441.5" cy="1757.9" r="3"/><circle cx="444.5" cy="1767.2" r="3"/><circle cx="446.1" cy="1748.9" r="3"/><circle cx="447.6" cy="1750.6" r="3"/><circle cx="450.7" cy="1776.3" r="3"/><circle cx="452.3" cy="1774.8" r="3"/><circle cx="453.8" cy="1768.7" r="3"/><circle cx="455.3" cy="1778.4" r="3"/><circle cx="456.9" cy="1782.9" r="3"/><circle cx="458.4" cy="1776.2" r="3"/><circle cx="460.0" cy="1778.7" r="3"/><circle cx="463.1" cy="1770.4" r="3"/><circle cx="464.6" cy="1779.7" r="3"/><circle cx="466.2" cy="1778.4" r="3"/><circle cx="467.7" cy="1773.1" r="3"/><circle cx="469.2" cy="1777.9" r="3"/><circle cx="469.2" cy="1781.2" r="3"/><circle cx="470.8" cy="1781.6" r="3"/><circle cx="473.9" cy="1780.6" r="3"/><circle cx="475.4" cy="1766.2" r="3"/><circle cx="477.0" cy="1777.5" r="3"/><circle cx="480.0" cy="1783.6" r="3"/><circle cx="481.6" cy="1774.7" r="3"/><circle cx="483.1" cy="1770.1" r="3"/><circle cx="484.7" cy="1768.9" r="3"/><circle cx="487.8" cy="1774.1" r="3"/><circle cx="489.3" cy="1763.2" r="3"/><circle cx="490.8" cy="1775.0" r="3"/><circle cx="492.4" cy="1776.9" r="3"/><circle cx="495.5" cy="1781.2" r="3"/><circle cx="497.0" cy="1762.9" r="3"/><circle cx="498.6" cy="1767.9" r="3"/><circle cx="500.1" cy="1762.9" r="3"/><circle cx="501.7" cy="1777.1" r="3"/><circle cx="503.2" cy="1779.6" r="3"/><circle cx="506.3" cy="1768.3" r="3"/><circle cx="507.8" cy="1781.2" r="3"/><circle cx="509.4" cy="1764.9" r="3"/><circle cx="510.9" cy="1765.4" r="3"/><circle cx="512.5" cy="1759.1" r="3"/><circle cx="514.0" cy="1763.1" r="3"/><circle cx="514.0" cy="1782.0" r="3"/><circle cx="515.5" cy="1797.6" r="3"/><circle cx="520.2" cy="1799.3" r="3"/><circle cx="524.8" cy="1790.8" r="3"/><circle cx="526.3" cy="1779.0" r="3"/><circle cx="529.4" cy="1773.5" r="3"/><circle cx="531.0" cy="1778.5" r="3"/><circle cx="534.1" cy="1790.0" r="3"/><circle cx="535.6" cy="1788.9" r="3"/><circle cx="537.1" cy="1784.9" r="3"/><circle cx="540.2" cy="1787.0" r="3"/><circle cx="541.8" cy="1789.9" r="3"/><circle cx="543.3" cy="1800.9" r="3"/><circle cx="544.9" cy="1795.5" r="3"/><circle cx="546.4" cy="1791.4" r="3"/><circle cx="548.0" cy="1795.2" r="3"/><circle cx="549.5" cy="1782.6" r="3"/><circle cx="551.0" cy="1780.4" r="3"/><circle cx="552.6" cy="1787.9" r="3"/><circle cx="554.1" cy="1799.3" r="3"/><circle cx="555.7" cy="1786.3" r="3"/><circle cx="557.2" cy="1782.9" r="3"/><circle cx="558.8" cy="1794.0" r="3"/><circle cx="560.3" cy="1784.6" r="3"/><circle cx="561.8" cy="1798.2" r="3"/><circle cx="563.4" cy="1788.1" r="3"/><circle cx="566.5" cy="1787.5" r="3"/><circle cx="568.0" cy="1793.9" r="3"/><circle cx="569.6" cy="1786.0" r="3"/><circle cx="571.1" cy="1767.0" r="3"/><circle cx="575.7" cy="1755.7" r="3"/><circle cx="577.3" cy="1781.9" r="3"/><circle cx="578.8" cy="1773.1" r="3"/><circle cx="580.4" cy="1773.3" r="3"/><circle cx="581.9" cy="1785.2" r="3"/><circle cx="583.5" cy="1774.1" r="3"/><circle cx="585.0" cy="1778.6" r="3"/><circle cx="586.5" cy="1765.4" r="3"/><circle cx="588.1" cy="1782.7" r="3"/><circle cx="591.2" cy="1777.7" r="3"/><circle cx="591.2" cy="1766.2" r="3"/><circle cx="592.7" cy="1762.8" r="3"/><circle cx="595.8" cy="1766.4" r="3"/><circle cx="597.3" cy="1762.4" r="3"/><circle cx="600.4" cy="1763.0" r="3"/><circle cx="603.5" cy="1776.1" r="3"/><circle cx="606.6" cy="1764.7" r="3"/><circle cx="608.1" cy="1764.3" r="3"/><circle cx="609.7" cy="1758.8" r="3"/><circle cx="612.8" cy="1771.5" r="3"/><circle cx="614.3" cy="1775.5" r="3"/><circle cx="617.4" cy="1757.9" r="3"/><circle cx="632.8" cy="1775.4" r="3"/><circle cx="634.4" cy="1781.1" r="3"/><circle cx="635.9" cy="1781.6" r="3"/><circle cx="639.0" cy="1799.7" r="3"/><circle cx="640.6" cy="1789.7" r="3"/><circle cx="642.1" cy="1795.5" r="3"/><circle cx="643.6" cy="1779.7" r="3"/><circle cx="645.2" cy="1777.8" r="3"/><circle cx="646.7" cy="1788.4" r="3"/><circle cx="648.3" cy="1789.4" r="3"/><circle cx="649.8" cy="1796.3" r="3"/><circle cx="651.4" cy="1790.0" r="3"/><circle cx="652.9" cy="1808.6" r="3"/><circle cx="656.0" cy="1806.6" r="3"/><circle cx="657.5" cy="1811.2" r="3"/><circle cx="659.1" cy="1822.7" r="3"/><circle cx="660.6" cy="1815.4" r="3"/><circle cx="662.2" cy="1802.2" r="3"/><circle cx="663.7" cy="1815.0" r="3"/><circle cx="665.3" cy="1818.8" r="3"/><circle cx="666.8" cy="1814.2" r="3"/><circle cx="668.3" cy="1816.6" r="3"/><circle cx="669.9" cy="1819.0" r="3"/><circle cx="671.4" cy="1816.0" r="3"/><circle cx="673.0" cy="1812.8" r="3"/><circle cx="674.5" cy="1803.4" r="3"/><circle cx="676.1" cy="1805.5" r="3"/><circle cx="679.1" cy="1811.0" r="3"/><circle cx="680.7" cy="1802.3" r="3"/><circle cx="682.2" cy="1814.6" r="3"/><circle cx="683.8" cy="1813.9" r="3"/><circle cx="685.3" cy="1805.1" r="3"/><circle cx="688.4" cy="1811.8" r="3"/><circle cx="689.9" cy="1804.0" r="3"/><circle cx="691.5" cy="1811.7" r="3"/><circle cx="693.0" cy="1806.6" r="3"/><circle cx="739.3" cy="1820.2" r="3"/><circle cx="742.4" cy="1814.6" r="3"/><circle cx="748.6" cy="1815.0" r="3"/><circle cx="750.1" cy="1819.0" r="3"/><circle cx="751.7" cy="1800.4" r="3"/><circle cx="753.2" cy="1796.9" r="3"/><circle cx="754.8" cy="1810.7" r="3"/><circle cx="756.3" cy="1809.7" r="3"/><circle cx="759.4" cy="1802.7" r="3"/><circle cx="760.9" cy="1790.9" r="3"/><circle cx="762.5" cy="1801.0" r="3"/><circle cx="764.0" cy="1814.4" r="3"/><circle cx="765.6" cy="1798.7" r="3"/><circle cx="768.7" cy="1789.5" r="3"/><circle cx="770.2" cy="1802.0" r="3"/><circle cx="773.3" cy="1794.5" r="3"/><circle cx="774.8" cy="1800.3" r="3"/><circle cx="774.8" cy="1813.3" r="3"/><circle cx="776.4" cy="1801.6" r="3"/><circle cx="777.9" cy="1814.8" r="3"/><circle cx="779.5" cy="1809.1" r="3"/><circle cx="782.6" cy="1805.3" r="3"/><circle cx="784.1" cy="1815.5" r="3"/><circle cx="785.6" cy="1800.3" r="3"/><circle cx="787.2" cy="1809.6" r="3"/><circle cx="788.7" cy="1798.5" r="3"/><circle cx="790.3" cy="1804.9" r="3"/><circle cx="791.8" cy="1802.4" r="3"/><circle cx="794.9" cy="1800.9" r="3"/><circle cx="796.4" cy="1797.4" r="3"/><circle cx="798.0" cy="1797.9" r="3"/><circle cx="799.5" cy="1807.2" r="3"/><circle cx="801.1" cy="1798.3" r="3"/><circle cx="804.2" cy="1808.4" r="3"/><circle cx="805.7" cy="1800.8" r="3"/><circle cx="807.3" cy="1813.3" r="3"/><circle cx="810.3" cy="1805.9" r="3"/><circle cx="811.9" cy="1802.2" r="3"/><circle cx="813.4" cy="1808.0" r="3"/><circle cx="815.0" cy="1801.3" r="3"/><circle cx="816.5" cy="1796.0" r="3"/><circle cx="819.6" cy="1794.6" r="3"/><circle cx="822.7" cy="1791.8" r="3"/><circle cx="828.9" cy="1795.4" r="3"/><circle cx="830.4" cy="1786.2" r="3"/><circle cx="831.9" cy="1802.5" r="3"/><circle cx="833.5" cy="1796.6" r="3"/><circle cx="835.0" cy="1802.9" r="3"/><circle cx="836.6" cy="1794.8" r="3"/><circle cx="838.1" cy="1793.1" r="3"/><circle cx="839.7" cy="1793.5" r="3"/><circle cx="841.2" cy="1798.2" r="3"/><circle cx="844.3" cy="1788.9" r="3"/><circle cx="847.4" cy="1792.8" r="3"/><circle cx="848.9" cy="1791.0" r="3"/><circle cx="850.5" cy="1793.0" r="3"/><circle cx="852.0" cy="1797.9" r="3"/><circle cx="853.6" cy="1792.6" r="3"/><circle cx="855.1" cy="1787.2" r="3"/><circle cx="856.6" cy="1791.1" r="3"/><circle cx="861.3" cy="1786.8" r="3"/><circle cx="862.8" cy="1794.7" r="3"/><circle cx="869.0" cy="1801.2" r="3"/><circle cx="870.5" cy="1805.0" r="3"/><circle cx="872.1" cy="1791.8" r="3"/><circle cx="873.6" cy="1784.5" r="3"/><circle cx="875.2" cy="1795.6" r="3"/><circle cx="876.7" cy="1792.3" r="3"/><circle cx="878.2" cy="1786.3" r="3"/><circle cx="881.3" cy="1792.5" r="3"/><circle cx="882.9" cy="1795.1" r="3"/><circle cx="884.4" cy="1788.7" r="3"/><circle cx="886.0" cy="1798.3" r="3"/><circle cx="889.1" cy="1795.1" r="3"/><circle cx="892.1" cy="1801.4" r="3"/><circle cx="895.2" cy="1804.6" r="3"/><circle cx="896.8" cy="1796.7" r="3"/><circle cx="898.3" cy="1799.2" r="3"/><circle cx="899.9" cy="1793.9" r="3"/><circle cx="901.4" cy="1800.8" r="3"/><circle cx="902.9" cy="1797.3" r="3"/><circle cx="904.5" cy="1797.0" r="3"/><circle cx="906.0" cy="1801.9" r="3"/><circle cx="907.6" cy="1791.5" r="3"/><circle cx="909.1" cy="1801.3" r="3"/><circle cx="910.7" cy="1786.9" r="3"/><circle cx="912.2" cy="1795.6" r="3"/><circle cx="915.3" cy="1803.3" r="3"/><circle cx="918.4" cy="1805.5" r="3"/><circle cx="921.5" cy="1797.5" r="3"/><circle cx="923.0" cy="1802.3" r="3"/><circle cx="924.6" cy="1793.7" r="3"/><circle cx="927.6" cy="1788.1" r="3"/><circle cx="929.2" cy="1794.0" r="3"/><circle cx="932.3" cy="1766.5" r="3"/><circle cx="933.8" cy="1764.9" r="3"/><circle cx="935.4" cy="1750.2" r="3"/><circle cx="936.9" cy="1780.8" r="3"/><circle cx="940.0" cy="1776.0" r="3"/><circle cx="941.5" cy="1770.7" r="3"/><circle cx="943.1" cy="1767.9" r="3"/><circle cx="946.2" cy="1763.3" r="3"/><circle cx="947.7" cy="1768.8" r="3"/><circle cx="949.2" cy="1765.6" r="3"/><circle cx="950.8" cy="1767.8" r="3"/><circle cx="952.3" cy="1776.8" r="3"/><circle cx="953.9" cy="1769.2" r="3"/><circle cx="955.4" cy="1758.9" r="3"/><circle cx="957.0" cy="1761.1" r="3"/><circle cx="960.1" cy="1759.6" r="3"/><circle cx="961.6" cy="1753.4" r="3"/><circle cx="963.1" cy="1753.2" r="3"/><circle cx="964.7" cy="1754.8" r="3"/><circle cx="966.2" cy="1756.0" r="3"/><circle cx="967.8" cy="1753.9" r="3"/><circle cx="969.3" cy="1769.6" r="3"/><circle cx="970.9" cy="1752.7" r="3"/><circle cx="972.4" cy="1779.5" r="3"/><circle cx="973.9" cy="1756.6" r="3"/><circle cx="975.5" cy="1774.2" r="3"/><circle cx="977.0" cy="1778.9" r="3"/><circle cx="977.0" cy="1734.4" r="3"/><circle cx="978.6" cy="1767.1" r="3"/><circle cx="980.1" cy="1750.3" r="3"/><circle cx="981.7" cy="1754.6" r="3"/><circle cx="983.2" cy="1757.4" r="3"/><circle cx="984.7" cy="1756.0" r="3"/><circle cx="986.3" cy="1757.6" r="3"/><circle cx="987.8" cy="1763.6" r="3"/><circle cx="989.4" cy="1743.0" r="3"/><circle cx="990.9" cy="1737.2" r="3"/><circle cx="992.5" cy="1762.7" r="3"/><circle cx="994.0" cy="1745.7" r="3"/><circle cx="995.6" cy="1759.7" r="3"/><circle cx="997.1" cy="1759.4" r="3"/><circle cx="998.6" cy="1751.7" r="3"/><circle cx="1000.2" cy="1756.0" r="3"/><circle cx="1000.2" cy="1765.4" r="3"/><circle cx="1001.7" cy="1747.7" r="3"/><circle cx="1003.3" cy="1753.6" r="3"/><circle cx="1006.4" cy="1759.8" r="3"/><circle cx="1007.9" cy="1784.5" r="3"/><circle cx="1009.4" cy="1773.9" r="3"/><circle cx="1011.0" cy="1750.8" r="3"/><circle cx="1014.1" cy="1755.3" r="3"/><circle cx="1017.2" cy="1747.3" r="3"/><circle cx="1020.2" cy="1758.7" r="3"/><circle cx="1021.8" cy="1752.4" r="3"/><circle cx="1024.9" cy="1777.6" r="3"/><circle cx="1026.4" cy="1755.9" r="3"/><circle cx="1028.0" cy="1774.7" r="3"/><circle cx="1029.5" cy="1753.2" r="3"/><circle cx="1031.0" cy="1753.5" r="3"/><circle cx="1032.6" cy="1774.6" r="3"/><circle cx="1034.1" cy="1771.5" r="3"/><circle cx="1035.7" cy="1753.6" r="3"/><circle cx="1035.7" cy="1784.6" r="3"/><circle cx="1037.2" cy="1780.5" r="3"/><circle cx="1038.8" cy="1779.3" r="3"/><circle cx="1041.9" cy="1773.3" r="3"/><circle cx="1043.4" cy="1776.4" r="3"/><circle cx="1044.9" cy="1762.0" r="3"/><circle cx="1046.5" cy="1779.3" r="3"/><circle cx="1048.0" cy="1783.1" r="3"/><circle cx="1049.6" cy="1774.3" r="3"/><circle cx="1051.1" cy="1765.0" r="3"/><circle cx="1052.7" cy="1774.6" r="3"/><circle cx="1054.2" cy="1779.6" r="3"/><circle cx="1057.3" cy="1777.5" r="3"/><circle cx="1058.8" cy="1782.3" r="3"/><circle cx="1060.4" cy="1777.5" r="3"/><circle cx="1061.9" cy="1774.6" r="3"/><circle cx="1063.5" cy="1776.0" r="3"/><circle cx="1068.1" cy="1777.6" r="3"/><circle cx="1069.6" cy="1787.1" r="3"/><circle cx="1071.2" cy="1776.3" r="3"/><circle cx="1072.7" cy="1779.3" r="3"/><circle cx="1074.3" cy="1766.2" r="3"/><circle cx="1075.8" cy="1783.8" r="3"/><circle cx="1077.4" cy="1769.0" r="3"/><circle cx="1078.9" cy="1767.5" r="3"/><circle cx="1082.0" cy="1765.8" r="3"/><circle cx="1083.5" cy="1771.1" r="3"/><circle cx="1086.6" cy="1777.5" r="3"/><circle cx="1088.2" cy="1758.9" r="3"/><circle cx="1089.7" cy="1783.5" r="3"/><circle cx="1092.8" cy="1779.6" r="3"/><circle cx="1094.3" cy="1774.1" r="3"/><circle cx="1095.9" cy="1790.4" r="3"/><circle cx="1097.4" cy="1788.1" r="3"/><circle cx="1099.0" cy="1777.8" r="3"/><circle cx="1100.5" cy="1763.8" r="3"/><circle cx="1100.5" cy="1787.4" r="3"/><circle cx="1102.0" cy="1775.6" r="3"/><circle cx="1103.6" cy="1772.7" r="3"/><circle cx="1106.7" cy="1775.3" r="3"/><circle cx="1108.2" cy="1781.8" r="3"/><circle cx="1111.3" cy="1794.8" r="3"/><circle cx="1112.9" cy="1767.6" r="3"/><circle cx="1114.4" cy="1763.0" r="3"/><circle cx="1115.9" cy="1777.6" r="3"/><circle cx="1117.5" cy="1773.7" r="3"/><circle cx="1119.0" cy="1777.8" r="3"/><circle cx="1120.6" cy="1758.6" r="3"/><circle cx="1122.1" cy="1783.5" r="3"/><circle cx="1123.7" cy="1759.0" r="3"/><circle cx="1125.2" cy="1777.2" r="3"/><circle cx="1126.7" cy="1778.0" r="3"/><circle cx="1129.8" cy="1793.6" r="3"/><circle cx="1131.4" cy="1764.1" r="3"/><circle cx="1132.9" cy="1780.9" r="3"/><circle cx="1134.5" cy="1765.3" r="3"/><circle cx="1136.0" cy="1785.1" r="3"/><circle cx="1137.5" cy="1793.4" r="3"/><circle cx="1143.7" cy="1762.6" r="3"/><circle cx="1145.3" cy="1793.8" r="3"/><circle cx="1146.8" cy="1776.9" r="3"/><circle cx="1146.8" cy="1808.9" r="3"/><circle cx="1148.4" cy="1795.5" r="3"/><circle cx="1149.9" cy="1800.4" r="3"/><circle cx="1151.4" cy="1795.8" r="3"/><circle cx="1153.0" cy="1789.0" r="3"/><circle cx="1154.5" cy="1801.5" r="3"/><circle cx="1156.1" cy="1801.8" r="3"/><circle cx="1160.7" cy="1805.3" r="3"/><circle cx="1162.2" cy="1799.5" r="3"/><circle cx="1163.8" cy="1806.5" r="3"/><circle cx="1165.3" cy="1798.8" r="3"/><circle cx="1166.9" cy="1805.4" r="3"/><circle cx="1170.0" cy="1796.4" r="3"/><circle cx="1171.5" cy="1804.1" r="3"/><circle cx="1173.0" cy="1794.8" r="3"/><circle cx="1176.1" cy="1783.7" r="3"/><circle cx="1177.7" cy="1805.7" r="3"/><circle cx="1186.9" cy="1794.7" r="3"/><circle cx="1188.5" cy="1800.9" r="3"/><circle cx="1190.0" cy="1797.0" r="3"/><circle cx="1191.6" cy="1785.2" r="3"/><circle cx="1193.1" cy="1794.7" r="3"/><circle cx="1194.7" cy="1796.7" r="3"/><circle cx="1196.2" cy="1793.2" r="3"/><circle cx="1197.7" cy="1784.6" r="3"/><circle cx="1202.4" cy="1803.8" r="3"/><circle cx="1203.9" cy="1794.8" r="3"/><circle cx="1207.0" cy="1790.9" r="3"/><circle cx="1208.5" cy="1797.1" r="3"/><circle cx="1210.1" cy="1805.3" r="3"/><circle cx="1211.6" cy="1803.0" r="3"/><circle cx="1214.7" cy="1796.6" r="3"/><circle cx="1216.3" cy="1789.3" r="3"/><circle cx="1219.3" cy="1791.6" r="3"/><circle cx="1220.9" cy="1795.9" r="3"/><circle cx="1222.4" cy="1785.3" r="3"/><circle cx="1224.0" cy="1790.2" r="3"/><circle cx="1225.5" cy="1800.6" r="3"/><circle cx="1242.5" cy="1788.4" r="3"/><circle cx="1244.0" cy="1788.8" r="3"/><circle cx="1245.6" cy="1797.3" r="3"/><circle cx="1247.1" cy="1790.7" r="3"/><circle cx="1248.7" cy="1798.8" r="3"/><circle cx="1251.8" cy="1790.2" r="3"/><circle cx="1253.3" cy="1798.3" r="3"/><circle cx="1254.8" cy="1794.3" r="3"/><circle cx="1256.4" cy="1795.3" r="3"/><circle cx="1257.9" cy="1788.6" r="3"/><circle cx="1281.1" cy="1804.6" r="3"/><circle cx="1284.2" cy="1804.6" r="3"/><circle cx="1285.7" cy="1808.1" r="3"/><circle cx="1287.3" cy="1811.7" r="3"/><circle cx="1288.8" cy="1804.7" r="3"/><circle cx="1290.3" cy="1807.8" r="3"/><circle cx="1295.0" cy="1806.1" r="3"/><circle cx="1296.5" cy="1808.2" r="3"/><circle cx="1298.1" cy="1816.8" r="3"/><circle cx="1299.6" cy="1820.7" r="3"/><circle cx="1302.7" cy="1821.0" r="3"/><circle cx="1304.2" cy="1811.3" r="3"/><circle cx="1308.9" cy="1812.3" r="3"/><circle cx="1310.4" cy="1813.0" r="3"/><circle cx="1313.5" cy="1811.6" r="3"/><circle cx="1315.0" cy="1810.3" r="3"/><circle cx="1316.6" cy="1805.3" r="3"/><circle cx="1319.7" cy="1813.2" r="3"/><circle cx="1321.2" cy="1812.8" r="3"/><circle cx="1324.3" cy="1811.3" r="3"/><circle cx="1325.8" cy="1800.4" r="3"/><circle cx="1327.4" cy="1813.9" r="3"/><circle cx="1328.9" cy="1806.5" r="3"/><circle cx="1328.9" cy="1803.5" r="3"/><circle cx="1330.5" cy="1801.3" r="3"/><circle cx="1332.0" cy="1804.9" r="3"/><circle cx="1333.6" cy="1799.2" r="3"/><circle cx="1336.7" cy="1811.0" r="3"/><circle cx="1338.2" cy="1813.9" r="3"/><circle cx="1341.3" cy="1814.4" r="3"/><circle cx="1342.8" cy="1804.5" r="3"/><circle cx="1344.4" cy="1808.3" r="3"/><circle cx="1345.9" cy="1803.3" r="3"/><circle cx="1347.5" cy="1803.4" r="3"/><circle cx="1349.0" cy="1808.5" r="3"/><circle cx="1350.5" cy="1802.7" r="3"/><circle cx="1352.1" cy="1797.7" r="3"/><circle cx="1353.6" cy="1812.1" r="3"/><circle cx="1356.7" cy="1813.4" r="3"/><circle cx="1358.3" cy="1808.8" r="3"/><circle cx="1359.8" cy="1804.1" r="3"/><circle cx="1361.3" cy="1811.3" r="3"/><circle cx="1362.9" cy="1802.6" r="3"/><circle cx="1366.0" cy="1798.8" r="3"/><circle cx="1367.5" cy="1805.8" r="3"/><circle cx="1369.1" cy="1798.1" r="3"/><circle cx="1369.1" cy="1771.0" r="3"/><circle cx="1372.2" cy="1771.6" r="3"/><circle cx="1372.2" cy="1775.2" r="3"/><circle cx="1373.7" cy="1783.4" r="3"/><circle cx="1376.8" cy="1791.1" r="3"/><circle cx="1379.9" cy="1796.1" r="3"/><circle cx="1381.4" cy="1798.2" r="3"/><circle cx="1383.0" cy="1795.8" r="3"/><circle cx="1384.5" cy="1796.0" r="3"/><circle cx="1386.0" cy="1788.2" r="3"/><circle cx="1393.8" cy="1788.9" r="3"/><circle cx="1395.3" cy="1785.7" r="3"/><circle cx="1396.8" cy="1794.2" r="3"/><circle cx="1399.9" cy="1785.7" r="3"/><circle cx="1401.5" cy="1796.2" r="3"/><circle cx="1403.0" cy="1782.6" r="3"/><circle cx="1407.6" cy="1795.0" r="3"/><circle cx="1409.2" cy="1793.4" r="3"/><circle cx="1413.8" cy="1797.3" r="3"/><circle cx="1415.4" cy="1795.3" r="3"/><circle cx="1416.9" cy="1781.7" r="3"/><circle cx="1418.5" cy="1788.6" r="3"/><circle cx="1423.1" cy="1787.4" r="3"/><circle cx="1427.7" cy="1793.4" r="3"/><circle cx="1432.3" cy="1786.1" r="3"/><circle cx="1433.9" cy="1791.5" r="3"/><circle cx="1435.4" cy="1782.5" r="3"/><circle cx="1437.0" cy="1778.0" r="3"/><circle cx="1440.1" cy="1791.5" r="3"/><circle cx="1441.6" cy="1788.9" r="3"/><circle cx="1443.1" cy="1776.7" r="3"/><circle cx="1444.7" cy="1796.2" r="3"/><circle cx="1447.8" cy="1777.0" r="3"/><circle cx="1449.3" cy="1790.1" r="3"/><circle cx="1450.9" cy="1793.6" r="3"/><circle cx="1452.4" cy="1794.7" r="3"/><circle cx="1455.5" cy="1789.0" r="3"/><circle cx="1457.0" cy="1781.3" r="3"/><circle cx="1458.6" cy="1787.7" r="3"/><circle cx="1460.1" cy="1786.6" r="3"/><circle cx="1463.2" cy="1790.7" r="3"/><circle cx="1464.8" cy="1793.8" r="3"/><circle cx="1466.3" cy="1784.9" r="3"/><circle cx="1467.8" cy="1796.5" r="3"/><circle cx="1469.4" cy="1781.9" r="3"/><circle cx="1470.9" cy="1779.5" r="3"/><circle cx="1472.5" cy="1784.3" r="3"/><circle cx="1474.0" cy="1799.6" r="3"/><circle cx="1475.6" cy="1797.3" r="3"/><circle cx="1477.1" cy="1789.5" r="3"/><circle cx="1478.6" cy="1779.8" r="3"/><circle cx="1480.2" cy="1776.4" r="3"/><circle cx="1481.7" cy="1787.9" r="3"/><circle cx="1483.3" cy="1779.4" r="3"/><circle cx="1486.4" cy="1802.6" r="3"/><circle cx="1487.9" cy="1785.6" r="3"/><circle cx="1489.5" cy="1781.9" r="3"/><circle cx="1492.5" cy="1799.6" r="3"/><circle cx="1494.1" cy="1794.0" r="3"/><circle cx="1497.2" cy="1790.2" r="3"/><circle cx="1498.7" cy="1798.1" r="3"/><circle cx="1501.8" cy="1794.4" r="3"/><circle cx="1503.3" cy="1793.3" r="3"/><circle cx="1504.9" cy="1793.0" r="3"/><circle cx="1506.4" cy="1792.8" r="3"/><circle cx="1508.0" cy="1744.2" r="3"/><circle cx="1509.5" cy="1743.8" r="3"/><circle cx="1512.6" cy="1747.6" r="3"/><circle cx="1514.1" cy="1745.9" r="3"/><circle cx="1514.1" cy="1781.2" r="3"/><circle cx="1515.7" cy="1769.9" r="3"/><circle cx="1517.2" cy="1779.0" r="3"/><circle cx="1520.3" cy="1784.8" r="3"/><circle cx="1521.9" cy="1763.8" r="3"/><circle cx="1523.4" cy="1761.3" r="3"/><circle cx="1525.0" cy="1787.5" r="3"/><circle cx="1526.5" cy="1767.0" r="3"/><circle cx="1528.0" cy="1782.5" r="3"/><circle cx="1529.6" cy="1776.6" r="3"/><circle cx="1532.7" cy="1778.9" r="3"/><circle cx="1534.2" cy="1776.0" r="3"/><circle cx="1535.8" cy="1787.5" r="3"/><circle cx="1541.9" cy="1769.6" r="3"/><circle cx="1543.5" cy="1782.3" r="3"/><circle cx="1545.0" cy="1786.0" r="3"/><circle cx="1546.6" cy="1770.0" r="3"/><circle cx="1548.1" cy="1778.0" r="3"/><circle cx="1551.2" cy="1784.0" r="3"/><circle cx="1552.7" cy="1784.5" r="3"/><circle cx="1554.3" cy="1776.4" r="3"/><circle cx="1555.8" cy="1773.4" r="3"/><circle cx="1557.4" cy="1761.0" r="3"/><circle cx="1558.9" cy="1761.7" r="3"/><circle cx="1560.4" cy="1766.2" r="3"/><circle cx="1562.0" cy="1781.0" r="3"/><circle cx="1563.5" cy="1732.4" r="3"/><circle cx="1568.2" cy="1734.6" r="3"/><circle cx="1572.8" cy="1745.2" r="3"/><circle cx="1574.3" cy="1734.4" r="3"/><circle cx="1575.9" cy="1729.5" r="3"/><circle cx="1577.4" cy="1753.5" r="3"/><circle cx="1580.5" cy="1755.4" r="3"/><circle cx="1582.1" cy="1740.5" r="3"/><circle cx="1583.6" cy="1750.7" r="3"/><circle cx="1585.1" cy="1778.9" r="3"/><circle cx="1586.7" cy="1778.4" r="3"/><circle cx="1588.2" cy="1752.2" r="3"/><circle cx="1591.3" cy="1770.1" r="3"/><circle cx="1592.9" cy="1768.9" r="3"/><circle cx="1594.4" cy="1776.3" r="3"/><circle cx="1595.9" cy="1744.2" r="3"/><circle cx="1597.5" cy="1739.7" r="3"/><circle cx="1599.0" cy="1734.4" r="3"/><circle cx="1602.1" cy="1730.7" r="3"/><circle cx="1603.7" cy="1760.2" r="3"/><circle cx="1605.2" cy="1733.4" r="3"/><circle cx="1606.8" cy="1732.0" r="3"/><circle cx="1609.8" cy="1775.5" r="3"/><circle cx="1611.4" cy="1747.9" r="3"/><circle cx="1612.9" cy="1769.0" r="3"/><circle cx="1614.5" cy="1777.3" r="3"/><circle cx="1616.0" cy="1737.3" r="3"/><circle cx="1617.6" cy="1763.6" r="3"/><circle cx="1619.1" cy="1751.7" r="3"/><circle cx="1620.6" cy="1745.7" r="3"/><circle cx="1620.6" cy="1763.1" r="3"/><circle cx="1623.7" cy="1749.0" r="3"/><circle cx="1625.3" cy="1779.3" r="3"/><circle cx="1626.8" cy="1771.8" r="3"/><circle cx="1629.9" cy="1780.1" r="3"/><circle cx="1631.4" cy="1767.0" r="3"/><circle cx="1633.0" cy="1756.0" r="3"/><circle cx="1634.5" cy="1768.8" r="3"/><circle cx="1636.1" cy="1761.9" r="3"/><circle cx="1637.6" cy="1764.2" r="3"/><circle cx="1639.2" cy="1758.2" r="3"/><circle cx="1640.7" cy="1756.4" r="3"/><circle cx="1642.3" cy="1778.3" r="3"/><circle cx="1643.8" cy="1778.5" r="3"/><circle cx="1645.3" cy="1767.9" r="3"/><circle cx="1646.9" cy="1762.5" r="3"/><circle cx="1648.4" cy="1772.8" r="3"/><circle cx="1650.0" cy="1780.3" r="3"/><circle cx="1654.6" cy="1768.9" r="3"/><circle cx="1659.2" cy="1782.8" r="3"/><circle cx="1660.8" cy="1768.0" r="3"/><circle cx="1662.3" cy="1771.7" r="3"/><circle cx="1663.9" cy="1771.9" r="3"/><circle cx="1665.4" cy="1782.6" r="3"/><circle cx="1668.5" cy="1779.0" r="3"/><circle cx="1670.0" cy="1772.2" r="3"/><circle cx="1671.6" cy="1784.4" r="3"/><circle cx="1674.7" cy="1782.8" r="3"/><circle cx="1680.8" cy="1708.1" r="3"/><circle cx="1680.8" cy="1739.8" r="3"/><circle cx="1682.4" cy="1747.6" r="3"/><circle cx="1683.9" cy="1746.1" r="3"/><circle cx="1685.5" cy="1745.3" r="3"/><circle cx="1687.0" cy="1749.3" r="3"/><circle cx="1690.1" cy="1760.9" r="3"/><circle cx="1691.6" cy="1747.0" r="3"/><circle cx="1694.7" cy="1758.2" r="3"/><circle cx="1696.3" cy="1767.1" r="3"/><circle cx="1697.8" cy="1757.2" r="3"/><circle cx="1699.4" cy="1751.8" r="3"/><circle cx="1700.9" cy="1756.8" r="3"/><circle cx="1702.4" cy="1764.8" r="3"/><circle cx="1705.5" cy="1768.0" r="3"/><circle cx="1707.1" cy="1763.6" r="3"/><circle cx="1708.6" cy="1765.2" r="3"/><circle cx="1711.7" cy="1767.3" r="3"/><circle cx="1713.3" cy="1773.8" r="3"/><circle cx="1714.8" cy="1766.7" r="3"/><circle cx="1716.3" cy="1766.3" r="3"/><circle cx="1717.9" cy="1774.3" r="3"/><circle cx="1719.4" cy="1779.9" r="3"/><circle cx="1721.0" cy="1778.4" r="3"/><circle cx="1722.5" cy="1774.7" r="3"/><circle cx="1725.6" cy="1780.0" r="3"/><circle cx="1727.1" cy="1772.7" r="3"/><circle cx="1728.7" cy="1775.3" r="3"/><circle cx="1730.2" cy="1779.1" r="3"/><circle cx="1731.8" cy="1774.6" r="3"/><circle cx="1734.9" cy="1776.7" r="3"/><circle cx="1736.4" cy="1787.1" r="3"/><circle cx="1737.9" cy="1790.4" r="3"/><circle cx="1739.5" cy="1776.0" r="3"/><circle cx="1741.0" cy="1783.0" r="3"/><circle cx="1742.6" cy="1780.1" r="3"/><circle cx="1744.1" cy="1781.1" r="3"/><circle cx="1745.7" cy="1784.6" r="3"/><circle cx="1747.2" cy="1796.8" r="3"/><circle cx="1748.7" cy="1783.3" r="3"/><circle cx="1750.3" cy="1793.9" r="3"/><circle cx="1753.4" cy="1796.0" r="3"/><circle cx="1756.5" cy="1795.8" r="3"/><circle cx="1758.0" cy="1792.2" r="3"/><circle cx="1762.6" cy="1801.1" r="3"/><circle cx="1764.2" cy="1798.8" r="3"/><circle cx="1765.7" cy="1801.3" r="3"/><circle cx="1767.3" cy="1798.6" r="3"/><circle cx="270.1" cy="1751.4" r="3"/><circle cx="302.5" cy="1766.3" r="3"/><circle cx="469.2" cy="1740.7" r="3"/><circle cx="487.8" cy="1740.4" r="3"/><circle cx="591.2" cy="1732.9" r="3"/><circle cx="719.3" cy="1826.7" r="3"/><circle cx="744.0" cy="1778.0" r="3"/><circle cx="790.3" cy="1821.7" r="3"/><circle cx="886.0" cy="1752.5" r="3"/><circle cx="869.0" cy="1772.4" r="3"/><circle cx="842.8" cy="1777.3" r="3"/><circle cx="1028.0" cy="1697.8" r="3"/><circle cx="1071.2" cy="1812.5" r="3"/><circle cx="1245.6" cy="1818.5" r="3"/><circle cx="1463.2" cy="1762.8" r="3"/><circle cx="1432.3" cy="1813.2" r="3"/><circle cx="1457.0" cy="1826.3" r="3"/><circle cx="1532.7" cy="1740.7" r="3"/><circle cx="1597.5" cy="1706.3" r="3"/><circle cx="1628.4" cy="1794.7" r="3"/><circle cx="1792.0" cy="1800.4" r="3"/><circle cx="1804.3" cy="1819.6" r="3"/></g>
<rect x="254.7" y="1448.8" width="1552.7" height="177.7" fill="none" stroke="#000" stroke-width="2.8"/>
<rect x="254.7" y="1656.2" width="1552.7" height="177.6" fill="none" stroke="#000" stroke-width="2.8"/>
<path d="M254.7 1626.5h-14M254.7 1608.7h-7M254.7 1591.0h-14M254.7 1573.2h-7M254.7 1555.4h-14M254.7 1537.7h-7M254.7 1519.9h-14M254.7 1502.1h-7M254.7 1484.4h-14M254.7 1466.6h-7M254.7 1448.8h-14M254.7 1833.8h-14M254.7 1816.0h-7M254.7 1798.3h-14M254.7 1780.5h-7M254.7 1762.8h-14M254.7 1745.0h-7M254.7 1727.2h-14M254.7 1709.5h-7M254.7 1691.7h-14M254.7 1674.0h-7M254.7 1656.2h-14M1807.4 1626.5h-14M1807.4 1608.7h-7M1807.4 1591.0h-14M1807.4 1573.2h-7M1807.4 1555.4h-14M1807.4 1537.7h-7M1807.4 1519.9h-14M1807.4 1502.1h-7M1807.4 1484.4h-14M1807.4 1466.6h-7M1807.4 1448.8h-14M1807.4 1656.2h-14M1807.4 1678.4h-14M1807.4 1700.6h-14M1807.4 1722.8h-14M1807.4 1745.0h-14M1807.4 1767.2h-14M1807.4 1789.4h-14M1807.4 1811.6h-14M1807.4 1833.8h-14M254.7 1448.8v14M254.7 1656.2v14M254.7 1833.8v14M396.7 1448.8v7M396.7 1656.2v7M396.7 1833.8v7M537.1 1448.8v14M537.1 1656.2v14M537.1 1833.8v14M680.7 1448.8v7M680.7 1656.2v7M680.7 1833.8v7M818.1 1448.8v14M818.1 1656.2v14M818.1 1833.8v14M961.6 1448.8v7M961.6 1656.2v7M961.6 1833.8v7M1102.0 1448.8v14M1102.0 1656.2v14M1102.0 1833.8v14M1245.6 1448.8v7M1245.6 1656.2v7M1245.6 1833.8v7M1381.4 1448.8v14M1381.4 1656.2v14M1381.4 1833.8v14M1525.0 1448.8v7M1525.0 1656.2v7M1525.0 1833.8v7M1665.4 1448.8v14M1665.4 1656.2v14M1665.4 1833.8v14" stroke="#000" stroke-width="2.8" fill="none"/>
<g font-size="32"><text x="230.4" y="1633.6" text-anchor="end">0.0</text><text x="230.4" y="1598.1" text-anchor="end">0.2</text><text x="230.4" y="1562.5" text-anchor="end">0.4</text><text x="230.4" y="1527.0" text-anchor="end">0.6</text><text x="230.4" y="1491.5" text-anchor="end">0.8</text><text x="230.4" y="1455.9" text-anchor="end">1.0</text><text x="230.4" y="1840.9" text-anchor="end">0.0</text><text x="230.4" y="1805.4" text-anchor="end">0.1</text><text x="230.4" y="1769.9" text-anchor="end">0.2</text><text x="230.4" y="1734.3" text-anchor="end">0.3</text><text x="230.4" y="1698.8" text-anchor="end">0.4</text><text x="230.4" y="1663.3" text-anchor="end">0.5</text><text x="1821.6" y="1633.6">0</text><text x="1821.6" y="1598.1">20</text><text x="1821.6" y="1562.5">40</text><text x="1821.6" y="1527.0">60</text><text x="1821.6" y="1491.5">80</text><text x="1821.6" y="1455.9">100</text><text x="1821.6" y="1663.3">0</text><text x="1821.6" y="1685.5">20</text><text x="1821.6" y="1707.7">40</text><text x="1821.6" y="1729.9">60</text><text x="1821.6" y="1752.1">80</text><text x="1821.6" y="1774.3">100</text><text x="1821.6" y="1796.5">120</text><text x="1821.6" y="1818.7">140</text><text x="1821.6" y="1840.9">160</text><text x="254.7" y="1879.9" text-anchor="middle">2015/3/31</text><text x="537.1" y="1879.9" text-anchor="middle">2015/9/30</text><text x="818.1" y="1879.9" text-anchor="middle">2016/3/30</text><text x="1102.0" y="1879.9" text-anchor="middle">2016/9/30</text><text x="1381.4" y="1879.9" text-anchor="middle">2017/3/30</text><text x="1665.4" y="1879.9" text-anchor="middle">2017/9/30</text></g>
<text transform="translate(174.7 1536.8) rotate(-90)" text-anchor="middle" font-size="33" textLength="83" lengthAdjust="spacingAndGlyphs">NDVI</text>
<text transform="translate(174.6 1744.0) rotate(-90)" text-anchor="middle" font-size="32" textLength="179" lengthAdjust="spacingAndGlyphs">VSM(m<tspan font-size="21" dy="-12">3</tspan><tspan dy="12">/m</tspan><tspan font-size="21" dy="-12">3</tspan><tspan dy="12">)</tspan></text>
<text transform="translate(1909.6 1537.9) rotate(-90)" text-anchor="middle" font-size="32" textLength="192.7" lengthAdjust="spacingAndGlyphs">ET(mm/8day)</text>
<text transform="translate(1903.1 1742.3) rotate(-90)" text-anchor="middle" font-size="32" textLength="198.8" lengthAdjust="spacingAndGlyphs">PRE(mm/day)</text>
<text transform="translate(84.5 1706.9) rotate(90)" text-anchor="middle" font-size="45.5" font-weight="bold" textLength="317.2" lengthAdjust="spacingAndGlyphs">Raoyang station</text>
<text x="1945.3" y="255.5" font-size="62" textLength="67.6" lengthAdjust="spacingAndGlyphs">(a)</text>
<text x="1947.9" y="714.7" font-size="62" textLength="70.5" lengthAdjust="spacingAndGlyphs">(b)</text>
<text x="1945.4" y="1194.5" font-size="62" textLength="63.8" lengthAdjust="spacingAndGlyphs">(c)</text>
<text x="1951.1" y="1655.0" font-size="62" textLength="73.8" lengthAdjust="spacingAndGlyphs">(d)</text>
<circle cx="1971.8" cy="868.7" r="3.1" fill="#00cd88"/>
<rect x="1940.4" y="889.7" width="62.8" height="30.7" fill="#00c8c8" stroke="#00aaff" stroke-width="1"/>
<circle cx="1971.8" cy="940.3" r="5.1" fill="#0080ff"/>
<rect x="1939.9" y="960.8" width="63.8" height="32.6" fill="#ff6600"/>
<g font-size="25"><text x="2009" y="878.5">SM</text><text x="2009" y="914">PRE</text><text x="2009" y="950.1">NDVI</text><text x="2009" y="986.1">ET</text></g>
</svg>
</body></html>
